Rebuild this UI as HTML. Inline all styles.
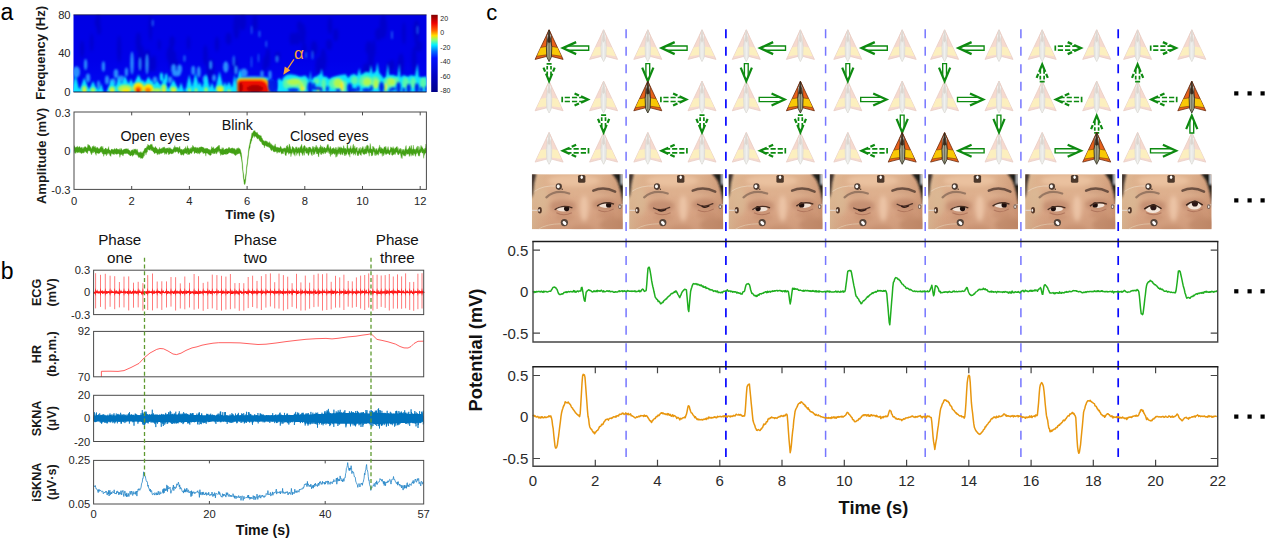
<!DOCTYPE html>
<html><head><meta charset="utf-8"><title>Figure</title>
<style>html,body{margin:0;padding:0;background:#fff;overflow:hidden}svg{display:block;font-family:"Liberation Sans", sans-serif}</style>
</head><body>
<svg width="1269" height="541" viewBox="0 0 1269 541">
<text x="0.6" y="19.6" font-size="23" text-anchor="start" fill="#000">a</text>
<defs>
<clipPath id="spc"><rect x="73.5" y="14.8" width="353.0" height="77.2"/></clipPath>
<filter id="b1" x="-50%" y="-50%" width="200%" height="200%"><feGaussianBlur stdDeviation="0.9"/></filter>
<filter id="b2" x="-50%" y="-50%" width="200%" height="200%"><feGaussianBlur stdDeviation="1.6"/></filter>
<linearGradient id="jet" x1="0" y1="0" x2="0" y2="1"><stop offset="0" stop-color="#800000"/><stop offset="0.11" stop-color="#f00000"/><stop offset="0.2" stop-color="#ff6000"/><stop offset="0.27" stop-color="#ffe000"/><stop offset="0.33" stop-color="#80ff80"/><stop offset="0.39" stop-color="#00f0ff"/><stop offset="0.47" stop-color="#0070ff"/><stop offset="0.56" stop-color="#0010ff"/><stop offset="0.8" stop-color="#0000c0"/><stop offset="1" stop-color="#000088"/></linearGradient>
<linearGradient id="spbg" x1="0" y1="0" x2="0" y2="1"><stop offset="0" stop-color="#0000e4"/><stop offset="0.6" stop-color="#0000ea"/><stop offset="1" stop-color="#0008f4"/></linearGradient>
</defs>
<rect x="73.5" y="14.8" width="353.0" height="77.2" fill="url(#spbg)"/>
<g clip-path="url(#spc)">
<g filter="url(#b2)" opacity="0.55">
<ellipse cx="267.9" cy="57.6" rx="2.2" ry="9.6" fill="#0000b8"/>
<ellipse cx="388.7" cy="68.2" rx="1.8" ry="6.9" fill="#0000b8"/>
<ellipse cx="91.7" cy="42.6" rx="1.6" ry="9.1" fill="#0000b8"/>
<ellipse cx="302.6" cy="33.5" rx="3.2" ry="10.3" fill="#0000b8"/>
<ellipse cx="82.0" cy="49.2" rx="2.1" ry="8.7" fill="#0000b8"/>
<ellipse cx="173.6" cy="56.8" rx="2.6" ry="6.4" fill="#0000b8"/>
<ellipse cx="265.8" cy="61.7" rx="2.3" ry="7.0" fill="#0000b8"/>
<ellipse cx="210.5" cy="70.4" rx="3.9" ry="11.1" fill="#0000b8"/>
<ellipse cx="392.2" cy="65.3" rx="2.4" ry="5.8" fill="#0000b8"/>
<ellipse cx="304.2" cy="49.2" rx="2.4" ry="7.0" fill="#0000b8"/>
<ellipse cx="217.0" cy="44.2" rx="2.2" ry="7.6" fill="#0000b8"/>
<ellipse cx="235.1" cy="66.2" rx="3.0" ry="7.6" fill="#0000b8"/>
<ellipse cx="171.6" cy="43.3" rx="2.0" ry="6.8" fill="#0000b8"/>
<ellipse cx="255.0" cy="22.7" rx="2.7" ry="8.3" fill="#0000b8"/>
<ellipse cx="323.3" cy="59.8" rx="3.2" ry="11.2" fill="#0000b8"/>
<ellipse cx="205.4" cy="55.3" rx="2.3" ry="10.2" fill="#0000b8"/>
<ellipse cx="188.5" cy="42.8" rx="1.7" ry="7.2" fill="#0000b8"/>
<ellipse cx="416.5" cy="30.8" rx="3.2" ry="10.9" fill="#0000b8"/>
<ellipse cx="329.1" cy="44.5" rx="3.0" ry="5.6" fill="#0000b8"/>
<ellipse cx="99.1" cy="29.0" rx="1.9" ry="5.9" fill="#0000b8"/>
<ellipse cx="119.1" cy="48.9" rx="2.0" ry="13.6" fill="#0000b8"/>
<ellipse cx="314.1" cy="48.2" rx="3.3" ry="7.4" fill="#0000b8"/>
<ellipse cx="400.6" cy="65.0" rx="3.3" ry="9.3" fill="#0000b8"/>
<ellipse cx="370.8" cy="59.7" rx="3.2" ry="13.2" fill="#0000b8"/>
<ellipse cx="297.2" cy="38.4" rx="2.9" ry="6.8" fill="#0000b8"/>
<ellipse cx="141.3" cy="58.6" rx="3.5" ry="13.7" fill="#0000b8"/>
<ellipse cx="373.9" cy="48.4" rx="1.7" ry="9.4" fill="#0000b8"/>
<ellipse cx="401.1" cy="62.1" rx="2.7" ry="9.1" fill="#0000b8"/>
<ellipse cx="150.4" cy="27.8" rx="1.7" ry="13.0" fill="#0000b8"/>
<ellipse cx="299.5" cy="25.9" rx="2.5" ry="5.4" fill="#0000b8"/>
<ellipse cx="147.4" cy="58.9" rx="3.1" ry="9.3" fill="#0000b8"/>
<ellipse cx="170.5" cy="54.5" rx="3.9" ry="8.9" fill="#0000b8"/>
<ellipse cx="98.3" cy="21.0" rx="1.7" ry="13.6" fill="#0000b8"/>
<ellipse cx="264.4" cy="64.9" rx="1.9" ry="7.3" fill="#0000b8"/>
<ellipse cx="317.8" cy="68.1" rx="2.4" ry="5.6" fill="#0000b8"/>
<ellipse cx="378.5" cy="34.1" rx="3.4" ry="6.4" fill="#0000b8"/>
<ellipse cx="318.8" cy="65.1" rx="3.3" ry="8.2" fill="#0000b8"/>
<ellipse cx="330.0" cy="25.6" rx="2.3" ry="8.8" fill="#0000b8"/>
<ellipse cx="383.2" cy="26.4" rx="3.7" ry="12.2" fill="#0000b8"/>
<ellipse cx="416.5" cy="38.5" rx="2.0" ry="7.2" fill="#0000b8"/>
<ellipse cx="365.7" cy="72.0" rx="3.2" ry="9.3" fill="#0000b8"/>
<ellipse cx="174.8" cy="64.7" rx="3.7" ry="5.8" fill="#0000b8"/>
<ellipse cx="149.7" cy="64.5" rx="3.6" ry="7.8" fill="#0000b8"/>
<ellipse cx="172.1" cy="42.0" rx="2.8" ry="5.9" fill="#0000b8"/>
<ellipse cx="368.9" cy="47.9" rx="3.4" ry="7.1" fill="#0000b8"/>
<ellipse cx="414.2" cy="60.0" rx="2.4" ry="13.5" fill="#0000b8"/>
<ellipse cx="320.8" cy="65.0" rx="1.6" ry="5.5" fill="#0000b8"/>
<ellipse cx="335.7" cy="34.9" rx="2.8" ry="6.4" fill="#0000b8"/>
<ellipse cx="418.7" cy="46.1" rx="3.6" ry="5.7" fill="#0000b8"/>
<ellipse cx="242.6" cy="21.3" rx="3.7" ry="9.0" fill="#0000b8"/>
<ellipse cx="97.7" cy="22.1" rx="2.8" ry="5.7" fill="#0000b8"/>
<ellipse cx="138.4" cy="42.3" rx="2.7" ry="10.2" fill="#0000b8"/>
<ellipse cx="292.5" cy="38.8" rx="3.0" ry="6.4" fill="#0000b8"/>
<ellipse cx="170.8" cy="62.7" rx="1.9" ry="7.0" fill="#0000b8"/>
<ellipse cx="159.3" cy="44.7" rx="1.5" ry="5.3" fill="#0000b8"/>
<ellipse cx="236.4" cy="26.9" rx="3.2" ry="12.2" fill="#0000b8"/>
<ellipse cx="277.6" cy="56.8" rx="2.5" ry="5.4" fill="#0000b8"/>
<ellipse cx="228.6" cy="38.7" rx="3.0" ry="6.2" fill="#0000b8"/>
<ellipse cx="153.9" cy="63.6" rx="2.2" ry="8.7" fill="#0000b8"/>
<ellipse cx="403.9" cy="33.3" rx="1.9" ry="11.3" fill="#0000b8"/>
</g>
<g filter="url(#b1)">
<ellipse cx="85.6" cy="64.5" rx="1.6500000000000001" ry="5.75" fill="#2a96ff" opacity="0.95"/>
<ellipse cx="132.0" cy="63.0" rx="1.7850000000000004" ry="11.5" fill="#2a96ff" opacity="0.95"/>
<ellipse cx="147.0" cy="64.0" rx="1.6500000000000001" ry="10.35" fill="#2a96ff" opacity="0.95"/>
<ellipse cx="140.0" cy="64.0" rx="1.3800000000000001" ry="6.8999999999999995" fill="#2a96ff" opacity="0.95"/>
<ellipse cx="152.7" cy="23.0" rx="0.8800000000000001" ry="3.4499999999999997" fill="#2a96ff" opacity="0.7"/>
<ellipse cx="184.5" cy="58.5" rx="1.1" ry="3.4499999999999997" fill="#2a96ff" opacity="0.7"/>
<ellipse cx="210.7" cy="65.0" rx="1.5150000000000001" ry="4.6" fill="#2a96ff" opacity="0.95"/>
<ellipse cx="126.4" cy="72.0" rx="1.6500000000000001" ry="4.6" fill="#2a96ff" opacity="0.95"/>
<ellipse cx="193.2" cy="70.4" rx="1.9200000000000002" ry="4.6" fill="#2a96ff" opacity="0.95"/>
<ellipse cx="103.4" cy="66.5" rx="1.6500000000000001" ry="5.175" fill="#2a96ff" opacity="0.95"/>
<ellipse cx="116.0" cy="73.6" rx="2.325" ry="4.6" fill="#2a96ff" opacity="0.95"/>
<ellipse cx="198.8" cy="72.0" rx="1.9200000000000002" ry="5.75" fill="#2a96ff" opacity="0.95"/>
<ellipse cx="225.8" cy="67.0" rx="2.73" ry="5.75" fill="#2a96ff" opacity="0.95"/>
<ellipse cx="233.8" cy="61.0" rx="1.32" ry="5.75" fill="#2a96ff" opacity="0.7"/>
<ellipse cx="244.0" cy="73.0" rx="3.675" ry="4.6" fill="#2a96ff" opacity="0.95"/>
<ellipse cx="76.4" cy="72.0" rx="3.675" ry="5.75" fill="#2a96ff" opacity="0.95"/>
<ellipse cx="98.6" cy="85.0" rx="1.6500000000000001" ry="4.6" fill="#2a96ff" opacity="0.95"/>
<ellipse cx="173.6" cy="68.5" rx="2.46" ry="4.6" fill="#2a96ff" opacity="0.95"/>
<ellipse cx="179.6" cy="69.0" rx="2.46" ry="4.6" fill="#2a96ff" opacity="0.95"/>
<ellipse cx="176.5" cy="73.5" rx="4.3500000000000005" ry="2.9899999999999998" fill="#2a96ff" opacity="0.95"/>
<ellipse cx="121.0" cy="79.0" rx="3.675" ry="3.4499999999999997" fill="#2a96ff" opacity="0.95"/>
<ellipse cx="113.0" cy="82.0" rx="3.0" ry="3.4499999999999997" fill="#2a96ff" opacity="0.95"/>
<ellipse cx="170.0" cy="80.0" rx="2.325" ry="3.4499999999999997" fill="#2a96ff" opacity="0.95"/>
<ellipse cx="214.0" cy="78.0" rx="1.9200000000000002" ry="3.4499999999999997" fill="#2a96ff" opacity="0.95"/>
<ellipse cx="251.6" cy="30.0" rx="0.66" ry="4.6" fill="#2a96ff" opacity="0.7"/>
<ellipse cx="259.5" cy="34.0" rx="0.8800000000000001" ry="3.4499999999999997" fill="#2a96ff" opacity="0.7"/>
<ellipse cx="266.3" cy="44.0" rx="0.77" ry="3.4499999999999997" fill="#2a96ff" opacity="0.7"/>
<ellipse cx="251.5" cy="62.0" rx="0.66" ry="5.75" fill="#2a96ff" opacity="0.7"/>
<ellipse cx="258.5" cy="58.0" rx="0.66" ry="4.6" fill="#2a96ff" opacity="0.7"/>
<ellipse cx="277.0" cy="59.0" rx="1.6500000000000001" ry="3.4499999999999997" fill="#2a96ff" opacity="0.7"/>
<ellipse cx="312.5" cy="55.0" rx="0.8800000000000001" ry="4.6" fill="#2a96ff" opacity="0.7"/>
<ellipse cx="392.0" cy="35.0" rx="0.77" ry="4.6" fill="#2a96ff" opacity="0.7"/>
<ellipse cx="417.5" cy="30.0" rx="0.77" ry="4.6" fill="#2a96ff" opacity="0.7"/>
<ellipse cx="306.0" cy="55.0" rx="0.77" ry="3.4499999999999997" fill="#2a96ff" opacity="0.7"/>
<ellipse cx="270.0" cy="75.0" rx="1.6500000000000001" ry="4.6" fill="#2a96ff" opacity="0.95"/>
<ellipse cx="262.0" cy="74.0" rx="1.6500000000000001" ry="3.4499999999999997" fill="#2a96ff" opacity="0.95"/>
<ellipse cx="88.0" cy="78.0" rx="2.19" ry="4.6" fill="#2a96ff" opacity="0.95"/>
<ellipse cx="236.0" cy="70.0" rx="1.6500000000000001" ry="4.6" fill="#2a96ff" opacity="0.95"/>
<ellipse cx="205.0" cy="79.0" rx="2.325" ry="3.4499999999999997" fill="#2a96ff" opacity="0.95"/>
<ellipse cx="155.0" cy="80.0" rx="2.325" ry="3.4499999999999997" fill="#2a96ff" opacity="0.95"/>
<ellipse cx="107.0" cy="80.0" rx="2.055" ry="4.6" fill="#2a96ff" opacity="0.95"/>
</g>
<g filter="url(#b1)">
<rect x="73" y="88.2" width="26" height="5" fill="#08e4ff" opacity="0.8"/>
<rect x="108" y="88.2" width="70" height="5" fill="#08e4ff" opacity="0.8"/>
<rect x="185" y="88.2" width="14" height="5" fill="#08e4ff" opacity="0.8"/>
<rect x="203" y="88.2" width="7" height="5" fill="#08e4ff" opacity="0.8"/>
<rect x="215" y="88.2" width="22" height="5" fill="#08e4ff" opacity="0.8"/>
<path d="M71.1 93.0 Q73.1 83.8 75.5 74.5 Q77.9 83.8 79.9 93.0 Z" fill="#08e4ff" opacity="1.0"/>
<path d="M78.7 93.0 Q81.2 85.2 84.3 77.5 Q87.4 85.2 89.9 93.0 Z" fill="#08e4ff" opacity="1.0"/>
<path d="M87.7 93.0 Q90.1 87.0 93.0 81.0 Q95.9 87.0 98.3 93.0 Z" fill="#08e4ff" opacity="1.0"/>
<path d="M105.8 93.0 Q108.6 86.2 112.0 79.5 Q115.4 86.2 118.2 93.0 Z" fill="#08e4ff" opacity="1.0"/>
<path d="M113.1 93.0 Q115.8 85.2 119.0 77.5 Q122.2 85.2 124.9 93.0 Z" fill="#08e4ff" opacity="1.0"/>
<path d="M117.5 93.0 Q120.8 84.5 125.0 76.0 Q129.2 84.5 132.6 93.0 Z" fill="#08e4ff" opacity="1.0"/>
<path d="M125.0 93.0 Q127.7 85.8 131.0 78.5 Q134.3 85.8 137.1 93.0 Z" fill="#08e4ff" opacity="1.0"/>
<path d="M147.9 93.0 Q152.0 86.8 157.0 80.5 Q162.0 86.8 166.1 93.0 Z" fill="#08e4ff" opacity="1.0"/>
<path d="M158.7 93.0 Q161.1 85.2 164.0 77.5 Q166.9 85.2 169.3 93.0 Z" fill="#08e4ff" opacity="1.0"/>
<path d="M166.6 93.0 Q169.7 86.2 173.4 79.5 Q177.1 86.2 180.2 93.0 Z" fill="#08e4ff" opacity="1.0"/>
<path d="M185.1 93.0 Q186.9 83.8 189.2 74.5 Q191.5 83.8 193.3 93.0 Z" fill="#08e4ff" opacity="1.0"/>
<path d="M190.9 93.0 Q193.0 82.8 195.6 72.5 Q198.2 82.8 200.3 93.0 Z" fill="#08e4ff" opacity="1.0"/>
<path d="M201.0 93.0 Q203.2 83.2 206.0 73.5 Q208.8 83.2 211.0 93.0 Z" fill="#08e4ff" opacity="1.0"/>
<path d="M214.5 93.0 Q216.8 82.2 219.5 71.5 Q222.2 82.2 224.5 93.0 Z" fill="#08e4ff" opacity="1.0"/>
<path d="M223.7 93.0 Q226.1 87.2 229.0 81.5 Q231.9 87.2 234.3 93.0 Z" fill="#08e4ff" opacity="1.0"/>
<path d="M231.1 93.0 Q232.7 83.8 234.6 74.5 Q236.5 83.8 238.1 93.0 Z" fill="#08e4ff" opacity="1.0"/>
<path d="M129.4 93.0 Q133.5 83.8 138.5 74.5 Q143.5 83.8 147.6 93.0 Z" fill="#08e4ff" opacity="1.0"/>
<path d="M139.4 93.0 Q143.5 84.8 148.5 76.5 Q153.5 84.8 157.6 93.0 Z" fill="#08e4ff" opacity="1.0"/>
<path d="M136.2 93.0 Q139.3 86.2 143.0 79.5 Q146.7 86.2 149.8 93.0 Z" fill="#08e4ff" opacity="1.0"/>
<path d="M146.7 93.0 Q149.1 86.2 152.0 79.5 Q154.9 86.2 157.3 93.0 Z" fill="#08e4ff" opacity="1.0"/>
<path d="M234.4 93.0 Q236.9 80.8 240.0 68.5 Q243.1 80.8 245.6 93.0 Z" fill="#08e4ff" opacity="1.0"/>
<path d="M269.1 93.0 Q270.4 85.8 272.0 78.5 Q273.6 85.8 274.9 93.0 Z" fill="#08e4ff" opacity="1.0"/>
<path d="M98.0 93.0 Q99.3 88.2 101.0 83.5 Q102.7 88.2 104.0 93.0 Z" fill="#08e4ff" opacity="1.0"/>
<path d="M177.2 93.0 Q178.9 87.8 181.0 82.5 Q183.1 87.8 184.8 93.0 Z" fill="#08e4ff" opacity="1.0"/>
<path d="M196.2 93.0 Q197.9 87.2 200.0 81.5 Q202.1 87.2 203.8 93.0 Z" fill="#08e4ff" opacity="1.0"/>
<path d="M208.2 93.0 Q209.9 87.8 212.0 82.5 Q214.1 87.8 215.8 93.0 Z" fill="#08e4ff" opacity="1.0"/>
<path d="M221.2 93.0 Q222.9 87.2 225.0 81.5 Q227.1 87.2 228.8 93.0 Z" fill="#08e4ff" opacity="1.0"/>
<ellipse cx="161.4" cy="77.0" rx="1.7" ry="4.5" fill="#08e4ff" opacity="1.0"/>
<ellipse cx="166.2" cy="78.5" rx="1.5" ry="5" fill="#08e4ff" opacity="1.0"/>
<ellipse cx="253.0" cy="79.2" rx="17" ry="2.8" fill="#08e4ff" opacity="0.9"/>
<ellipse cx="253.0" cy="77.6" rx="15" ry="1.6" fill="#2a96ff" opacity="0.8"/>
</g>
<g filter="url(#b1)">
<path d="M276.9 91.7 L277.6 80.0 L279.5 78.1 L282.0 81.2 L283.2 77.4 L286.4 74.9 L290.2 74.3 L295.2 74.9 L300.3 76.8 L305.3 75.5 L307.8 78.1 L309.1 81.2 L310.4 70.5 L311.6 81.2 L313.5 77.4 L316.7 76.2 L320.4 73.7 L321.7 68.6 L323.0 76.2 L326.7 76.8 L329.3 79.3 L331.8 77.4 L335.6 76.2 L340.6 74.9 L345.7 74.3 L348.2 78.1 L350.7 74.9 L354.5 73.7 L357.0 76.2 L359.5 68.0 L360.8 74.9 L365.8 71.8 L369.6 72.4 L370.9 64.8 L372.8 73.7 L375.9 71.1 L377.4 62.3 L379.1 72.4 L382.2 76.2 L384.1 78.7 L386.0 76.2 L387.9 63.6 L389.2 74.9 L393.6 74.9 L397.4 76.8 L399.3 63.6 L400.5 77.4 L403.7 74.9 L407.5 76.8 L411.2 74.9 L415.0 76.2 L417.5 63.6 L418.8 76.8 L422.6 77.4 L427.0 76.2 L427.0 92.6 L276.9 92.6 Z" fill="#08e4ff"/>
</g>
<g filter="url(#b1)">
<ellipse cx="295.2" cy="83.1" rx="11" ry="5.2" fill="#5cf7a8" opacity="0.95"/>
<ellipse cx="286.4" cy="83.7" rx="3.5" ry="5" fill="#5cf7a8" opacity="0.95"/>
<ellipse cx="304.0" cy="85.0" rx="3.5" ry="6" fill="#5cf7a8" opacity="0.95"/>
<ellipse cx="323.6" cy="84.4" rx="2.6" ry="6" fill="#5cf7a8" opacity="0.95"/>
<ellipse cx="316.7" cy="81.2" rx="3" ry="3" fill="#5cf7a8" opacity="0.95"/>
<ellipse cx="336.8" cy="83.7" rx="8" ry="6" fill="#5cf7a8" opacity="0.95"/>
<ellipse cx="344.4" cy="86.3" rx="3" ry="6" fill="#5cf7a8" opacity="0.95"/>
<ellipse cx="354.5" cy="80.6" rx="3.5" ry="4" fill="#5cf7a8" opacity="0.95"/>
<ellipse cx="365.8" cy="81.2" rx="7" ry="6" fill="#5cf7a8" opacity="0.95"/>
<ellipse cx="375.3" cy="82.5" rx="5" ry="6.5" fill="#5cf7a8" opacity="0.95"/>
<ellipse cx="389.8" cy="83.1" rx="6.5" ry="6" fill="#5cf7a8" opacity="0.95"/>
<ellipse cx="396.1" cy="81.2" rx="3" ry="4" fill="#5cf7a8" opacity="0.95"/>
<ellipse cx="405.6" cy="83.1" rx="3.5" ry="5.5" fill="#5cf7a8" opacity="0.95"/>
<ellipse cx="413.1" cy="83.1" rx="3" ry="5.5" fill="#5cf7a8" opacity="0.95"/>
<ellipse cx="423.2" cy="83.1" rx="3.2" ry="5.5" fill="#5cf7a8" opacity="0.95"/>
<ellipse cx="294.0" cy="81.9" rx="7" ry="3.2" fill="#b4f84c" opacity="0.95"/>
<ellipse cx="301.5" cy="86.9" rx="2.2" ry="4.5" fill="#b4f84c" opacity="0.95"/>
<ellipse cx="338.1" cy="83.1" rx="4.5" ry="4.5" fill="#b4f84c" opacity="0.95"/>
<ellipse cx="367.1" cy="81.9" rx="4" ry="3.6" fill="#b4f84c" opacity="0.95"/>
<ellipse cx="375.9" cy="83.7" rx="2.5" ry="4.5" fill="#b4f84c" opacity="0.95"/>
<ellipse cx="391.1" cy="81.9" rx="4" ry="3.6" fill="#b4f84c" opacity="0.95"/>
<ellipse cx="318.5" cy="89.4" rx="2" ry="2.5" fill="#b4f84c" opacity="0.95"/>
<ellipse cx="341.9" cy="86.9" rx="1.5" ry="4.8" fill="#ffe800" opacity="0.95"/>
<ellipse cx="385.6" cy="87.5" rx="1.3" ry="4.2" fill="#ffe800" opacity="0.95"/>
<ellipse cx="303.0" cy="89.0" rx="1.3" ry="2.6" fill="#ffe800" opacity="0.95"/>
<ellipse cx="84.3" cy="89.4" rx="2.4" ry="3.6" fill="#b4f84c" opacity="0.95"/>
<ellipse cx="93.0" cy="90.2" rx="2.4" ry="2.6" fill="#b4f84c" opacity="0.95"/>
<ellipse cx="112.0" cy="89.6" rx="3.0" ry="3.2" fill="#b4f84c" opacity="0.95"/>
<ellipse cx="125.0" cy="88.8" rx="7.5" ry="4" fill="#b4f84c" opacity="0.95"/>
<ellipse cx="163.8" cy="88.8" rx="2.5" ry="4.2" fill="#b4f84c" opacity="0.95"/>
<ellipse cx="173.4" cy="89.6" rx="3.2" ry="3.2" fill="#b4f84c" opacity="0.95"/>
<ellipse cx="220.0" cy="89.0" rx="4" ry="3.6" fill="#b4f84c" opacity="0.95"/>
<ellipse cx="157.0" cy="90.4" rx="4" ry="2.4" fill="#b4f84c" opacity="0.95"/>
<ellipse cx="189.5" cy="90.5" rx="1.4" ry="2.4" fill="#b4f84c" opacity="0.95"/>
<ellipse cx="196.0" cy="90.5" rx="1.4" ry="2.4" fill="#b4f84c" opacity="0.95"/>
<ellipse cx="206.0" cy="90.0" rx="1.8" ry="2.8" fill="#b4f84c" opacity="0.95"/>
<ellipse cx="229.0" cy="91.0" rx="2" ry="1.6" fill="#b4f84c" opacity="0.95"/>
<ellipse cx="138.5" cy="88.0" rx="5.4" ry="5.6" fill="#ffe800" opacity="1.0"/>
<ellipse cx="148.5" cy="88.8" rx="5.0" ry="4.8" fill="#ffe800" opacity="1.0"/>
<ellipse cx="126.0" cy="90.6" rx="4" ry="2.2" fill="#ffe800" opacity="1.0"/>
<ellipse cx="220.4" cy="90.6" rx="2.6" ry="2.2" fill="#ffe800" opacity="1.0"/>
<ellipse cx="84.5" cy="91.0" rx="1.6" ry="1.8" fill="#ffe800" opacity="1.0"/>
<ellipse cx="112.5" cy="91.0" rx="2" ry="1.6" fill="#ffe800" opacity="1.0"/>
<ellipse cx="164.0" cy="91.0" rx="1.6" ry="2" fill="#ffe800" opacity="1.0"/>
<ellipse cx="174.0" cy="91.0" rx="2" ry="1.6" fill="#ffe800" opacity="1.0"/>
<ellipse cx="138.4" cy="89.8" rx="3.4" ry="3.6" fill="#ff7800" opacity="1.0"/>
<ellipse cx="138.0" cy="90.8" rx="2.0" ry="2.2" fill="#f01000" opacity="1.0"/>
<ellipse cx="148.0" cy="90.2" rx="3.0" ry="2.8" fill="#ff7800" opacity="1.0"/>
<path d="M237.2 93 V81 Q237.4 78.2 241 78.2 H263 Q270.2 79 270.6 93 Z" fill="#ffe800"/>
<path d="M237.4 93 V82 Q237.6 79.2 241.5 79.2 H262 Q269.4 80 269.9 93 Z" fill="#ff7800"/>
<path d="M237.6 93 V83 Q237.8 80.2 242 80.2 H261 Q268.6 81.2 269.2 93 Z" fill="#f01000"/>
<ellipse cx="240.6" cy="87.5" rx="2.2" ry="5" fill="#9a0000" opacity="0.9"/>
<ellipse cx="255.0" cy="88.6" rx="8.5" ry="3.8" fill="#9a0000" opacity="0.8"/>
</g>
<g filter="url(#b1)">
<ellipse cx="272.5" cy="86.3" rx="4.5" ry="7" fill="#0418e6" opacity="0.95"/>
<ellipse cx="293.3" cy="90.0" rx="5.5" ry="1.8" fill="#0418e6" opacity="0.95"/>
<ellipse cx="310.1" cy="87.5" rx="2.8" ry="6" fill="#0418e6" opacity="0.95"/>
<ellipse cx="317.3" cy="88.2" rx="4.5" ry="1.5" fill="#0418e6" opacity="0.95"/>
<ellipse cx="314.1" cy="86.3" rx="1.2" ry="3.5" fill="#0418e6" opacity="0.95"/>
<ellipse cx="321.1" cy="89.8" rx="1.2" ry="2.2" fill="#0418e6" opacity="0.95"/>
<ellipse cx="327.4" cy="89.0" rx="1.4" ry="3" fill="#0418e6" opacity="0.95"/>
<ellipse cx="349.7" cy="88.2" rx="2.6" ry="5" fill="#0418e6" opacity="0.95"/>
<ellipse cx="353.9" cy="90.0" rx="3" ry="2" fill="#0418e6" opacity="0.95"/>
<ellipse cx="366.5" cy="90.0" rx="4.5" ry="1.8" fill="#0418e6" opacity="0.95"/>
<ellipse cx="371.5" cy="88.2" rx="1.2" ry="3" fill="#0418e6" opacity="0.95"/>
<ellipse cx="381.5" cy="87.3" rx="2.4" ry="5.5" fill="#0418e6" opacity="0.95"/>
<ellipse cx="393.0" cy="89.0" rx="3" ry="1.4" fill="#0418e6" opacity="0.95"/>
<ellipse cx="390.4" cy="90.3" rx="1.2" ry="1.6" fill="#0418e6" opacity="0.95"/>
<ellipse cx="398.6" cy="87.5" rx="2.2" ry="5.5" fill="#0418e6" opacity="0.95"/>
<ellipse cx="408.7" cy="88.5" rx="2" ry="4.5" fill="#0418e6" opacity="0.95"/>
<ellipse cx="416.9" cy="88.2" rx="2" ry="5" fill="#0418e6" opacity="0.95"/>
<ellipse cx="426.4" cy="89.0" rx="1.2" ry="3" fill="#0418e6" opacity="0.95"/>
<ellipse cx="358.3" cy="89.0" rx="1.6" ry="3" fill="#0418e6" opacity="0.95"/>
<ellipse cx="338.1" cy="90.3" rx="2.5" ry="1.4" fill="#0418e6" opacity="0.95"/>
<ellipse cx="403.7" cy="90.0" rx="1.4" ry="2.2" fill="#0418e6" opacity="0.95"/>
<ellipse cx="421.3" cy="89.5" rx="1.4" ry="2.8" fill="#0418e6" opacity="0.95"/>
</g>
</g>
<path d="M73.5 14.8 H426.5" stroke="#202040" stroke-width="0.8"/>
<path d="M73.5 92.0 H426.5" stroke="#101030" stroke-width="0.9"/>
<text x="70.6" y="18.8" font-size="11.2" text-anchor="end" fill="#262626">80</text>
<text x="70.6" y="57.4" font-size="11.2" text-anchor="end" fill="#262626">40</text>
<text x="70.6" y="96.0" font-size="11.2" text-anchor="end" fill="#262626">0</text>
<text x="45.5" y="52.9" font-size="13" text-anchor="middle" font-weight="bold" fill="#1a1a1a" transform="rotate(-90 45.5 52.9)">Frequency (Hz)</text>
<rect x="431.2" y="14.8" width="6.5" height="77.2" fill="url(#jet)"/>
<text x="440.3" y="20.8" font-size="7" text-anchor="start" fill="#262626">20</text>
<text x="440.3" y="35.1" font-size="7" text-anchor="start" fill="#262626">0</text>
<text x="440.3" y="49.7" font-size="7" text-anchor="start" fill="#262626">-20</text>
<text x="440.3" y="64.1" font-size="7" text-anchor="start" fill="#262626">-40</text>
<text x="440.3" y="78.7" font-size="7" text-anchor="start" fill="#262626">-60</text>
<text x="440.3" y="92.7" font-size="7" text-anchor="start" fill="#262626">-80</text>
<text x="294.0" y="59.2" font-size="17" text-anchor="start" fill="#f5a43a">α</text>
<path d="M294 59.4 L287 69.6" stroke="#f5a43a" stroke-width="1.2"/><path d="M283.3 74.8 L284.8 66.4 L290.4 70.3 Z" fill="#f5a43a"/>
<path d="M74.0 145.7 L74.5 145.8 L74.9 147.1 L75.4 147.6 L75.8 147.5 L76.3 147.3 L76.7 146.7 L77.2 147.5 L77.6 145.9 L78.1 147.8 L78.5 147.2 L79.0 146.7 L79.4 146.8 L79.9 146.6 L80.3 147.8 L80.8 147.9 L81.2 147.7 L81.7 146.9 L82.1 148.2 L82.6 148.7 L83.0 147.0 L83.5 148.5 L83.9 148.2 L84.4 147.1 L84.8 146.6 L85.3 146.9 L85.7 146.6 L86.2 147.6 L86.6 147.9 L87.1 148.1 L87.5 146.4 L88.0 144.0 L88.4 145.5 L88.9 145.0 L89.3 145.1 L89.8 146.1 L90.2 146.6 L90.7 147.3 L91.1 148.1 L91.6 148.9 L92.0 147.2 L92.5 146.0 L92.9 147.5 L93.4 146.4 L93.8 145.5 L94.3 147.4 L94.7 146.4 L95.2 148.2 L95.6 146.2 L96.1 148.7 L96.5 147.6 L97.0 148.1 L97.4 147.2 L97.9 147.5 L98.3 149.0 L98.8 148.4 L99.2 148.5 L99.7 148.9 L100.1 147.2 L100.6 147.5 L101.0 146.2 L101.5 146.3 L101.9 147.5 L102.4 148.3 L102.8 146.2 L103.3 148.6 L103.7 149.8 L104.2 149.1 L104.6 149.5 L105.1 148.5 L105.5 148.1 L106.0 148.1 L106.4 148.8 L106.9 149.5 L107.3 149.2 L107.8 149.0 L108.2 148.3 L108.7 146.5 L109.1 149.4 L109.6 149.9 L110.0 149.9 L110.5 151.0 L110.9 150.3 L111.4 149.0 L111.8 149.1 L112.3 149.6 L112.7 149.2 L113.2 149.6 L113.6 149.7 L114.1 149.3 L114.5 148.4 L115.0 148.8 L115.4 149.0 L115.9 149.7 L116.3 148.1 L116.8 148.8 L117.2 149.4 L117.7 149.0 L118.1 149.0 L118.6 149.5 L119.0 149.7 L119.5 148.6 L119.9 150.3 L120.4 150.1 L120.8 148.3 L121.3 148.4 L121.7 149.1 L122.2 150.2 L122.6 150.2 L123.1 150.1 L123.5 149.6 L124.0 149.0 L124.4 149.1 L124.9 149.2 L125.3 148.9 L125.8 148.7 L126.2 148.6 L126.7 149.0 L127.1 148.8 L127.6 149.5 L128.0 148.4 L128.5 149.8 L128.9 149.9 L129.4 150.3 L129.8 150.6 L130.3 151.7 L130.7 151.4 L131.2 149.8 L131.6 150.9 L132.1 150.1 L132.5 149.6 L133.0 150.5 L133.4 150.6 L133.9 148.8 L134.3 149.5 L134.8 149.2 L135.2 148.9 L135.7 149.2 L136.1 150.5 L136.6 149.8 L137.0 148.8 L137.5 150.0 L137.9 151.5 L138.4 152.1 L138.8 153.0 L139.3 152.4 L139.7 152.5 L140.2 151.6 L140.6 152.7 L141.1 151.7 L141.5 152.8 L142.0 153.0 L142.4 153.0 L142.9 151.6 L143.3 151.4 L143.8 150.8 L144.2 149.6 L144.7 148.6 L145.1 148.1 L145.6 148.0 L146.0 148.5 L146.5 147.3 L146.9 146.3 L147.4 146.7 L147.8 144.2 L148.3 145.2 L148.7 144.9 L149.2 145.5 L149.6 145.7 L150.1 145.3 L150.5 144.4 L151.0 144.2 L151.4 145.3 L151.9 143.8 L152.3 145.3 L152.8 147.1 L153.2 146.8 L153.7 147.7 L154.1 147.9 L154.6 147.9 L155.0 146.8 L155.5 146.6 L155.9 147.6 L156.4 148.0 L156.8 147.9 L157.3 149.2 L157.7 149.3 L158.2 149.5 L158.6 149.2 L159.1 149.3 L159.5 147.3 L160.0 148.8 L160.4 149.0 L160.9 148.9 L161.3 147.9 L161.8 149.0 L162.2 148.6 L162.7 147.4 L163.1 148.1 L163.6 146.9 L164.0 147.8 L164.5 146.8 L164.9 148.6 L165.4 148.2 L165.8 148.7 L166.3 148.1 L166.7 148.4 L167.2 148.4 L167.6 147.8 L168.1 148.3 L168.5 149.1 L169.0 147.2 L169.4 148.4 L169.9 148.0 L170.3 147.8 L170.8 148.9 L171.2 148.7 L171.7 149.3 L172.1 149.4 L172.6 149.4 L173.0 149.2 L173.5 148.2 L173.9 147.2 L174.4 147.7 L174.8 145.5 L175.3 147.5 L175.7 147.3 L176.2 147.5 L176.6 147.2 L177.1 147.8 L177.5 147.3 L178.0 147.3 L178.4 147.7 L178.9 148.5 L179.3 147.0 L179.8 146.2 L180.2 148.5 L180.7 149.7 L181.1 148.9 L181.6 149.6 L182.0 149.6 L182.5 150.5 L182.9 149.1 L183.4 149.1 L183.8 150.0 L184.3 149.3 L184.7 148.0 L185.2 148.7 L185.6 146.6 L186.1 148.4 L186.5 148.4 L187.0 148.7 L187.4 145.6 L187.9 147.5 L188.3 148.5 L188.8 148.3 L189.2 148.2 L189.7 149.7 L190.1 148.9 L190.6 147.7 L191.0 148.8 L191.5 147.2 L191.9 148.7 L192.4 146.5 L192.8 145.2 L193.3 146.6 L193.7 146.4 L194.2 148.2 L194.6 147.1 L195.1 147.9 L195.5 146.9 L196.0 147.3 L196.4 147.5 L196.9 148.6 L197.3 147.7 L197.8 147.4 L198.2 147.9 L198.7 148.6 L199.1 146.9 L199.6 147.8 L200.0 147.3 L200.5 147.2 L200.9 146.7 L201.4 146.9 L201.8 146.8 L202.3 147.1 L202.7 147.0 L203.2 148.0 L203.6 147.5 L204.1 147.7 L204.5 149.0 L205.0 148.5 L205.4 148.4 L205.9 148.6 L206.3 148.3 L206.8 148.6 L207.2 148.0 L207.7 148.7 L208.1 148.9 L208.6 149.1 L209.0 150.0 L209.5 149.2 L209.9 150.3 L210.4 150.2 L210.8 149.6 L211.3 148.7 L211.7 146.4 L212.2 148.1 L212.6 147.7 L213.1 148.5 L213.5 146.8 L214.0 148.9 L214.4 149.0 L214.9 148.6 L215.3 148.6 L215.8 148.1 L216.2 147.5 L216.7 147.4 L217.1 146.8 L217.6 146.6 L218.0 146.4 L218.5 145.3 L218.9 146.5 L219.4 145.1 L219.8 148.6 L220.3 149.4 L220.7 149.0 L221.2 148.9 L221.6 149.7 L222.1 147.4 L222.5 148.9 L223.0 148.2 L223.4 147.7 L223.9 149.9 L224.3 149.7 L224.8 149.5 L225.2 148.9 L225.7 148.9 L226.1 149.0 L226.6 148.3 L227.0 148.9 L227.5 148.8 L227.9 149.0 L228.4 148.1 L228.8 147.2 L229.3 147.3 L229.7 148.2 L230.2 148.7 L230.6 148.7 L231.1 147.9 L231.5 148.1 L232.0 148.8 L232.4 147.9 L232.9 147.8 L233.3 148.8 L233.8 148.4 L234.2 148.2 L234.7 148.9 L235.1 148.8 L235.6 150.3 L236.0 150.0 L236.5 148.4 L236.9 149.7 L237.4 147.9 L237.8 148.6 L238.3 147.6 L238.7 148.7 L239.2 148.4 L239.6 148.5 L240.1 149.6 L240.5 149.7 L241.0 152.1 L241.4 153.2 L241.9 157.5 L242.3 161.7 L242.8 166.5 L243.2 171.9 L243.7 174.7 L244.1 179.0 L244.6 179.8 L245.0 179.5 L245.5 176.0 L245.9 173.4 L246.4 168.5 L246.8 164.8 L247.3 161.4 L247.7 157.0 L248.2 153.5 L248.6 149.1 L249.1 146.2 L249.5 144.4 L250.0 141.9 L250.4 139.5 L250.9 138.7 L251.3 136.5 L251.8 133.2 L252.2 132.6 L252.7 133.5 L253.1 132.1 L253.6 130.9 L254.0 130.5 L254.5 131.1 L254.9 130.4 L255.4 132.3 L255.8 132.0 L256.3 132.9 L256.7 132.4 L257.2 132.2 L257.6 133.3 L258.1 134.3 L258.5 134.6 L259.0 135.1 L259.4 135.8 L259.9 134.8 L260.3 136.1 L260.8 135.7 L261.2 135.7 L261.7 138.1 L262.1 138.0 L262.6 139.3 L263.0 140.1 L263.5 140.8 L263.9 140.7 L264.4 141.7 L264.8 140.8 L265.3 140.7 L265.7 141.2 L266.2 141.2 L266.6 141.2 L267.1 141.6 L267.5 141.7 L268.0 142.9 L268.4 142.7 L268.9 142.7 L269.3 141.5 L269.8 143.3 L270.2 142.8 L270.7 144.3 L271.1 144.8 L271.6 143.7 L272.0 145.5 L272.5 145.1 L272.9 145.7 L273.4 146.7 L273.8 145.5 L274.3 146.5 L274.7 145.3 L275.2 143.8 L275.6 146.1 L276.1 147.0 L276.5 147.3 L277.0 147.7 L277.4 147.1 L277.9 147.5 L278.3 147.5 L278.8 147.8 L279.2 148.0 L279.7 147.7 L280.1 147.3 L280.6 145.9 L281.0 147.2 L281.5 147.7 L281.9 148.9 L282.4 148.5 L282.8 148.9 L283.3 149.0 L283.7 147.9 L284.2 147.8 L284.6 148.2 L285.1 148.2 L285.5 147.9 L286.0 149.1 L286.4 146.1 L286.9 146.3 L287.3 144.9 L287.8 146.9 L288.2 146.9 L288.7 149.0 L289.1 143.8 L289.6 144.6 L290.0 146.1 L290.5 147.0 L290.9 148.9 L291.4 149.8 L291.8 149.0 L292.3 146.6 L292.7 146.4 L293.2 147.0 L293.6 147.7 L294.1 148.3 L294.5 148.6 L295.0 149.8 L295.4 148.3 L295.9 146.7 L296.3 148.1 L296.8 146.7 L297.2 148.5 L297.7 149.1 L298.1 147.2 L298.6 148.2 L299.0 147.9 L299.5 149.0 L299.9 147.1 L300.4 147.5 L300.8 146.1 L301.3 145.2 L301.7 144.2 L302.2 146.9 L302.6 149.1 L303.1 148.1 L303.5 146.7 L304.0 145.8 L304.4 145.3 L304.9 145.9 L305.3 146.6 L305.8 148.9 L306.2 147.9 L306.7 147.5 L307.1 147.4 L307.6 148.5 L308.0 149.6 L308.5 147.5 L308.9 147.1 L309.4 147.1 L309.8 147.2 L310.3 147.2 L310.7 148.1 L311.2 148.8 L311.6 149.2 L312.1 149.6 L312.5 146.3 L313.0 148.5 L313.4 146.4 L313.9 147.9 L314.3 149.7 L314.8 146.9 L315.2 148.1 L315.7 146.7 L316.1 145.1 L316.6 146.4 L317.0 147.9 L317.5 146.7 L317.9 148.4 L318.4 148.8 L318.8 148.4 L319.3 147.1 L319.7 149.1 L320.2 146.6 L320.6 144.8 L321.1 148.4 L321.5 146.2 L322.0 147.4 L322.4 147.6 L322.9 146.5 L323.3 148.8 L323.8 147.7 L324.2 147.3 L324.7 147.0 L325.1 148.5 L325.6 148.0 L326.0 148.6 L326.5 147.7 L326.9 146.3 L327.4 144.7 L327.8 144.4 L328.3 144.4 L328.7 147.2 L329.2 148.8 L329.6 148.2 L330.1 146.4 L330.5 146.5 L331.0 148.6 L331.4 149.8 L331.9 148.5 L332.3 148.7 L332.8 148.1 L333.2 148.2 L333.7 147.4 L334.1 149.2 L334.6 148.5 L335.0 149.4 L335.5 148.2 L335.9 147.1 L336.4 148.1 L336.8 150.1 L337.3 150.0 L337.7 148.3 L338.2 146.6 L338.6 149.0 L339.1 148.1 L339.5 146.8 L340.0 148.2 L340.4 148.3 L340.9 146.7 L341.3 147.4 L341.8 148.0 L342.2 148.8 L342.7 148.1 L343.1 148.8 L343.6 145.5 L344.0 146.6 L344.5 149.1 L344.9 148.2 L345.4 149.1 L345.8 148.1 L346.3 149.7 L346.7 149.0 L347.2 143.8 L347.6 144.6 L348.1 148.8 L348.5 148.4 L349.0 148.6 L349.4 149.1 L349.9 147.7 L350.3 148.1 L350.8 145.6 L351.2 148.1 L351.7 149.6 L352.1 148.5 L352.6 147.7 L353.0 144.6 L353.5 144.3 L353.9 147.8 L354.4 148.5 L354.8 145.8 L355.3 149.0 L355.7 148.5 L356.2 147.5 L356.6 148.3 L357.1 147.1 L357.5 151.0 L358.0 151.3 L358.4 150.5 L358.9 148.2 L359.3 149.5 L359.8 148.1 L360.2 147.2 L360.7 150.7 L361.1 149.7 L361.6 148.6 L362.0 147.6 L362.5 148.0 L362.9 146.2 L363.4 148.0 L363.8 150.1 L364.3 148.9 L364.7 149.2 L365.2 146.5 L365.6 149.1 L366.1 148.8 L366.5 145.7 L367.0 145.4 L367.4 144.8 L367.9 146.2 L368.3 145.7 L368.8 149.8 L369.2 149.0 L369.7 147.9 L370.1 143.4 L370.6 145.6 L371.0 148.7 L371.5 149.0 L371.9 149.2 L372.4 149.4 L372.8 146.0 L373.3 148.0 L373.7 146.6 L374.2 148.1 L374.6 148.2 L375.1 150.8 L375.5 149.4 L376.0 148.5 L376.4 149.5 L376.9 148.3 L377.3 150.4 L377.8 150.6 L378.2 148.9 L378.7 147.9 L379.1 147.2 L379.6 144.9 L380.0 148.5 L380.5 146.8 L380.9 149.5 L381.4 147.9 L381.8 147.5 L382.3 148.7 L382.7 149.0 L383.2 148.5 L383.6 150.0 L384.1 146.7 L384.5 147.0 L385.0 147.4 L385.4 147.5 L385.9 146.1 L386.3 148.3 L386.8 150.3 L387.2 149.5 L387.7 147.7 L388.1 146.5 L388.6 149.0 L389.0 150.0 L389.5 150.7 L389.9 149.9 L390.4 148.5 L390.8 146.7 L391.3 147.8 L391.7 147.7 L392.2 147.7 L392.6 149.0 L393.1 146.5 L393.5 149.1 L394.0 147.7 L394.4 149.6 L394.9 148.8 L395.3 147.8 L395.8 148.2 L396.2 147.1 L396.7 147.0 L397.1 146.2 L397.6 149.5 L398.0 147.4 L398.5 149.9 L398.9 150.9 L399.4 148.6 L399.8 149.2 L400.3 148.7 L400.7 148.1 L401.2 152.4 L401.6 148.9 L402.1 150.9 L402.5 149.3 L403.0 151.0 L403.4 149.5 L403.9 149.3 L404.3 151.5 L404.8 149.5 L405.2 149.0 L405.7 146.5 L406.1 145.4 L406.6 149.6 L407.0 149.4 L407.5 149.5 L407.9 150.1 L408.4 148.3 L408.8 148.9 L409.3 146.6 L409.7 145.9 L410.2 148.5 L410.6 148.6 L411.1 145.3 L411.5 146.1 L412.0 149.9 L412.4 148.8 L412.9 149.7 L413.3 145.0 L413.8 148.7 L414.2 149.5 L414.7 148.8 L415.1 150.4 L415.6 149.0 L416.0 149.3 L416.5 147.7 L416.9 146.9 L417.4 145.9 L417.8 148.2 L418.3 151.1 L418.7 146.2 L419.2 146.9 L419.6 150.1 L420.1 149.2 L420.5 148.3 L421.0 145.2 L421.4 147.5 L421.9 146.2 L422.3 147.7 L422.8 147.7 L423.2 148.9 L423.7 149.2 L424.1 150.0 L424.6 148.4 L425.0 148.4 L425.5 147.7 L425.9 144.0 L426.4 145.0 L426.4 151.2 L425.9 152.7 L425.5 153.2 L425.0 153.2 L424.6 154.5 L424.1 155.7 L423.7 158.4 L423.2 152.6 L422.8 153.2 L422.3 153.0 L421.9 152.8 L421.4 151.0 L421.0 152.3 L420.5 153.0 L420.1 152.5 L419.6 156.3 L419.2 155.0 L418.7 156.2 L418.3 155.2 L417.8 153.2 L417.4 153.1 L416.9 152.2 L416.5 154.1 L416.0 154.0 L415.6 156.5 L415.1 155.7 L414.7 153.8 L414.2 153.8 L413.8 153.3 L413.3 155.5 L412.9 155.7 L412.4 154.8 L412.0 154.8 L411.5 153.5 L411.1 156.3 L410.6 153.4 L410.2 153.6 L409.7 155.7 L409.3 156.6 L408.8 154.3 L408.4 153.7 L407.9 153.8 L407.5 154.3 L407.0 154.3 L406.6 154.5 L406.1 152.8 L405.7 155.6 L405.2 156.3 L404.8 154.9 L404.3 156.2 L403.9 154.9 L403.4 155.6 L403.0 154.2 L402.5 153.9 L402.1 158.7 L401.6 155.9 L401.2 158.3 L400.7 155.0 L400.3 153.3 L399.8 153.6 L399.4 153.1 L398.9 154.3 L398.5 154.9 L398.0 154.8 L397.6 154.2 L397.1 152.5 L396.7 152.2 L396.2 152.3 L395.8 152.5 L395.3 154.6 L394.9 154.4 L394.4 153.0 L394.0 154.8 L393.5 154.2 L393.1 154.5 L392.6 155.3 L392.2 155.4 L391.7 155.0 L391.3 151.8 L390.8 152.1 L390.4 152.9 L389.9 154.9 L389.5 154.7 L389.0 154.4 L388.6 153.6 L388.1 153.6 L387.7 153.4 L387.2 153.5 L386.8 153.8 L386.3 154.5 L385.9 154.4 L385.4 152.7 L385.0 154.7 L384.5 152.6 L384.1 153.1 L383.6 155.9 L383.2 154.6 L382.7 153.1 L382.3 156.4 L381.8 153.9 L381.4 152.9 L380.9 152.9 L380.5 153.0 L380.0 153.8 L379.6 152.0 L379.1 151.4 L378.7 154.1 L378.2 155.4 L377.8 153.7 L377.3 154.4 L376.9 153.7 L376.4 155.4 L376.0 153.2 L375.5 154.7 L375.1 155.9 L374.6 154.4 L374.2 151.9 L373.7 151.5 L373.3 152.2 L372.8 155.0 L372.4 155.6 L371.9 156.0 L371.5 155.9 L371.0 153.3 L370.6 152.4 L370.1 152.9 L369.7 152.2 L369.2 156.3 L368.8 153.8 L368.3 152.5 L367.9 152.9 L367.4 150.7 L367.0 152.1 L366.5 154.2 L366.1 153.6 L365.6 154.0 L365.2 153.3 L364.7 154.1 L364.3 154.8 L363.8 154.4 L363.4 154.0 L362.9 153.8 L362.5 152.7 L362.0 152.1 L361.6 153.1 L361.1 155.7 L360.7 154.4 L360.2 155.0 L359.8 153.0 L359.3 153.5 L358.9 153.7 L358.4 155.9 L358.0 154.3 L357.5 155.9 L357.1 154.4 L356.6 152.2 L356.2 151.6 L355.7 153.4 L355.3 155.4 L354.8 152.9 L354.4 153.9 L353.9 153.4 L353.5 155.3 L353.0 152.0 L352.6 152.9 L352.1 153.2 L351.7 154.2 L351.2 153.6 L350.8 152.2 L350.3 152.1 L349.9 157.2 L349.4 153.4 L349.0 155.4 L348.5 153.9 L348.1 154.2 L347.6 151.6 L347.2 152.4 L346.7 154.6 L346.3 154.1 L345.8 155.8 L345.4 154.0 L344.9 153.9 L344.5 156.0 L344.0 153.6 L343.6 152.6 L343.1 153.1 L342.7 155.2 L342.2 153.9 L341.8 154.3 L341.3 152.0 L340.9 154.1 L340.4 155.2 L340.0 153.3 L339.5 154.1 L339.1 152.0 L338.6 153.6 L338.2 154.4 L337.7 153.5 L337.3 155.8 L336.8 156.9 L336.4 154.6 L335.9 157.4 L335.5 154.0 L335.0 153.3 L334.6 154.6 L334.1 153.9 L333.7 152.9 L333.2 153.5 L332.8 154.0 L332.3 153.8 L331.9 155.1 L331.4 154.1 L331.0 152.6 L330.5 156.6 L330.1 155.5 L329.6 151.8 L329.2 153.9 L328.7 152.6 L328.3 150.6 L327.8 152.6 L327.4 150.0 L326.9 152.5 L326.5 151.4 L326.0 152.6 L325.6 152.7 L325.1 154.0 L324.7 152.7 L324.2 152.1 L323.8 152.4 L323.3 154.2 L322.9 153.3 L322.4 152.9 L322.0 153.6 L321.5 154.9 L321.1 153.1 L320.6 154.4 L320.2 151.9 L319.7 152.7 L319.3 152.6 L318.8 157.1 L318.4 156.4 L317.9 153.9 L317.5 153.5 L317.0 154.0 L316.6 153.9 L316.1 151.8 L315.7 151.2 L315.2 152.3 L314.8 154.6 L314.3 153.3 L313.9 153.4 L313.4 154.9 L313.0 151.6 L312.5 152.3 L312.1 155.9 L311.6 154.5 L311.2 154.6 L310.7 152.8 L310.3 151.4 L309.8 152.0 L309.4 153.0 L308.9 154.8 L308.5 155.7 L308.0 154.8 L307.6 152.6 L307.1 153.5 L306.7 152.9 L306.2 153.4 L305.8 152.7 L305.3 151.1 L304.9 150.8 L304.4 155.0 L304.0 155.5 L303.5 152.4 L303.1 152.9 L302.6 155.7 L302.2 154.5 L301.7 153.0 L301.3 152.8 L300.8 152.3 L300.4 152.6 L299.9 153.3 L299.5 156.3 L299.0 154.8 L298.6 152.2 L298.1 152.7 L297.7 153.5 L297.2 153.0 L296.8 155.5 L296.3 152.4 L295.9 152.0 L295.4 152.8 L295.0 156.3 L294.5 153.6 L294.1 155.1 L293.6 151.7 L293.2 154.3 L292.7 151.3 L292.3 153.1 L291.8 153.2 L291.4 154.4 L290.9 156.8 L290.5 153.2 L290.0 153.3 L289.6 153.2 L289.1 153.3 L288.7 154.4 L288.2 152.4 L287.8 152.3 L287.3 152.5 L286.9 152.6 L286.4 154.2 L286.0 156.0 L285.5 155.0 L285.1 155.0 L284.6 152.1 L284.2 151.5 L283.7 151.6 L283.3 153.9 L282.8 153.3 L282.4 153.6 L281.9 153.5 L281.5 154.3 L281.0 152.7 L280.6 151.0 L280.1 152.2 L279.7 152.5 L279.2 152.3 L278.8 152.6 L278.3 152.0 L277.9 151.5 L277.4 152.8 L277.0 153.4 L276.5 151.5 L276.1 151.5 L275.6 152.0 L275.2 150.8 L274.7 151.7 L274.3 152.2 L273.8 151.7 L273.4 151.5 L272.9 150.6 L272.5 149.6 L272.0 149.9 L271.6 151.1 L271.1 149.7 L270.7 149.7 L270.2 148.4 L269.8 148.0 L269.3 147.2 L268.9 147.6 L268.4 146.6 L268.0 147.0 L267.5 146.8 L267.1 146.3 L266.6 146.1 L266.2 146.4 L265.7 145.5 L265.3 145.2 L264.8 146.1 L264.4 148.0 L263.9 145.0 L263.5 145.3 L263.0 144.9 L262.6 144.6 L262.1 144.4 L261.7 142.9 L261.2 141.8 L260.8 141.5 L260.3 141.9 L259.9 140.2 L259.4 140.8 L259.0 139.2 L258.5 138.8 L258.1 138.1 L257.6 139.2 L257.2 138.5 L256.7 137.9 L256.3 137.1 L255.8 136.7 L255.4 136.2 L254.9 135.7 L254.5 137.5 L254.0 136.1 L253.6 135.5 L253.1 136.9 L252.7 137.8 L252.2 138.3 L251.8 140.8 L251.3 141.4 L250.9 143.4 L250.4 144.2 L250.0 147.9 L249.5 148.7 L249.1 151.1 L248.6 154.3 L248.2 158.4 L247.7 162.2 L247.3 165.2 L246.8 169.2 L246.4 173.8 L245.9 178.5 L245.5 182.0 L245.0 184.6 L244.6 184.6 L244.1 183.8 L243.7 180.1 L243.2 176.7 L242.8 171.4 L242.3 168.0 L241.9 162.4 L241.4 159.2 L241.0 157.2 L240.5 155.7 L240.1 153.8 L239.6 153.5 L239.2 153.3 L238.7 153.9 L238.3 153.3 L237.8 154.3 L237.4 154.0 L236.9 153.6 L236.5 155.2 L236.0 154.4 L235.6 155.4 L235.1 155.6 L234.7 154.7 L234.2 154.5 L233.8 153.1 L233.3 154.2 L232.9 153.0 L232.4 153.6 L232.0 153.7 L231.5 153.3 L231.1 152.8 L230.6 152.9 L230.2 152.7 L229.7 152.9 L229.3 152.0 L228.8 153.0 L228.4 153.3 L227.9 153.9 L227.5 154.0 L227.0 153.9 L226.6 154.6 L226.1 153.6 L225.7 154.6 L225.2 154.1 L224.8 154.1 L224.3 154.1 L223.9 154.7 L223.4 154.4 L223.0 154.8 L222.5 154.8 L222.1 154.7 L221.6 154.1 L221.2 154.8 L220.7 155.6 L220.3 153.6 L219.8 153.3 L219.4 151.4 L218.9 150.6 L218.5 151.5 L218.0 152.4 L217.6 151.2 L217.1 152.7 L216.7 154.2 L216.2 153.0 L215.8 151.8 L215.3 153.6 L214.9 153.3 L214.4 153.9 L214.0 153.1 L213.5 154.1 L213.1 152.3 L212.6 153.5 L212.2 153.2 L211.7 152.7 L211.3 154.7 L210.8 155.3 L210.4 155.3 L209.9 155.6 L209.5 154.6 L209.0 155.0 L208.6 153.8 L208.1 154.2 L207.7 152.9 L207.2 153.4 L206.8 153.1 L206.3 152.9 L205.9 156.2 L205.4 153.7 L205.0 153.3 L204.5 153.0 L204.1 153.0 L203.6 152.7 L203.2 153.9 L202.7 152.5 L202.3 152.0 L201.8 151.9 L201.4 151.0 L200.9 153.0 L200.5 152.1 L200.0 152.9 L199.6 154.3 L199.1 152.5 L198.7 153.5 L198.2 152.8 L197.8 154.1 L197.3 152.2 L196.9 153.1 L196.4 153.1 L196.0 153.2 L195.5 152.5 L195.1 152.6 L194.6 153.7 L194.2 153.5 L193.7 150.9 L193.3 151.2 L192.8 151.5 L192.4 152.1 L191.9 153.0 L191.5 153.7 L191.0 153.2 L190.6 152.9 L190.1 153.0 L189.7 154.5 L189.2 154.2 L188.8 154.4 L188.3 154.0 L187.9 155.0 L187.4 151.9 L187.0 154.3 L186.5 153.6 L186.1 153.6 L185.6 153.0 L185.2 153.4 L184.7 153.2 L184.3 153.6 L183.8 155.1 L183.4 155.4 L182.9 153.7 L182.5 154.6 L182.0 154.9 L181.6 155.3 L181.1 154.5 L180.7 154.7 L180.2 153.2 L179.8 152.2 L179.3 151.9 L178.9 152.7 L178.4 153.8 L178.0 152.6 L177.5 151.8 L177.1 151.6 L176.6 151.4 L176.2 151.7 L175.7 152.4 L175.3 152.1 L174.8 151.3 L174.4 152.2 L173.9 152.3 L173.5 152.7 L173.0 153.7 L172.6 153.6 L172.1 153.5 L171.7 153.8 L171.2 153.9 L170.8 153.5 L170.3 153.3 L169.9 153.7 L169.4 154.1 L169.0 154.7 L168.5 154.4 L168.1 152.8 L167.6 152.2 L167.2 152.2 L166.7 154.4 L166.3 153.6 L165.8 153.6 L165.4 153.0 L164.9 154.7 L164.5 153.3 L164.0 152.6 L163.6 152.5 L163.1 152.6 L162.7 153.3 L162.2 152.8 L161.8 153.0 L161.3 153.8 L160.9 152.8 L160.4 153.5 L160.0 153.9 L159.5 154.4 L159.1 153.3 L158.6 153.4 L158.2 154.5 L157.7 153.4 L157.3 155.1 L156.8 153.1 L156.4 153.2 L155.9 152.5 L155.5 153.1 L155.0 153.2 L154.6 153.8 L154.1 153.2 L153.7 151.9 L153.2 151.9 L152.8 151.3 L152.3 150.8 L151.9 150.3 L151.4 150.8 L151.0 149.2 L150.5 149.2 L150.1 150.6 L149.6 149.9 L149.2 150.0 L148.7 150.0 L148.3 149.5 L147.8 149.2 L147.4 152.1 L146.9 152.5 L146.5 152.6 L146.0 155.1 L145.6 153.2 L145.1 152.6 L144.7 152.9 L144.2 156.3 L143.8 155.4 L143.3 157.5 L142.9 157.7 L142.4 158.7 L142.0 157.7 L141.5 158.3 L141.1 158.3 L140.6 158.4 L140.2 157.3 L139.7 157.2 L139.3 157.3 L138.8 157.8 L138.4 156.7 L137.9 156.2 L137.5 155.1 L137.0 154.7 L136.6 154.3 L136.1 155.3 L135.7 154.9 L135.2 153.6 L134.8 152.9 L134.3 154.4 L133.9 155.2 L133.4 154.8 L133.0 155.7 L132.5 156.4 L132.1 155.0 L131.6 154.9 L131.2 155.3 L130.7 155.9 L130.3 156.0 L129.8 155.5 L129.4 154.9 L128.9 154.2 L128.5 154.5 L128.0 154.0 L127.6 153.5 L127.1 153.6 L126.7 153.8 L126.2 153.2 L125.8 153.0 L125.3 153.9 L124.9 154.0 L124.4 153.1 L124.0 154.0 L123.5 154.3 L123.1 156.1 L122.6 155.4 L122.2 154.2 L121.7 154.9 L121.3 153.8 L120.8 154.7 L120.4 154.8 L119.9 157.4 L119.5 154.8 L119.0 154.0 L118.6 153.4 L118.1 153.7 L117.7 153.7 L117.2 154.3 L116.8 154.5 L116.3 154.0 L115.9 153.9 L115.4 154.1 L115.0 152.7 L114.5 154.3 L114.1 154.8 L113.6 154.3 L113.2 154.1 L112.7 154.3 L112.3 153.6 L111.8 153.8 L111.4 153.1 L110.9 156.5 L110.5 155.4 L110.0 155.8 L109.6 154.4 L109.1 153.3 L108.7 152.7 L108.2 154.0 L107.8 154.6 L107.3 152.9 L106.9 153.8 L106.4 155.9 L106.0 154.5 L105.5 153.9 L105.1 154.2 L104.6 153.7 L104.2 154.8 L103.7 156.4 L103.3 154.1 L102.8 153.7 L102.4 154.0 L101.9 151.5 L101.5 152.2 L101.0 152.5 L100.6 151.7 L100.1 152.5 L99.7 153.4 L99.2 153.1 L98.8 153.2 L98.3 153.8 L97.9 153.6 L97.4 153.0 L97.0 153.1 L96.5 152.8 L96.1 155.4 L95.6 153.6 L95.2 153.8 L94.7 151.7 L94.3 151.9 L93.8 151.2 L93.4 153.0 L92.9 151.6 L92.5 153.3 L92.0 152.5 L91.6 154.9 L91.1 153.8 L90.7 153.0 L90.2 151.5 L89.8 150.7 L89.3 150.9 L88.9 150.6 L88.4 150.9 L88.0 150.9 L87.5 153.8 L87.1 153.0 L86.6 152.8 L86.2 152.4 L85.7 152.1 L85.3 151.2 L84.8 151.2 L84.4 152.5 L83.9 152.7 L83.5 153.0 L83.0 152.7 L82.6 153.2 L82.1 152.5 L81.7 153.7 L81.2 153.2 L80.8 152.2 L80.3 153.3 L79.9 151.5 L79.4 152.8 L79.0 151.8 L78.5 152.5 L78.1 152.2 L77.6 153.1 L77.2 152.3 L76.7 151.7 L76.3 152.6 L75.8 153.6 L75.4 152.4 L74.9 153.3 L74.5 152.7 L74.0 150.6" fill="#42a014" stroke="#4aa51c" stroke-width="0.3" stroke-linejoin="round"/>
<rect x="74.0" y="112.0" width="352.4" height="77.4" fill="none" stroke="#4a4a4a" stroke-width="1"/>
<text x="74.0" y="205.3" font-size="11.2" text-anchor="middle" fill="#262626">0</text>
<path d="M131.7 112.0 v3.4 M131.7 189.4 v-3.4" stroke="#4a4a4a" stroke-width="1"/>
<text x="131.7" y="205.3" font-size="11.2" text-anchor="middle" fill="#262626">2</text>
<path d="M189.4 112.0 v3.4 M189.4 189.4 v-3.4" stroke="#4a4a4a" stroke-width="1"/>
<text x="189.4" y="205.3" font-size="11.2" text-anchor="middle" fill="#262626">4</text>
<path d="M247.1 112.0 v3.4 M247.1 189.4 v-3.4" stroke="#4a4a4a" stroke-width="1"/>
<text x="247.10000000000002" y="205.3" font-size="11.2" text-anchor="middle" fill="#262626">6</text>
<path d="M304.8 112.0 v3.4 M304.8 189.4 v-3.4" stroke="#4a4a4a" stroke-width="1"/>
<text x="304.8" y="205.3" font-size="11.2" text-anchor="middle" fill="#262626">8</text>
<path d="M362.5 112.0 v3.4 M362.5 189.4 v-3.4" stroke="#4a4a4a" stroke-width="1"/>
<text x="362.5" y="205.3" font-size="11.2" text-anchor="middle" fill="#262626">10</text>
<path d="M420.2 112.0 v3.4 M420.2 189.4 v-3.4" stroke="#4a4a4a" stroke-width="1"/>
<text x="420.20000000000005" y="205.3" font-size="11.2" text-anchor="middle" fill="#262626">12</text>
<text x="70.6" y="116.6" font-size="11.2" text-anchor="end" fill="#262626">0.3</text>
<text x="70.6" y="155.29999999999998" font-size="11.2" text-anchor="end" fill="#262626">0</text>
<text x="70.6" y="194.0" font-size="11.2" text-anchor="end" fill="#262626">-0.3</text>
<text x="45.6" y="156" font-size="13" text-anchor="middle" font-weight="bold" fill="#1a1a1a" transform="rotate(-90 45.6 156)">Amplitude (mV)</text>
<text x="250" y="218.6" font-size="13" text-anchor="middle" font-weight="bold" fill="#1a1a1a">Time (s)</text>
<text x="120.5" y="140.6" font-size="14.3" text-anchor="start" fill="#111">Open eyes</text>
<text x="252.8" y="130.4" font-size="14.3" text-anchor="end" fill="#111">Blink</text>
<text x="289.9" y="140.6" font-size="14.3" text-anchor="start" fill="#111">Closed eyes</text>
<text x="0.8" y="278.6" font-size="23" text-anchor="start" fill="#000">b</text>
<text x="119.7" y="244.6" font-size="15.2" text-anchor="middle" fill="#111">Phase</text>
<text x="119.7" y="263.0" font-size="15.2" text-anchor="middle" fill="#111">one</text>
<text x="255.4" y="244.6" font-size="15.2" text-anchor="middle" fill="#111">Phase</text>
<text x="255.4" y="263.0" font-size="15.2" text-anchor="middle" fill="#111">two</text>
<text x="397.3" y="244.6" font-size="15.2" text-anchor="middle" fill="#111">Phase</text>
<text x="397.3" y="263.0" font-size="15.2" text-anchor="middle" fill="#111">three</text>
<path d="M93.6 291.4 L93.7 292.6 L93.8 292.7 L93.9 293.9 L94.1 292.4 L94.2 292.6 L94.3 292.7 L94.4 292.2 L94.5 292.2 L94.6 293.0 L94.8 292.9 L94.9 292.7 L95.0 292.0 L95.1 292.1 L95.2 293.1 L95.3 293.0 L95.5 292.0 L95.6 291.5 L95.7 292.4 L95.8 292.8 L95.9 291.8 L96.0 292.6 L96.1 292.0 L96.3 291.5 L96.4 292.1 L96.5 292.4 L96.6 292.0 L96.7 292.8 L96.8 292.5 L97.0 292.7 L97.1 292.5 L97.2 292.7 L97.3 292.5 L97.4 292.6 L97.5 292.4 L97.7 292.4 L97.8 292.2 L97.9 291.6 L98.0 293.3 L98.1 291.7 L98.2 292.5 L98.3 293.1 L98.5 292.5 L98.6 292.3 L98.7 291.8 L98.8 293.0 L98.9 292.3 L99.0 292.3 L99.2 293.3 L99.3 293.1 L99.4 292.1 L99.5 292.0 L99.6 291.8 L99.7 292.1 L99.9 292.2 L100.0 292.3 L100.1 291.7 L100.2 292.9 L100.3 292.5 L100.4 292.2 L100.5 293.3 L100.7 291.7 L100.8 292.8 L100.9 292.4 L101.0 291.2 L101.1 292.9 L101.2 292.7 L101.4 291.5 L101.5 293.0 L101.6 292.6 L101.7 292.1 L101.8 292.1 L101.9 292.1 L102.1 292.2 L102.2 291.7 L102.3 291.8 L102.4 292.1 L102.5 292.8 L102.6 292.8 L102.7 293.5 L102.9 292.0 L103.0 293.4 L103.1 291.9 L103.2 291.4 L103.3 293.0 L103.4 292.8 L103.6 292.7 L103.7 291.9 L103.8 292.9 L103.9 292.5 L104.0 292.7 L104.1 292.5 L104.3 291.7 L104.4 292.9 L104.5 292.4 L104.6 292.2 L104.7 291.9 L104.8 293.1 L104.9 291.8 L105.1 292.2 L105.2 291.9 L105.3 292.4 L105.4 293.3 L105.5 292.8 L105.6 291.9 L105.8 292.4 L105.9 292.4 L106.0 291.4 L106.1 291.2 L106.2 292.4 L106.3 291.3 L106.5 293.5 L106.6 293.5 L106.7 291.9 L106.8 292.5 L106.9 292.1 L107.0 292.1 L107.1 292.4 L107.3 292.0 L107.4 292.3 L107.5 293.3 L107.6 292.3 L107.7 292.3 L107.8 291.4 L108.0 293.0 L108.1 292.4 L108.2 292.6 L108.3 292.5 L108.4 291.5 L108.5 292.2 L108.7 292.7 L108.8 292.3 L108.9 292.0 L109.0 293.0 L109.1 292.5 L109.2 291.5 L109.3 291.9 L109.5 292.4 L109.6 292.7 L109.7 292.5 L109.8 293.3 L109.9 291.9 L110.0 292.2 L110.2 292.3 L110.3 293.1 L110.4 292.8 L110.5 292.1 L110.6 292.3 L110.7 292.7 L110.9 292.1 L111.0 291.9 L111.1 292.8 L111.2 292.7 L111.3 292.9 L111.4 293.0 L111.5 292.0 L111.7 292.1 L111.8 292.2 L111.9 293.1 L112.0 293.0 L112.1 292.4 L112.2 292.6 L112.4 292.3 L112.5 292.8 L112.6 292.0 L112.7 291.4 L112.8 291.5 L112.9 291.5 L113.1 292.4 L113.2 291.9 L113.3 292.6 L113.4 291.9 L113.5 292.6 L113.6 292.7 L113.7 292.8 L113.9 292.0 L114.0 292.2 L114.1 292.3 L114.2 293.0 L114.3 292.3 L114.4 293.2 L114.6 291.6 L114.7 292.5 L114.8 292.3 L114.9 292.5 L115.0 293.3 L115.1 293.2 L115.3 292.4 L115.4 291.6 L115.5 293.0 L115.6 292.8 L115.7 292.4 L115.8 293.3 L115.9 293.3 L116.1 292.6 L116.2 292.4 L116.3 292.6 L116.4 291.5 L116.5 292.5 L116.6 292.2 L116.8 291.5 L116.9 291.5 L117.0 293.3 L117.1 292.6 L117.2 291.8 L117.3 293.2 L117.5 292.9 L117.6 293.1 L117.7 293.2 L117.8 293.0 L117.9 292.3 L118.0 291.7 L118.1 291.6 L118.3 292.4 L118.4 293.5 L118.5 292.4 L118.6 292.6 L118.7 292.2 L118.8 292.5 L119.0 293.4 L119.1 292.2 L119.2 293.5 L119.3 292.8 L119.4 292.2 L119.5 292.2 L119.7 291.5 L119.8 293.7 L119.9 292.2 L120.0 292.0 L120.1 292.6 L120.2 292.0 L120.3 293.0 L120.5 292.0 L120.6 292.1 L120.7 292.9 L120.8 292.8 L120.9 292.5 L121.0 292.8 L121.2 291.8 L121.3 292.3 L121.4 291.7 L121.5 291.7 L121.6 292.4 L121.7 292.5 L121.9 292.9 L122.0 292.8 L122.1 292.8 L122.2 292.2 L122.3 292.9 L122.4 292.4 L122.5 292.3 L122.7 292.7 L122.8 292.5 L122.9 291.6 L123.0 291.5 L123.1 292.8 L123.2 292.5 L123.4 292.6 L123.5 292.6 L123.6 291.5 L123.7 292.0 L123.8 291.7 L123.9 291.4 L124.1 292.6 L124.2 292.5 L124.3 292.4 L124.4 291.8 L124.5 292.5 L124.6 292.0 L124.8 291.8 L124.9 291.8 L125.0 292.2 L125.1 292.8 L125.2 293.3 L125.3 291.8 L125.4 292.1 L125.6 292.9 L125.7 292.7 L125.8 292.6 L125.9 293.3 L126.0 292.3 L126.1 292.8 L126.3 292.6 L126.4 292.0 L126.5 292.5 L126.6 292.1 L126.7 292.2 L126.8 292.4 L127.0 292.4 L127.1 291.4 L127.2 292.5 L127.3 291.5 L127.4 292.9 L127.5 292.0 L127.6 292.3 L127.8 292.8 L127.9 293.9 L128.0 291.5 L128.1 293.0 L128.2 292.9 L128.3 292.3 L128.5 292.4 L128.6 292.2 L128.7 292.5 L128.8 293.2 L128.9 291.9 L129.0 292.9 L129.2 292.3 L129.3 292.1 L129.4 291.7 L129.5 292.5 L129.6 292.6 L129.7 292.5 L129.8 293.4 L130.0 292.8 L130.1 293.0 L130.2 293.0 L130.3 292.3 L130.4 292.6 L130.5 291.5 L130.7 291.6 L130.8 293.4 L130.9 292.3 L131.0 293.0 L131.1 292.1 L131.2 292.3 L131.4 291.9 L131.5 292.2 L131.6 292.0 L131.7 292.6 L131.8 293.8 L131.9 293.1 L132.0 292.9 L132.2 292.7 L132.3 293.0 L132.4 291.5 L132.5 292.5 L132.6 291.7 L132.7 292.6 L132.9 291.5 L133.0 293.1 L133.1 292.1 L133.2 293.1 L133.3 292.2 L133.4 291.5 L133.6 293.3 L133.7 292.9 L133.8 292.3 L133.9 292.5 L134.0 293.2 L134.1 291.8 L134.2 292.4 L134.4 291.7 L134.5 292.2 L134.6 293.0 L134.7 292.7 L134.8 291.6 L134.9 293.2 L135.1 292.7 L135.2 292.1 L135.3 291.8 L135.4 291.9 L135.5 293.2 L135.6 291.2 L135.8 292.5 L135.9 292.4 L136.0 292.4 L136.1 292.5 L136.2 292.9 L136.3 292.6 L136.4 291.7 L136.6 293.2 L136.7 293.7 L136.8 292.1 L136.9 292.2 L137.0 292.0 L137.1 291.4 L137.3 292.8 L137.4 292.3 L137.5 292.1 L137.6 291.7 L137.7 291.8 L137.8 292.9 L138.0 293.2 L138.1 292.6 L138.2 293.3 L138.3 291.8 L138.4 292.6 L138.5 292.6 L138.6 292.9 L138.8 291.6 L138.9 292.2 L139.0 292.6 L139.1 292.1 L139.2 292.4 L139.3 292.1 L139.5 291.7 L139.6 292.5 L139.7 292.1 L139.8 292.1 L139.9 291.8 L140.0 292.1 L140.2 292.4 L140.3 292.8 L140.4 292.2 L140.5 293.0 L140.6 292.0 L140.7 292.4 L140.8 292.1 L141.0 292.7 L141.1 292.8 L141.2 292.9 L141.3 291.8 L141.4 292.5 L141.5 292.5 L141.7 293.4 L141.8 292.4 L141.9 294.3 L142.0 291.6 L142.1 292.5 L142.2 292.4 L142.4 293.2 L142.5 293.0 L142.6 292.1 L142.7 292.5 L142.8 292.2 L142.9 291.7 L143.0 292.0 L143.2 293.5 L143.3 292.9 L143.4 293.0 L143.5 292.9 L143.6 293.6 L143.7 293.5 L143.9 292.8 L144.0 292.7 L144.1 292.1 L144.2 292.6 L144.3 291.6 L144.4 293.4 L144.6 293.2 L144.7 292.3 L144.8 292.6 L144.9 292.9 L145.0 292.0 L145.1 291.8 L145.2 291.7 L145.4 292.6 L145.5 292.4 L145.6 292.3 L145.7 292.4 L145.8 291.8 L145.9 292.7 L146.1 292.2 L146.2 293.6 L146.3 292.0 L146.4 291.5 L146.5 292.4 L146.6 291.8 L146.8 293.3 L146.9 292.6 L147.0 293.3 L147.1 292.2 L147.2 292.1 L147.3 293.2 L147.4 292.9 L147.6 292.7 L147.7 291.1 L147.8 292.4 L147.9 292.3 L148.0 292.2 L148.1 292.2 L148.3 292.5 L148.4 293.1 L148.5 292.8 L148.6 291.5 L148.7 292.3 L148.8 292.6 L149.0 293.2 L149.1 292.4 L149.2 292.4 L149.3 292.8 L149.4 291.9 L149.5 292.7 L149.6 292.5 L149.8 291.9 L149.9 292.3 L150.0 291.8 L150.1 292.5 L150.2 292.6 L150.3 292.1 L150.5 292.3 L150.6 291.7 L150.7 292.2 L150.8 292.4 L150.9 292.2 L151.0 292.0 L151.2 293.0 L151.3 292.5 L151.4 292.6 L151.5 291.7 L151.6 292.7 L151.7 291.8 L151.8 293.1 L152.0 292.4 L152.1 291.8 L152.2 292.5 L152.3 291.8 L152.4 293.5 L152.5 292.4 L152.7 292.3 L152.8 292.5 L152.9 293.2 L153.0 292.0 L153.1 293.7 L153.2 291.9 L153.4 292.2 L153.5 291.9 L153.6 292.5 L153.7 293.0 L153.8 292.7 L153.9 292.7 L154.0 292.1 L154.2 292.6 L154.3 292.2 L154.4 292.1 L154.5 291.6 L154.6 293.5 L154.7 292.6 L154.9 292.0 L155.0 292.0 L155.1 292.7 L155.2 292.5 L155.3 292.4 L155.4 292.3 L155.6 292.7 L155.7 292.7 L155.8 293.0 L155.9 292.6 L156.0 291.6 L156.1 292.9 L156.2 291.9 L156.4 291.3 L156.5 292.3 L156.6 291.1 L156.7 292.5 L156.8 291.5 L156.9 292.4 L157.1 293.1 L157.2 292.2 L157.3 291.3 L157.4 292.7 L157.5 292.1 L157.6 292.9 L157.8 292.9 L157.9 292.1 L158.0 292.5 L158.1 292.1 L158.2 291.7 L158.3 293.0 L158.4 292.8 L158.6 292.4 L158.7 291.1 L158.8 292.6 L158.9 292.6 L159.0 292.1 L159.1 291.2 L159.3 292.7 L159.4 292.5 L159.5 292.3 L159.6 291.9 L159.7 291.2 L159.8 293.1 L160.0 293.3 L160.1 292.3 L160.2 292.1 L160.3 293.6 L160.4 292.7 L160.5 291.8 L160.6 292.6 L160.8 292.1 L160.9 292.3 L161.0 292.0 L161.1 292.1 L161.2 292.2 L161.3 291.7 L161.5 292.7 L161.6 292.3 L161.7 291.7 L161.8 292.7 L161.9 292.6 L162.0 292.8 L162.2 292.9 L162.3 291.2 L162.4 292.1 L162.5 291.3 L162.6 291.9 L162.7 292.3 L162.8 292.5 L163.0 292.2 L163.1 292.4 L163.2 291.8 L163.3 292.8 L163.4 292.2 L163.5 292.1 L163.7 292.5 L163.8 292.5 L163.9 292.0 L164.0 292.0 L164.1 292.4 L164.2 292.3 L164.4 292.7 L164.5 292.0 L164.6 292.4 L164.7 293.2 L164.8 292.5 L164.9 292.0 L165.0 292.2 L165.2 292.8 L165.3 291.9 L165.4 292.0 L165.5 292.0 L165.6 291.5 L165.7 292.5 L165.9 292.0 L166.0 292.5 L166.1 291.8 L166.2 291.7 L166.3 292.1 L166.4 291.9 L166.6 292.8 L166.7 292.0 L166.8 293.0 L166.9 291.2 L167.0 291.7 L167.1 293.2 L167.2 293.8 L167.4 291.7 L167.5 292.9 L167.6 292.1 L167.7 293.1 L167.8 292.3 L167.9 292.7 L168.1 292.1 L168.2 292.6 L168.3 291.6 L168.4 292.8 L168.5 291.7 L168.6 292.4 L168.8 292.1 L168.9 293.3 L169.0 293.4 L169.1 291.8 L169.2 293.1 L169.3 292.6 L169.4 292.6 L169.6 292.9 L169.7 292.3 L169.8 293.2 L169.9 293.1 L170.0 291.9 L170.1 292.8 L170.3 292.0 L170.4 292.0 L170.5 291.6 L170.6 292.1 L170.7 293.4 L170.8 292.8 L171.0 292.6 L171.1 291.7 L171.2 292.2 L171.3 292.7 L171.4 292.2 L171.5 292.6 L171.6 292.1 L171.8 292.3 L171.9 291.8 L172.0 292.2 L172.1 291.8 L172.2 292.4 L172.3 292.0 L172.5 292.5 L172.6 292.0 L172.7 292.3 L172.8 292.5 L172.9 292.6 L173.0 292.6 L173.2 292.1 L173.3 293.7 L173.4 291.7 L173.5 293.7 L173.6 292.5 L173.7 292.6 L173.8 292.0 L174.0 292.3 L174.1 292.4 L174.2 292.4 L174.3 291.9 L174.4 291.1 L174.5 292.2 L174.7 293.5 L174.8 292.6 L174.9 292.2 L175.0 290.6 L175.1 292.8 L175.2 292.6 L175.4 292.1 L175.5 292.2 L175.6 293.1 L175.7 291.9 L175.8 293.1 L175.9 292.5 L176.0 291.7 L176.2 293.1 L176.3 292.6 L176.4 291.5 L176.5 292.5 L176.6 293.0 L176.7 292.7 L176.9 291.9 L177.0 293.3 L177.1 292.8 L177.2 293.2 L177.3 293.0 L177.4 291.7 L177.6 292.4 L177.7 292.6 L177.8 292.2 L177.9 292.8 L178.0 293.1 L178.1 291.8 L178.2 291.9 L178.4 292.9 L178.5 292.0 L178.6 291.6 L178.7 292.1 L178.8 292.1 L178.9 293.1 L179.1 292.5 L179.2 293.4 L179.3 291.8 L179.4 292.5 L179.5 291.7 L179.6 292.8 L179.8 291.9 L179.9 293.3 L180.0 292.6 L180.1 292.1 L180.2 292.2 L180.3 292.4 L180.4 293.3 L180.6 291.7 L180.7 292.0 L180.8 291.8 L180.9 291.8 L181.0 292.6 L181.1 292.2 L181.3 290.9 L181.4 292.9 L181.5 292.2 L181.6 292.7 L181.7 291.4 L181.8 292.3 L182.0 293.0 L182.1 292.7 L182.2 293.2 L182.3 293.7 L182.4 293.9 L182.5 292.8 L182.7 293.0 L182.8 292.3 L182.9 292.9 L183.0 292.3 L183.1 291.4 L183.2 293.1 L183.3 293.1 L183.5 291.8 L183.6 291.1 L183.7 292.9 L183.8 293.4 L183.9 292.6 L184.0 292.6 L184.2 292.0 L184.3 293.0 L184.4 292.6 L184.5 292.6 L184.6 293.3 L184.7 293.3 L184.9 292.2 L185.0 292.1 L185.1 292.9 L185.2 291.5 L185.3 291.9 L185.4 292.1 L185.5 292.1 L185.7 292.2 L185.8 292.0 L185.9 291.9 L186.0 292.4 L186.1 293.6 L186.2 292.5 L186.4 292.9 L186.5 293.1 L186.6 292.1 L186.7 293.4 L186.8 291.9 L186.9 292.8 L187.1 293.1 L187.2 292.9 L187.3 291.1 L187.4 291.6 L187.5 292.6 L187.6 291.8 L187.7 291.4 L187.9 292.9 L188.0 292.6 L188.1 291.9 L188.2 292.2 L188.3 292.6 L188.4 291.5 L188.6 292.1 L188.7 292.0 L188.8 291.1 L188.9 292.1 L189.0 290.9 L189.1 292.2 L189.3 292.5 L189.4 292.3 L189.5 291.9 L189.6 292.0 L189.7 292.2 L189.8 293.2 L189.9 293.0 L190.1 292.6 L190.2 292.0 L190.3 291.6 L190.4 293.8 L190.5 292.5 L190.6 292.7 L190.8 292.5 L190.9 292.3 L191.0 292.9 L191.1 293.2 L191.2 291.8 L191.3 292.0 L191.5 292.6 L191.6 292.5 L191.7 292.8 L191.8 293.2 L191.9 292.0 L192.0 292.8 L192.1 293.0 L192.3 292.8 L192.4 291.5 L192.5 292.2 L192.6 292.3 L192.7 292.4 L192.8 291.9 L193.0 292.0 L193.1 293.2 L193.2 292.5 L193.3 292.8 L193.4 292.3 L193.5 292.4 L193.7 293.5 L193.8 291.8 L193.9 292.3 L194.0 293.4 L194.1 291.8 L194.2 292.3 L194.3 292.1 L194.5 292.4 L194.6 292.3 L194.7 292.7 L194.8 293.4 L194.9 292.8 L195.0 292.3 L195.2 292.4 L195.3 292.1 L195.4 292.5 L195.5 293.7 L195.6 292.0 L195.7 292.9 L195.9 293.2 L196.0 292.6 L196.1 293.2 L196.2 292.2 L196.3 293.0 L196.4 291.3 L196.5 292.6 L196.7 292.8 L196.8 292.8 L196.9 293.7 L197.0 292.9 L197.1 292.9 L197.2 292.6 L197.4 293.7 L197.5 292.4 L197.6 291.7 L197.7 292.7 L197.8 292.5 L197.9 292.2 L198.1 292.9 L198.2 292.7 L198.3 291.9 L198.4 292.3 L198.5 293.1 L198.6 293.4 L198.7 291.1 L198.9 292.2 L199.0 293.3 L199.1 292.3 L199.2 292.0 L199.3 292.4 L199.4 293.5 L199.6 291.4 L199.7 292.1 L199.8 292.5 L199.9 292.0 L200.0 292.5 L200.1 292.6 L200.3 291.9 L200.4 293.5 L200.5 291.8 L200.6 292.2 L200.7 292.0 L200.8 291.9 L200.9 291.5 L201.1 291.6 L201.2 291.9 L201.3 292.6 L201.4 292.0 L201.5 292.7 L201.6 292.9 L201.8 292.1 L201.9 292.2 L202.0 291.7 L202.1 293.6 L202.2 292.1 L202.3 292.0 L202.5 292.3 L202.6 291.5 L202.7 292.9 L202.8 292.2 L202.9 292.6 L203.0 292.4 L203.1 292.9 L203.3 292.5 L203.4 292.0 L203.5 292.3 L203.6 292.2 L203.7 292.8 L203.8 291.5 L204.0 292.8 L204.1 292.4 L204.2 292.0 L204.3 292.5 L204.4 292.0 L204.5 292.3 L204.7 291.4 L204.8 292.1 L204.9 292.2 L205.0 292.8 L205.1 292.1 L205.2 291.8 L205.3 292.1 L205.5 292.9 L205.6 292.7 L205.7 292.5 L205.8 292.4 L205.9 293.2 L206.0 291.3 L206.2 292.4 L206.3 292.3 L206.4 292.6 L206.5 292.4 L206.6 291.3 L206.7 292.9 L206.9 292.7 L207.0 293.0 L207.1 292.7 L207.2 291.5 L207.3 292.7 L207.4 292.6 L207.5 293.4 L207.7 292.6 L207.8 292.3 L207.9 292.7 L208.0 292.6 L208.1 291.9 L208.2 292.1 L208.4 292.4 L208.5 292.8 L208.6 293.2 L208.7 291.4 L208.8 293.3 L208.9 292.0 L209.1 292.5 L209.2 292.8 L209.3 291.9 L209.4 292.8 L209.5 291.7 L209.6 293.0 L209.7 292.1 L209.9 291.7 L210.0 292.9 L210.1 291.2 L210.2 291.9 L210.3 293.6 L210.4 291.6 L210.6 291.3 L210.7 292.5 L210.8 292.5 L210.9 292.2 L211.0 293.4 L211.1 292.3 L211.3 291.9 L211.4 292.7 L211.5 291.8 L211.6 291.2 L211.7 293.5 L211.8 293.4 L211.9 292.8 L212.1 292.0 L212.2 292.2 L212.3 292.9 L212.4 293.0 L212.5 292.8 L212.6 291.4 L212.8 292.9 L212.9 292.7 L213.0 291.9 L213.1 292.5 L213.2 292.9 L213.3 291.6 L213.5 292.2 L213.6 292.8 L213.7 292.6 L213.8 291.9 L213.9 292.6 L214.0 292.2 L214.1 291.9 L214.3 291.8 L214.4 293.4 L214.5 292.7 L214.6 292.6 L214.7 292.3 L214.8 291.9 L215.0 291.7 L215.1 292.6 L215.2 293.0 L215.3 292.3 L215.4 292.7 L215.5 291.4 L215.7 292.2 L215.8 292.3 L215.9 291.8 L216.0 292.7 L216.1 292.6 L216.2 292.5 L216.3 292.0 L216.5 291.6 L216.6 291.9 L216.7 291.9 L216.8 292.5 L216.9 292.2 L217.0 292.5 L217.2 291.7 L217.3 292.7 L217.4 292.4 L217.5 292.2 L217.6 291.9 L217.7 292.8 L217.9 292.5 L218.0 292.8 L218.1 293.1 L218.2 291.8 L218.3 292.1 L218.4 293.2 L218.5 292.9 L218.7 292.1 L218.8 292.7 L218.9 293.0 L219.0 291.7 L219.1 292.6 L219.2 292.6 L219.4 292.1 L219.5 292.8 L219.6 292.4 L219.7 292.3 L219.8 292.0 L219.9 292.8 L220.1 291.8 L220.2 292.2 L220.3 291.4 L220.4 292.3 L220.5 292.7 L220.6 292.7 L220.7 293.0 L220.9 292.4 L221.0 292.4 L221.1 291.9 L221.2 292.3 L221.3 292.9 L221.4 291.8 L221.6 292.6 L221.7 292.2 L221.8 291.6 L221.9 291.7 L222.0 292.8 L222.1 292.5 L222.3 291.6 L222.4 291.8 L222.5 292.1 L222.6 291.9 L222.7 293.6 L222.8 292.6 L222.9 293.2 L223.1 292.8 L223.2 292.6 L223.3 292.1 L223.4 291.7 L223.5 292.0 L223.6 292.3 L223.8 292.6 L223.9 291.7 L224.0 292.3 L224.1 293.4 L224.2 292.5 L224.3 292.1 L224.5 293.0 L224.6 292.3 L224.7 291.6 L224.8 292.6 L224.9 292.5 L225.0 292.5 L225.1 293.0 L225.3 292.7 L225.4 293.0 L225.5 292.6 L225.6 292.9 L225.7 291.9 L225.8 292.5 L226.0 292.0 L226.1 293.1 L226.2 292.5 L226.3 292.1 L226.4 292.1 L226.5 292.8 L226.7 292.5 L226.8 292.4 L226.9 292.6 L227.0 292.7 L227.1 292.1 L227.2 293.1 L227.3 293.5 L227.5 292.7 L227.6 292.3 L227.7 293.7 L227.8 291.7 L227.9 292.4 L228.0 292.1 L228.2 292.9 L228.3 292.5 L228.4 291.4 L228.5 291.4 L228.6 292.1 L228.7 292.6 L228.9 292.5 L229.0 291.7 L229.1 292.8 L229.2 293.0 L229.3 292.5 L229.4 291.9 L229.5 293.0 L229.7 292.2 L229.8 292.2 L229.9 292.4 L230.0 292.5 L230.1 291.9 L230.2 292.1 L230.4 293.3 L230.5 291.5 L230.6 292.2 L230.7 292.3 L230.8 292.7 L230.9 292.6 L231.1 293.9 L231.2 292.6 L231.3 292.1 L231.4 292.1 L231.5 292.8 L231.6 293.8 L231.7 293.1 L231.9 292.6 L232.0 291.7 L232.1 293.4 L232.2 292.5 L232.3 292.1 L232.4 292.1 L232.6 292.5 L232.7 294.0 L232.8 292.1 L232.9 292.4 L233.0 292.2 L233.1 293.0 L233.3 292.7 L233.4 291.6 L233.5 292.5 L233.6 292.5 L233.7 292.9 L233.8 291.7 L233.9 293.4 L234.1 292.7 L234.2 292.2 L234.3 292.5 L234.4 292.0 L234.5 292.2 L234.6 291.6 L234.8 292.6 L234.9 292.5 L235.0 292.3 L235.1 293.4 L235.2 291.6 L235.3 292.9 L235.5 291.8 L235.6 291.6 L235.7 291.9 L235.8 292.3 L235.9 292.8 L236.0 293.6 L236.1 292.1 L236.3 292.6 L236.4 291.5 L236.5 292.6 L236.6 292.1 L236.7 292.6 L236.8 292.2 L237.0 292.6 L237.1 292.5 L237.2 293.5 L237.3 292.8 L237.4 292.5 L237.5 291.7 L237.7 292.3 L237.8 293.1 L237.9 291.5 L238.0 292.2 L238.1 291.8 L238.2 292.9 L238.3 294.3 L238.5 292.8 L238.6 293.0 L238.7 292.3 L238.8 293.3 L238.9 292.9 L239.0 293.2 L239.2 292.3 L239.3 292.9 L239.4 291.6 L239.5 292.0 L239.6 291.9 L239.7 292.5 L239.9 292.3 L240.0 291.9 L240.1 292.9 L240.2 291.7 L240.3 292.4 L240.4 291.7 L240.6 291.1 L240.7 291.5 L240.8 293.0 L240.9 291.7 L241.0 292.6 L241.1 292.6 L241.2 292.5 L241.4 293.1 L241.5 292.3 L241.6 292.8 L241.7 291.8 L241.8 292.2 L241.9 293.9 L242.1 292.9 L242.2 293.0 L242.3 292.8 L242.4 292.8 L242.5 292.3 L242.6 292.5 L242.8 293.0 L242.9 292.2 L243.0 291.9 L243.1 292.4 L243.2 291.7 L243.3 292.2 L243.4 292.7 L243.6 292.6 L243.7 292.4 L243.8 292.1 L243.9 292.3 L244.0 291.9 L244.1 291.8 L244.3 293.0 L244.4 293.1 L244.5 292.5 L244.6 292.2 L244.7 291.9 L244.8 292.0 L245.0 292.1 L245.1 292.9 L245.2 292.2 L245.3 292.8 L245.4 292.2 L245.5 291.9 L245.6 292.8 L245.8 292.5 L245.9 291.0 L246.0 292.8 L246.1 292.7 L246.2 293.0 L246.3 293.2 L246.5 291.8 L246.6 292.8 L246.7 292.8 L246.8 292.9 L246.9 294.0 L247.0 292.0 L247.2 292.7 L247.3 292.4 L247.4 291.6 L247.5 292.5 L247.6 292.3 L247.7 292.3 L247.8 291.7 L248.0 293.2 L248.1 292.7 L248.2 293.6 L248.3 292.4 L248.4 292.0 L248.5 292.6 L248.7 291.3 L248.8 291.8 L248.9 291.3 L249.0 292.3 L249.1 291.4 L249.2 292.7 L249.4 292.2 L249.5 292.3 L249.6 292.6 L249.7 291.5 L249.8 291.6 L249.9 292.8 L250.0 292.0 L250.2 292.3 L250.3 292.3 L250.4 292.0 L250.5 292.6 L250.6 292.3 L250.7 292.2 L250.9 292.7 L251.0 292.6 L251.1 291.9 L251.2 292.3 L251.3 291.0 L251.4 291.2 L251.6 292.8 L251.7 292.2 L251.8 293.5 L251.9 292.7 L252.0 292.9 L252.1 292.8 L252.2 293.6 L252.4 292.2 L252.5 292.3 L252.6 292.9 L252.7 292.4 L252.8 291.9 L252.9 291.5 L253.1 293.1 L253.2 291.5 L253.3 293.4 L253.4 292.9 L253.5 292.6 L253.6 291.5 L253.8 292.1 L253.9 292.1 L254.0 291.5 L254.1 292.3 L254.2 292.7 L254.3 291.6 L254.4 292.5 L254.6 293.1 L254.7 293.4 L254.8 292.3 L254.9 291.4 L255.0 292.0 L255.1 292.4 L255.3 291.7 L255.4 293.2 L255.5 292.2 L255.6 292.7 L255.7 291.6 L255.8 292.9 L256.0 292.0 L256.1 292.3 L256.2 292.4 L256.3 292.0 L256.4 292.5 L256.5 291.6 L256.6 292.5 L256.8 293.6 L256.9 291.6 L257.0 291.7 L257.1 292.1 L257.2 291.6 L257.3 292.0 L257.5 292.9 L257.6 293.6 L257.7 293.0 L257.8 292.6 L257.9 292.1 L258.0 293.2 L258.2 292.9 L258.3 291.6 L258.4 292.8 L258.5 292.8 L258.6 292.9 L258.7 291.5 L258.8 292.0 L259.0 291.9 L259.1 291.5 L259.2 291.9 L259.3 291.7 L259.4 292.2 L259.5 291.9 L259.7 292.1 L259.8 292.0 L259.9 293.1 L260.0 292.5 L260.1 292.6 L260.2 292.8 L260.4 292.4 L260.5 291.4 L260.6 291.9 L260.7 292.4 L260.8 292.2 L260.9 291.6 L261.0 293.1 L261.2 292.2 L261.3 291.5 L261.4 291.4 L261.5 291.9 L261.6 292.1 L261.7 293.4 L261.9 292.8 L262.0 292.4 L262.1 292.2 L262.2 292.2 L262.3 293.7 L262.4 292.7 L262.6 292.3 L262.7 292.8 L262.8 292.5 L262.9 292.1 L263.0 292.2 L263.1 292.3 L263.2 292.0 L263.4 291.8 L263.5 292.6 L263.6 293.0 L263.7 292.8 L263.8 292.7 L263.9 292.4 L264.1 293.3 L264.2 292.8 L264.3 292.6 L264.4 291.7 L264.5 292.1 L264.6 292.5 L264.8 291.9 L264.9 292.3 L265.0 292.3 L265.1 291.8 L265.2 292.2 L265.3 292.3 L265.4 292.0 L265.6 292.7 L265.7 292.4 L265.8 293.6 L265.9 292.6 L266.0 291.5 L266.1 292.6 L266.3 292.4 L266.4 292.6 L266.5 293.0 L266.6 292.1 L266.7 292.4 L266.8 291.8 L267.0 292.9 L267.1 292.4 L267.2 292.6 L267.3 292.7 L267.4 291.8 L267.5 292.8 L267.6 292.8 L267.8 291.0 L267.9 292.4 L268.0 292.5 L268.1 292.1 L268.2 293.0 L268.3 292.2 L268.5 293.1 L268.6 292.7 L268.7 292.7 L268.8 291.6 L268.9 292.0 L269.0 291.4 L269.2 291.5 L269.3 292.8 L269.4 292.1 L269.5 292.6 L269.6 292.7 L269.7 291.7 L269.8 291.6 L270.0 292.3 L270.1 292.2 L270.2 292.2 L270.3 292.2 L270.4 292.2 L270.5 293.0 L270.7 292.1 L270.8 292.8 L270.9 293.1 L271.0 292.5 L271.1 292.2 L271.2 291.9 L271.4 292.2 L271.5 292.2 L271.6 292.8 L271.7 292.2 L271.8 292.3 L271.9 292.2 L272.0 292.8 L272.2 291.5 L272.3 292.0 L272.4 292.0 L272.5 292.3 L272.6 292.6 L272.7 291.9 L272.9 293.1 L273.0 292.7 L273.1 292.6 L273.2 292.1 L273.3 292.6 L273.4 291.6 L273.6 293.4 L273.7 291.5 L273.8 292.2 L273.9 291.9 L274.0 292.7 L274.1 291.8 L274.2 292.6 L274.4 292.3 L274.5 293.2 L274.6 292.1 L274.7 292.3 L274.8 293.5 L274.9 292.5 L275.1 292.6 L275.2 291.9 L275.3 292.8 L275.4 292.3 L275.5 291.7 L275.6 292.9 L275.8 291.4 L275.9 292.3 L276.0 292.5 L276.1 293.2 L276.2 293.4 L276.3 291.9 L276.4 292.7 L276.6 292.8 L276.7 291.8 L276.8 292.0 L276.9 292.3 L277.0 293.2 L277.1 293.5 L277.3 291.9 L277.4 292.4 L277.5 292.6 L277.6 291.3 L277.7 292.6 L277.8 292.2 L278.0 291.2 L278.1 292.1 L278.2 292.7 L278.3 292.9 L278.4 291.7 L278.5 293.1 L278.6 291.9 L278.8 291.5 L278.9 292.5 L279.0 291.9 L279.1 292.4 L279.2 291.6 L279.3 292.2 L279.5 292.8 L279.6 292.2 L279.7 292.3 L279.8 292.7 L279.9 292.5 L280.0 293.1 L280.2 292.9 L280.3 292.0 L280.4 293.4 L280.5 292.2 L280.6 292.4 L280.7 292.7 L280.8 291.6 L281.0 292.0 L281.1 292.7 L281.2 292.3 L281.3 291.9 L281.4 293.3 L281.5 292.3 L281.7 292.5 L281.8 292.2 L281.9 291.2 L282.0 292.8 L282.1 292.6 L282.2 293.1 L282.4 292.3 L282.5 292.0 L282.6 293.8 L282.7 291.6 L282.8 291.5 L282.9 293.9 L283.0 293.2 L283.2 292.1 L283.3 292.3 L283.4 291.7 L283.5 292.5 L283.6 291.7 L283.7 293.2 L283.9 292.2 L284.0 292.6 L284.1 292.6 L284.2 293.4 L284.3 292.6 L284.4 291.6 L284.6 292.7 L284.7 292.5 L284.8 292.3 L284.9 292.9 L285.0 292.2 L285.1 292.1 L285.2 292.5 L285.4 293.4 L285.5 291.5 L285.6 292.3 L285.7 292.4 L285.8 292.5 L285.9 292.7 L286.1 293.3 L286.2 292.4 L286.3 292.3 L286.4 291.8 L286.5 291.5 L286.6 292.8 L286.8 291.5 L286.9 292.3 L287.0 292.0 L287.1 292.9 L287.2 292.2 L287.3 292.9 L287.4 292.0 L287.6 293.1 L287.7 292.3 L287.8 292.6 L287.9 292.2 L288.0 292.2 L288.1 292.3 L288.3 292.6 L288.4 291.9 L288.5 292.0 L288.6 292.8 L288.7 291.9 L288.8 292.7 L289.0 292.3 L289.1 292.4 L289.2 292.4 L289.3 291.9 L289.4 293.4 L289.5 291.6 L289.6 293.3 L289.8 291.7 L289.9 292.0 L290.0 293.2 L290.1 292.2 L290.2 292.5 L290.3 293.0 L290.5 291.7 L290.6 291.7 L290.7 292.1 L290.8 291.4 L290.9 292.3 L291.0 292.5 L291.2 291.6 L291.3 292.8 L291.4 291.9 L291.5 291.7 L291.6 292.2 L291.7 292.3 L291.8 292.1 L292.0 292.2 L292.1 292.7 L292.2 294.3 L292.3 292.6 L292.4 293.2 L292.5 291.8 L292.7 292.6 L292.8 292.2 L292.9 291.9 L293.0 291.8 L293.1 292.8 L293.2 291.1 L293.4 291.8 L293.5 292.0 L293.6 292.8 L293.7 291.2 L293.8 292.0 L293.9 291.7 L294.0 292.5 L294.2 291.3 L294.3 291.5 L294.4 292.4 L294.5 291.2 L294.6 292.9 L294.7 291.8 L294.9 292.0 L295.0 291.9 L295.1 292.7 L295.2 292.5 L295.3 291.8 L295.4 291.7 L295.6 292.4 L295.7 292.5 L295.8 292.6 L295.9 291.6 L296.0 292.4 L296.1 292.7 L296.2 293.4 L296.4 293.4 L296.5 293.0 L296.6 293.5 L296.7 292.6 L296.8 292.6 L296.9 293.0 L297.1 292.6 L297.2 292.4 L297.3 293.4 L297.4 292.0 L297.5 294.0 L297.6 291.3 L297.8 293.2 L297.9 292.4 L298.0 292.6 L298.1 292.2 L298.2 292.8 L298.3 292.1 L298.5 293.3 L298.6 292.0 L298.7 292.6 L298.8 292.2 L298.9 291.8 L299.0 293.1 L299.1 292.7 L299.3 292.8 L299.4 292.5 L299.5 292.3 L299.6 292.0 L299.7 292.3 L299.8 292.5 L300.0 292.1 L300.1 291.8 L300.2 291.9 L300.3 291.2 L300.4 292.8 L300.5 292.3 L300.7 293.2 L300.8 292.8 L300.9 292.1 L301.0 291.7 L301.1 292.7 L301.2 292.1 L301.3 292.4 L301.5 292.1 L301.6 292.3 L301.7 292.7 L301.8 293.7 L301.9 293.2 L302.0 292.2 L302.2 292.4 L302.3 291.2 L302.4 292.4 L302.5 291.9 L302.6 293.1 L302.7 293.2 L302.9 292.3 L303.0 291.5 L303.1 292.2 L303.2 292.6 L303.3 292.2 L303.4 292.1 L303.5 292.1 L303.7 292.4 L303.8 293.0 L303.9 293.0 L304.0 292.7 L304.1 292.5 L304.2 293.1 L304.4 291.5 L304.5 292.1 L304.6 292.7 L304.7 292.0 L304.8 291.0 L304.9 292.3 L305.1 292.3 L305.2 291.8 L305.3 293.2 L305.4 292.7 L305.5 292.8 L305.6 292.0 L305.7 293.3 L305.9 292.2 L306.0 292.7 L306.1 292.6 L306.2 292.7 L306.3 291.6 L306.4 292.9 L306.6 293.1 L306.7 292.2 L306.8 292.7 L306.9 292.1 L307.0 292.4 L307.1 292.4 L307.3 292.4 L307.4 293.3 L307.5 293.5 L307.6 291.3 L307.7 293.1 L307.8 292.1 L307.9 293.0 L308.1 292.5 L308.2 292.5 L308.3 291.6 L308.4 292.5 L308.5 293.3 L308.6 293.2 L308.8 292.2 L308.9 291.9 L309.0 291.3 L309.1 291.2 L309.2 293.2 L309.3 292.5 L309.5 293.1 L309.6 292.2 L309.7 292.0 L309.8 293.4 L309.9 291.9 L310.0 292.0 L310.1 292.5 L310.3 292.7 L310.4 291.5 L310.5 292.5 L310.6 293.0 L310.7 292.3 L310.8 291.8 L311.0 292.0 L311.1 293.5 L311.2 293.2 L311.3 292.6 L311.4 292.3 L311.5 292.3 L311.7 293.1 L311.8 291.9 L311.9 292.1 L312.0 293.3 L312.1 292.9 L312.2 292.5 L312.3 293.3 L312.5 292.4 L312.6 292.3 L312.7 292.6 L312.8 292.1 L312.9 291.4 L313.0 292.8 L313.2 292.1 L313.3 292.7 L313.4 291.5 L313.5 291.7 L313.6 292.4 L313.7 292.7 L313.9 292.0 L314.0 292.4 L314.1 293.1 L314.2 293.0 L314.3 292.5 L314.4 291.2 L314.5 291.8 L314.7 291.6 L314.8 291.9 L314.9 291.6 L315.0 291.6 L315.1 293.0 L315.2 292.1 L315.4 292.0 L315.5 292.1 L315.6 292.2 L315.7 293.8 L315.8 292.3 L315.9 293.2 L316.1 291.9 L316.2 292.7 L316.3 292.6 L316.4 292.4 L316.5 293.5 L316.6 292.5 L316.7 293.1 L316.9 291.9 L317.0 292.7 L317.1 293.0 L317.2 291.7 L317.3 292.6 L317.4 292.9 L317.6 292.5 L317.7 292.5 L317.8 292.3 L317.9 293.0 L318.0 291.8 L318.1 292.2 L318.3 291.5 L318.4 292.1 L318.5 292.9 L318.6 291.8 L318.7 292.5 L318.8 292.3 L318.9 293.8 L319.1 293.1 L319.2 291.6 L319.3 291.8 L319.4 293.4 L319.5 292.2 L319.6 292.2 L319.8 291.7 L319.9 293.0 L320.0 293.4 L320.1 292.2 L320.2 292.8 L320.3 292.7 L320.5 292.9 L320.6 291.7 L320.7 292.9 L320.8 291.9 L320.9 292.1 L321.0 292.8 L321.1 291.9 L321.3 291.7 L321.4 292.2 L321.5 292.5 L321.6 292.0 L321.7 292.8 L321.8 292.1 L322.0 291.5 L322.1 293.1 L322.2 293.4 L322.3 292.0 L322.4 292.9 L322.5 292.6 L322.7 292.3 L322.8 292.7 L322.9 292.3 L323.0 292.9 L323.1 292.7 L323.2 292.4 L323.3 292.1 L323.5 292.6 L323.6 292.2 L323.7 292.1 L323.8 292.1 L323.9 292.5 L324.0 291.7 L324.2 292.8 L324.3 291.8 L324.4 291.8 L324.5 291.9 L324.6 292.7 L324.7 291.9 L324.9 292.1 L325.0 293.0 L325.1 292.6 L325.2 293.1 L325.3 292.2 L325.4 291.6 L325.5 291.9 L325.7 292.9 L325.8 292.9 L325.9 292.5 L326.0 292.5 L326.1 292.0 L326.2 292.6 L326.4 291.8 L326.5 292.7 L326.6 291.8 L326.7 293.2 L326.8 292.7 L326.9 292.4 L327.1 291.9 L327.2 292.1 L327.3 292.9 L327.4 293.1 L327.5 292.4 L327.6 292.4 L327.7 292.6 L327.9 292.4 L328.0 293.1 L328.1 292.1 L328.2 291.8 L328.3 292.9 L328.4 292.9 L328.6 291.7 L328.7 291.8 L328.8 292.8 L328.9 292.8 L329.0 293.3 L329.1 292.1 L329.3 292.3 L329.4 292.4 L329.5 291.1 L329.6 292.5 L329.7 292.4 L329.8 292.2 L329.9 292.5 L330.1 291.8 L330.2 292.5 L330.3 292.3 L330.4 291.1 L330.5 292.7 L330.6 293.0 L330.8 292.3 L330.9 292.7 L331.0 292.7 L331.1 292.3 L331.2 291.9 L331.3 293.2 L331.5 292.5 L331.6 293.5 L331.7 291.9 L331.8 293.0 L331.9 292.0 L332.0 291.4 L332.1 291.6 L332.3 292.2 L332.4 293.5 L332.5 291.3 L332.6 292.6 L332.7 292.0 L332.8 292.7 L333.0 292.5 L333.1 291.5 L333.2 293.3 L333.3 293.1 L333.4 292.6 L333.5 291.8 L333.7 293.8 L333.8 291.7 L333.9 292.6 L334.0 292.0 L334.1 290.9 L334.2 292.1 L334.3 291.8 L334.5 291.6 L334.6 292.6 L334.7 292.3 L334.8 292.5 L334.9 292.3 L335.0 292.6 L335.2 292.7 L335.3 292.7 L335.4 292.0 L335.5 293.1 L335.6 292.3 L335.7 291.6 L335.9 293.2 L336.0 293.4 L336.1 292.0 L336.2 292.8 L336.3 292.8 L336.4 292.0 L336.5 292.2 L336.7 292.8 L336.8 292.6 L336.9 293.2 L337.0 292.7 L337.1 292.4 L337.2 292.1 L337.4 292.1 L337.5 291.4 L337.6 292.4 L337.7 291.8 L337.8 292.2 L337.9 292.9 L338.1 292.2 L338.2 292.2 L338.3 292.0 L338.4 292.1 L338.5 292.3 L338.6 292.9 L338.7 292.6 L338.9 292.2 L339.0 292.0 L339.1 291.9 L339.2 292.2 L339.3 292.0 L339.4 291.6 L339.6 292.3 L339.7 292.7 L339.8 293.2 L339.9 292.4 L340.0 292.1 L340.1 292.6 L340.3 291.6 L340.4 292.9 L340.5 292.6 L340.6 292.4 L340.7 293.1 L340.8 291.8 L340.9 292.8 L341.1 293.1 L341.2 293.4 L341.3 291.9 L341.4 291.7 L341.5 293.0 L341.6 293.2 L341.8 292.7 L341.9 292.4 L342.0 292.7 L342.1 292.2 L342.2 293.0 L342.3 291.3 L342.5 292.2 L342.6 291.9 L342.7 292.6 L342.8 291.9 L342.9 291.5 L343.0 292.8 L343.1 292.3 L343.3 291.9 L343.4 292.2 L343.5 292.9 L343.6 292.7 L343.7 292.1 L343.8 292.2 L344.0 292.8 L344.1 292.2 L344.2 293.6 L344.3 292.4 L344.4 291.9 L344.5 291.9 L344.7 292.6 L344.8 292.3 L344.9 292.3 L345.0 292.5 L345.1 292.9 L345.2 293.2 L345.3 292.8 L345.5 293.1 L345.6 293.6 L345.7 291.8 L345.8 293.3 L345.9 292.8 L346.0 292.9 L346.2 293.5 L346.3 292.3 L346.4 293.5 L346.5 291.6 L346.6 293.3 L346.7 293.0 L346.9 292.6 L347.0 292.6 L347.1 292.6 L347.2 291.9 L347.3 291.8 L347.4 291.2 L347.5 293.1 L347.7 291.8 L347.8 292.0 L347.9 292.5 L348.0 293.1 L348.1 291.0 L348.2 291.7 L348.4 293.4 L348.5 291.5 L348.6 292.1 L348.7 292.2 L348.8 291.9 L348.9 292.7 L349.1 292.4 L349.2 291.8 L349.3 293.0 L349.4 293.1 L349.5 293.3 L349.6 291.9 L349.7 293.0 L349.9 292.6 L350.0 292.7 L350.1 292.0 L350.2 292.2 L350.3 292.8 L350.4 291.6 L350.6 292.1 L350.7 292.2 L350.8 292.6 L350.9 292.6 L351.0 292.5 L351.1 292.4 L351.3 292.1 L351.4 292.1 L351.5 292.5 L351.6 292.5 L351.7 292.0 L351.8 291.7 L351.9 291.7 L352.1 292.4 L352.2 293.1 L352.3 292.3 L352.4 292.3 L352.5 292.3 L352.6 292.1 L352.8 292.7 L352.9 292.3 L353.0 293.7 L353.1 291.4 L353.2 292.4 L353.3 292.6 L353.5 292.1 L353.6 292.5 L353.7 292.8 L353.8 291.9 L353.9 292.4 L354.0 292.8 L354.1 292.0 L354.3 292.1 L354.4 292.2 L354.5 292.6 L354.6 291.8 L354.7 292.9 L354.8 291.9 L355.0 291.5 L355.1 292.9 L355.2 292.3 L355.3 293.4 L355.4 292.4 L355.5 293.4 L355.7 293.1 L355.8 292.3 L355.9 291.8 L356.0 292.1 L356.1 292.5 L356.2 292.8 L356.4 292.4 L356.5 291.1 L356.6 291.6 L356.7 293.1 L356.8 292.8 L356.9 293.2 L357.0 292.1 L357.2 292.6 L357.3 293.3 L357.4 292.5 L357.5 292.7 L357.6 293.0 L357.7 292.6 L357.9 291.9 L358.0 292.9 L358.1 292.6 L358.2 293.2 L358.3 292.6 L358.4 291.6 L358.6 292.1 L358.7 292.8 L358.8 292.7 L358.9 291.7 L359.0 292.5 L359.1 292.7 L359.2 291.8 L359.4 292.6 L359.5 292.8 L359.6 292.2 L359.7 293.1 L359.8 292.6 L359.9 292.8 L360.1 292.3 L360.2 292.4 L360.3 291.3 L360.4 292.0 L360.5 292.3 L360.6 292.0 L360.8 292.5 L360.9 292.2 L361.0 292.0 L361.1 292.1 L361.2 291.6 L361.3 292.0 L361.4 292.7 L361.6 292.2 L361.7 293.0 L361.8 291.2 L361.9 293.4 L362.0 292.4 L362.1 292.1 L362.3 292.9 L362.4 292.6 L362.5 291.8 L362.6 293.0 L362.7 291.8 L362.8 292.5 L363.0 292.6 L363.1 291.3 L363.2 291.9 L363.3 292.1 L363.4 292.5 L363.5 292.3 L363.6 292.5 L363.8 291.3 L363.9 292.3 L364.0 292.8 L364.1 292.6 L364.2 292.1 L364.3 293.0 L364.5 292.8 L364.6 293.3 L364.7 293.7 L364.8 291.1 L364.9 292.5 L365.0 291.4 L365.2 292.0 L365.3 292.2 L365.4 293.0 L365.5 292.4 L365.6 292.3 L365.7 292.9 L365.8 292.0 L366.0 291.7 L366.1 292.1 L366.2 292.2 L366.3 293.3 L366.4 290.8 L366.5 291.9 L366.7 293.0 L366.8 293.0 L366.9 292.7 L367.0 292.9 L367.1 292.3 L367.2 292.8 L367.4 292.3 L367.5 292.6 L367.6 292.5 L367.7 293.0 L367.8 292.3 L367.9 292.2 L368.0 292.8 L368.2 293.3 L368.3 292.3 L368.4 293.4 L368.5 292.8 L368.6 292.1 L368.7 291.7 L368.9 292.5 L369.0 292.2 L369.1 291.6 L369.2 293.0 L369.3 292.6 L369.4 292.2 L369.6 291.6 L369.7 293.0 L369.8 293.0 L369.9 291.8 L370.0 291.7 L370.1 292.7 L370.2 292.3 L370.4 291.8 L370.5 292.5 L370.6 293.4 L370.7 292.3 L370.8 291.8 L370.9 293.1 L371.1 291.7 L371.2 292.6 L371.3 293.4 L371.4 292.3 L371.5 293.2 L371.6 291.6 L371.8 292.1 L371.9 291.4 L372.0 293.3 L372.1 292.3 L372.2 291.6 L372.3 291.7 L372.4 292.0 L372.6 292.2 L372.7 292.0 L372.8 291.8 L372.9 291.4 L373.0 293.4 L373.1 293.0 L373.3 292.7 L373.4 292.3 L373.5 292.2 L373.6 292.6 L373.7 292.4 L373.8 292.0 L374.0 291.7 L374.1 292.8 L374.2 292.5 L374.3 292.4 L374.4 291.0 L374.5 292.8 L374.6 292.2 L374.8 292.4 L374.9 292.6 L375.0 291.9 L375.1 292.4 L375.2 292.7 L375.3 292.4 L375.5 292.2 L375.6 292.8 L375.7 292.8 L375.8 291.8 L375.9 292.7 L376.0 291.9 L376.2 292.5 L376.3 292.9 L376.4 293.1 L376.5 293.4 L376.6 292.0 L376.7 292.1 L376.8 292.7 L377.0 293.0 L377.1 292.7 L377.2 292.4 L377.3 291.7 L377.4 292.8 L377.5 293.4 L377.7 292.3 L377.8 292.7 L377.9 292.9 L378.0 293.5 L378.1 292.1 L378.2 291.7 L378.4 293.0 L378.5 293.3 L378.6 292.8 L378.7 292.6 L378.8 292.2 L378.9 292.4 L379.0 293.4 L379.2 292.3 L379.3 292.3 L379.4 292.8 L379.5 292.3 L379.6 293.3 L379.7 292.7 L379.9 293.3 L380.0 292.5 L380.1 292.1 L380.2 293.6 L380.3 292.5 L380.4 292.1 L380.6 292.4 L380.7 291.6 L380.8 292.5 L380.9 291.3 L381.0 292.4 L381.1 293.2 L381.2 292.6 L381.4 292.9 L381.5 291.8 L381.6 291.6 L381.7 291.5 L381.8 292.0 L381.9 292.5 L382.1 292.8 L382.2 293.1 L382.3 292.1 L382.4 293.2 L382.5 292.6 L382.6 292.3 L382.8 292.2 L382.9 293.2 L383.0 293.2 L383.1 293.1 L383.2 292.0 L383.3 293.1 L383.4 293.0 L383.6 292.1 L383.7 291.9 L383.8 291.4 L383.9 292.4 L384.0 291.9 L384.1 293.4 L384.3 292.1 L384.4 291.9 L384.5 291.9 L384.6 292.7 L384.7 291.6 L384.8 291.5 L385.0 292.4 L385.1 292.4 L385.2 292.6 L385.3 292.6 L385.4 292.4 L385.5 293.1 L385.6 293.2 L385.8 292.6 L385.9 292.7 L386.0 291.9 L386.1 292.5 L386.2 293.0 L386.3 293.4 L386.5 292.6 L386.6 293.0 L386.7 293.4 L386.8 291.3 L386.9 293.5 L387.0 291.5 L387.2 290.7 L387.3 292.3 L387.4 292.7 L387.5 292.0 L387.6 292.9 L387.7 292.3 L387.8 292.0 L388.0 293.1 L388.1 291.5 L388.2 292.4 L388.3 292.2 L388.4 291.6 L388.5 293.2 L388.7 293.1 L388.8 292.2 L388.9 292.2 L389.0 292.5 L389.1 292.5 L389.2 292.5 L389.4 292.9 L389.5 293.1 L389.6 292.8 L389.7 292.3 L389.8 292.2 L389.9 293.1 L390.0 291.4 L390.2 291.1 L390.3 292.3 L390.4 292.9 L390.5 292.5 L390.6 292.0 L390.7 292.5 L390.9 291.3 L391.0 292.6 L391.1 291.9 L391.2 292.1 L391.3 291.1 L391.4 292.2 L391.6 292.1 L391.7 292.9 L391.8 292.5 L391.9 293.1 L392.0 290.6 L392.1 292.4 L392.2 292.5 L392.4 292.4 L392.5 292.2 L392.6 292.1 L392.7 293.4 L392.8 291.7 L392.9 292.4 L393.1 292.4 L393.2 291.4 L393.3 292.2 L393.4 292.8 L393.5 292.9 L393.6 292.0 L393.8 292.4 L393.9 292.3 L394.0 293.1 L394.1 292.3 L394.2 292.8 L394.3 292.8 L394.4 291.7 L394.6 292.2 L394.7 292.5 L394.8 291.8 L394.9 291.3 L395.0 293.2 L395.1 291.9 L395.3 292.2 L395.4 292.4 L395.5 291.6 L395.6 291.9 L395.7 292.6 L395.8 291.7 L396.0 292.5 L396.1 292.4 L396.2 293.1 L396.3 292.4 L396.4 292.1 L396.5 292.6 L396.6 292.4 L396.8 291.7 L396.9 292.5 L397.0 292.7 L397.1 291.4 L397.2 292.8 L397.3 293.7 L397.5 293.1 L397.6 292.5 L397.7 293.1 L397.8 293.0 L397.9 292.7 L398.0 292.5 L398.2 292.5 L398.3 292.4 L398.4 291.8 L398.5 290.5 L398.6 291.7 L398.7 292.0 L398.8 292.8 L399.0 292.3 L399.1 293.0 L399.2 292.4 L399.3 293.0 L399.4 291.8 L399.5 291.2 L399.7 291.8 L399.8 290.9 L399.9 293.0 L400.0 291.9 L400.1 292.5 L400.2 292.3 L400.4 293.0 L400.5 292.4 L400.6 292.4 L400.7 292.8 L400.8 291.7 L400.9 292.0 L401.0 291.7 L401.2 292.7 L401.3 292.8 L401.4 293.0 L401.5 291.9 L401.6 291.8 L401.7 292.4 L401.9 292.8 L402.0 292.3 L402.1 292.1 L402.2 292.1 L402.3 292.5 L402.4 291.8 L402.6 291.7 L402.7 292.9 L402.8 292.2 L402.9 292.3 L403.0 293.1 L403.1 292.7 L403.2 292.2 L403.4 291.7 L403.5 292.8 L403.6 292.6 L403.7 292.5 L403.8 292.6 L403.9 293.2 L404.1 291.9 L404.2 292.5 L404.3 292.1 L404.4 292.0 L404.5 292.6 L404.6 292.9 L404.8 292.8 L404.9 292.7 L405.0 292.9 L405.1 292.6 L405.2 293.2 L405.3 292.6 L405.4 292.7 L405.6 292.3 L405.7 292.1 L405.8 291.4 L405.9 291.7 L406.0 292.0 L406.1 292.4 L406.3 292.3 L406.4 292.2 L406.5 292.5 L406.6 292.3 L406.7 292.8 L406.8 292.2 L407.0 292.9 L407.1 292.6 L407.2 292.7 L407.3 290.9 L407.4 292.3 L407.5 291.8 L407.6 293.1 L407.8 292.0 L407.9 292.5 L408.0 291.8 L408.1 292.6 L408.2 293.0 L408.3 291.9 L408.5 292.3 L408.6 293.1 L408.7 292.4 L408.8 292.9 L408.9 292.0 L409.0 292.3 L409.2 292.2 L409.3 292.9 L409.4 291.6 L409.5 292.7 L409.6 292.2 L409.7 292.5 L409.8 292.3 L410.0 293.0 L410.1 292.3 L410.2 292.1 L410.3 293.1 L410.4 291.8 L410.5 292.9 L410.7 292.7 L410.8 292.7 L410.9 291.7 L411.0 292.6 L411.1 292.6 L411.2 292.2 L411.4 292.3 L411.5 291.7 L411.6 292.6 L411.7 292.7 L411.8 292.8 L411.9 292.8 L412.0 292.0 L412.2 292.1 L412.3 292.6 L412.4 292.4 L412.5 293.6 L412.6 291.9 L412.7 292.1 L412.9 293.5 L413.0 292.7 L413.1 292.4 L413.2 291.6 L413.3 292.2 L413.4 291.7 L413.6 291.5 L413.7 292.0 L413.8 292.9 L413.9 293.1 L414.0 292.5 L414.1 291.9 L414.3 292.1 L414.4 293.1 L414.5 292.0 L414.6 292.9 L414.7 292.6 L414.8 291.8 L414.9 292.3 L415.1 292.7 L415.2 292.8 L415.3 292.3 L415.4 292.2 L415.5 292.4 L415.6 292.8 L415.8 292.1 L415.9 291.9 L416.0 293.0 L416.1 292.0 L416.2 292.7 L416.3 292.5 L416.5 291.8 L416.6 293.0 L416.7 292.4 L416.8 291.4 L416.9 291.5 L417.0 292.7 L417.1 293.0 L417.3 291.6 L417.4 292.2 L417.5 292.2 L417.6 293.2 L417.7 292.3 L417.8 293.2 L418.0 292.5 L418.1 291.3 L418.2 291.7 L418.3 291.5 L418.4 292.3 L418.5 292.1 L418.7 292.6 L418.8 291.2 L418.9 292.6 L419.0 293.1 L419.1 292.6 L419.2 291.8 L419.3 292.6 L419.5 292.2 L419.6 293.2 L419.7 292.7 L419.8 293.1 L419.9 293.0 L420.0 292.5 L420.2 292.0 L420.3 291.3 L420.4 292.1 L420.5 293.0 L420.6 293.0 L420.7 293.2 L420.9 292.4 L421.0 292.9 L421.1 292.5 L421.2 293.0 L421.3 291.5 L421.4 292.6 L421.5 292.0 L421.7 292.5 L421.8 291.1 L421.9 293.2 L422.0 292.1 L422.1 291.6 L422.2 292.4 L422.4 291.8 L422.5 292.4 L422.6 291.7 L422.7 292.3 L422.8 291.3 L422.9 293.2 L423.1 291.9 L423.2 292.6 L423.3 292.6 L423.4 292.0 L423.5 292.7" fill="none" stroke="#ff1010" stroke-width="1.0" stroke-linejoin="round"/>
<path d="M95.6 273.2 V308.4 M100.5 274.8 V306.9 M105.3 273.8 V309.4 M110.1 275.7 V306.8 M114.7 276.2 V309.2 M119.4 282.0 V307.4 M124.0 276.6 V307.4 M128.7 276.4 V310.4 M133.5 282.7 V307.7 M138.2 281.8 V307.4 M142.9 283.1 V310.6 M147.7 275.1 V310.0 M152.5 273.5 V310.4 M157.2 281.5 V308.3 M161.8 281.3 V309.9 M166.5 281.4 V307.5 M171.0 277.0 V306.6 M175.6 277.2 V310.5 M180.3 283.4 V308.5 M184.8 276.5 V309.3 M189.5 282.8 V307.5 M194.1 274.0 V309.7 M198.5 276.2 V308.7 M203.2 282.9 V310.8 M207.8 281.7 V309.0 M212.3 274.6 V308.4 M216.9 275.1 V310.0 M221.5 275.8 V310.6 M225.9 276.6 V309.6 M230.4 274.0 V309.2 M234.9 283.1 V308.5 M239.3 283.0 V310.8 M243.8 283.2 V310.6 M248.2 277.0 V308.1 M252.6 275.7 V307.0 M257.0 280.9 V308.3 M261.4 276.1 V310.0 M265.9 274.1 V307.6 M270.4 273.4 V306.5 M274.7 282.2 V308.4 M279.0 273.6 V308.6 M283.4 275.1 V310.6 M287.7 276.7 V309.2 M292.1 283.2 V306.9 M296.5 273.8 V308.5 M300.9 282.4 V310.6 M305.3 275.6 V310.4 M309.6 282.7 V308.7 M313.9 274.8 V307.1 M318.2 273.6 V306.7 M322.5 274.2 V310.6 M326.8 273.4 V310.0 M331.2 281.8 V309.4 M335.5 275.8 V307.6 M339.7 277.4 V307.6 M343.9 274.7 V310.0 M348.2 280.9 V306.7 M352.3 281.4 V307.7 M356.4 277.4 V306.9 M360.6 275.6 V308.6 M364.7 275.0 V310.0 M368.7 273.4 V307.6 M372.9 275.0 V310.6 M377.1 274.7 V308.9 M381.2 275.5 V306.9 M385.2 275.1 V307.9 M389.3 274.0 V310.5 M393.3 276.5 V308.6 M397.5 274.4 V308.6 M401.6 276.4 V308.8 M405.6 273.4 V308.3 M409.7 282.1 V309.9 M413.7 281.9 V310.8 M417.9 273.7 V309.2 M422.0 273.2 V308.5 " stroke="#ff3030" stroke-width="0.75" opacity="0.85" fill="none"/>
<path d="M95.9 292.8 L97.2 289.3 L98.5 292.8 Z M94.7 292.1 L95.6 287.9 L96.5 292.1 L95.6 295.9 Z M100.9 292.8 L102.2 289.7 L103.5 292.8 Z M99.6 292.1 L100.5 287.9 L101.4 292.1 L100.5 295.9 Z M105.6 292.8 L106.9 290.8 L108.2 292.8 Z M104.4 292.1 L105.3 287.9 L106.2 292.1 L105.3 295.9 Z M110.4 292.8 L111.7 289.5 L113.0 292.8 Z M109.2 292.1 L110.1 287.9 L111.0 292.1 L110.1 295.9 Z M115.0 292.8 L116.3 289.7 L117.6 292.8 Z M113.8 292.1 L114.7 287.9 L115.6 292.1 L114.7 295.9 Z M119.7 292.8 L121.0 289.4 L122.3 292.8 Z M118.5 292.1 L119.4 287.9 L120.3 292.1 L119.4 295.9 Z M124.3 292.8 L125.6 290.5 L126.9 292.8 Z M123.1 292.1 L124.0 287.9 L124.9 292.1 L124.0 295.9 Z M129.0 292.8 L130.3 290.1 L131.6 292.8 Z M127.8 292.1 L128.7 287.9 L129.6 292.1 L128.7 295.9 Z M133.8 292.8 L135.1 289.8 L136.4 292.8 Z M132.6 292.1 L133.5 287.9 L134.4 292.1 L133.5 295.9 Z M138.5 292.8 L139.8 289.2 L141.1 292.8 Z M137.3 292.1 L138.2 287.9 L139.1 292.1 L138.2 295.9 Z M143.3 292.8 L144.6 290.7 L145.9 292.8 Z M142.0 292.1 L142.9 287.9 L143.8 292.1 L142.9 295.9 Z M148.0 292.8 L149.3 290.2 L150.6 292.8 Z M146.8 292.1 L147.7 287.9 L148.6 292.1 L147.7 295.9 Z M152.8 292.8 L154.1 289.7 L155.4 292.8 Z M151.6 292.1 L152.5 287.9 L153.4 292.1 L152.5 295.9 Z M157.5 292.8 L158.8 290.3 L160.1 292.8 Z M156.3 292.1 L157.2 287.9 L158.1 292.1 L157.2 295.9 Z M162.1 292.8 L163.4 290.1 L164.7 292.8 Z M160.9 292.1 L161.8 287.9 L162.7 292.1 L161.8 295.9 Z M166.8 292.8 L168.1 290.7 L169.4 292.8 Z M165.6 292.1 L166.5 287.9 L167.4 292.1 L166.5 295.9 Z M171.4 292.8 L172.7 290.5 L174.0 292.8 Z M170.1 292.1 L171.0 287.9 L171.9 292.1 L171.0 295.9 Z M176.0 292.8 L177.3 290.2 L178.6 292.8 Z M174.7 292.1 L175.6 287.9 L176.5 292.1 L175.6 295.9 Z M180.6 292.8 L181.9 290.4 L183.2 292.8 Z M179.4 292.1 L180.3 287.9 L181.2 292.1 L180.3 295.9 Z M185.1 292.8 L186.4 289.9 L187.7 292.8 Z M183.9 292.1 L184.8 287.9 L185.7 292.1 L184.8 295.9 Z M189.8 292.8 L191.1 290.7 L192.4 292.8 Z M188.6 292.1 L189.5 287.9 L190.4 292.1 L189.5 295.9 Z M194.4 292.8 L195.7 290.1 L197.0 292.8 Z M193.2 292.1 L194.1 287.9 L195.0 292.1 L194.1 295.9 Z M198.9 292.8 L200.2 290.6 L201.5 292.8 Z M197.6 292.1 L198.5 287.9 L199.4 292.1 L198.5 295.9 Z M203.5 292.8 L204.8 290.0 L206.1 292.8 Z M202.3 292.1 L203.2 287.9 L204.1 292.1 L203.2 295.9 Z M208.1 292.8 L209.4 289.5 L210.7 292.8 Z M206.9 292.1 L207.8 287.9 L208.7 292.1 L207.8 295.9 Z M212.6 292.8 L213.9 290.8 L215.2 292.8 Z M211.4 292.1 L212.3 287.9 L213.2 292.1 L212.3 295.9 Z M217.2 292.8 L218.5 289.7 L219.8 292.8 Z M216.0 292.1 L216.9 287.9 L217.8 292.1 L216.9 295.9 Z M221.8 292.8 L223.1 289.7 L224.4 292.8 Z M220.6 292.1 L221.5 287.9 L222.4 292.1 L221.5 295.9 Z M226.2 292.8 L227.5 290.4 L228.8 292.8 Z M225.0 292.1 L225.9 287.9 L226.8 292.1 L225.9 295.9 Z M230.7 292.8 L232.0 289.5 L233.3 292.8 Z M229.5 292.1 L230.4 287.9 L231.3 292.1 L230.4 295.9 Z M235.2 292.8 L236.5 289.8 L237.8 292.8 Z M234.0 292.1 L234.9 287.9 L235.8 292.1 L234.9 295.9 Z M239.6 292.8 L240.9 290.1 L242.2 292.8 Z M238.4 292.1 L239.3 287.9 L240.2 292.1 L239.3 295.9 Z M244.1 292.8 L245.4 290.7 L246.7 292.8 Z M242.9 292.1 L243.8 287.9 L244.7 292.1 L243.8 295.9 Z M248.5 292.8 L249.8 289.4 L251.1 292.8 Z M247.3 292.1 L248.2 287.9 L249.1 292.1 L248.2 295.9 Z M252.9 292.8 L254.2 290.1 L255.5 292.8 Z M251.7 292.1 L252.6 287.9 L253.5 292.1 L252.6 295.9 Z M257.3 292.8 L258.6 290.2 L259.9 292.8 Z M256.1 292.1 L257.0 287.9 L257.9 292.1 L257.0 295.9 Z M261.7 292.8 L263.0 289.4 L264.3 292.8 Z M260.5 292.1 L261.4 287.9 L262.3 292.1 L261.4 295.9 Z M266.2 292.8 L267.5 289.6 L268.8 292.8 Z M265.0 292.1 L265.9 287.9 L266.8 292.1 L265.9 295.9 Z M270.7 292.8 L272.0 289.8 L273.3 292.8 Z M269.5 292.1 L270.4 287.9 L271.3 292.1 L270.4 295.9 Z M275.0 292.8 L276.3 290.5 L277.6 292.8 Z M273.8 292.1 L274.7 287.9 L275.6 292.1 L274.7 295.9 Z M279.3 292.8 L280.6 289.8 L281.9 292.8 Z M278.1 292.1 L279.0 287.9 L279.9 292.1 L279.0 295.9 Z M283.7 292.8 L285.0 290.4 L286.3 292.8 Z M282.5 292.1 L283.4 287.9 L284.3 292.1 L283.4 295.9 Z M288.0 292.8 L289.3 290.1 L290.6 292.8 Z M286.8 292.1 L287.7 287.9 L288.6 292.1 L287.7 295.9 Z M292.4 292.8 L293.7 289.2 L295.0 292.8 Z M291.2 292.1 L292.1 287.9 L293.0 292.1 L292.1 295.9 Z M296.9 292.8 L298.2 289.8 L299.5 292.8 Z M295.6 292.1 L296.5 287.9 L297.4 292.1 L296.5 295.9 Z M301.2 292.8 L302.5 289.4 L303.8 292.8 Z M300.0 292.1 L300.9 287.9 L301.8 292.1 L300.9 295.9 Z M305.6 292.8 L306.9 289.9 L308.2 292.8 Z M304.4 292.1 L305.3 287.9 L306.2 292.1 L305.3 295.9 Z M309.9 292.8 L311.2 290.2 L312.5 292.8 Z M308.7 292.1 L309.6 287.9 L310.5 292.1 L309.6 295.9 Z M314.2 292.8 L315.5 289.4 L316.8 292.8 Z M313.0 292.1 L313.9 287.9 L314.8 292.1 L313.9 295.9 Z M318.5 292.8 L319.8 289.8 L321.1 292.8 Z M317.3 292.1 L318.2 287.9 L319.1 292.1 L318.2 295.9 Z M322.8 292.8 L324.1 289.3 L325.4 292.8 Z M321.6 292.1 L322.5 287.9 L323.4 292.1 L322.5 295.9 Z M327.2 292.8 L328.5 290.2 L329.8 292.8 Z M325.9 292.1 L326.8 287.9 L327.7 292.1 L326.8 295.9 Z M331.5 292.8 L332.8 289.4 L334.1 292.8 Z M330.3 292.1 L331.2 287.9 L332.1 292.1 L331.2 295.9 Z M335.8 292.8 L337.1 290.4 L338.4 292.8 Z M334.6 292.1 L335.5 287.9 L336.4 292.1 L335.5 295.9 Z M340.0 292.8 L341.3 290.3 L342.6 292.8 Z M338.8 292.1 L339.7 287.9 L340.6 292.1 L339.7 295.9 Z M344.2 292.8 L345.5 289.5 L346.8 292.8 Z M343.0 292.1 L343.9 287.9 L344.8 292.1 L343.9 295.9 Z M348.5 292.8 L349.8 289.9 L351.1 292.8 Z M347.3 292.1 L348.2 287.9 L349.1 292.1 L348.2 295.9 Z M352.6 292.8 L353.9 290.7 L355.2 292.8 Z M351.4 292.1 L352.3 287.9 L353.2 292.1 L352.3 295.9 Z M356.7 292.8 L358.0 289.7 L359.3 292.8 Z M355.5 292.1 L356.4 287.9 L357.3 292.1 L356.4 295.9 Z M360.9 292.8 L362.2 289.4 L363.5 292.8 Z M359.7 292.1 L360.6 287.9 L361.5 292.1 L360.6 295.9 Z M365.0 292.8 L366.3 289.3 L367.6 292.8 Z M363.8 292.1 L364.7 287.9 L365.6 292.1 L364.7 295.9 Z M369.1 292.8 L370.4 289.8 L371.7 292.8 Z M367.8 292.1 L368.7 287.9 L369.6 292.1 L368.7 295.9 Z M373.2 292.8 L374.5 290.6 L375.8 292.8 Z M372.0 292.1 L372.9 287.9 L373.8 292.1 L372.9 295.9 Z M377.5 292.8 L378.8 289.8 L380.1 292.8 Z M376.2 292.1 L377.1 287.9 L378.0 292.1 L377.1 295.9 Z M381.5 292.8 L382.8 290.5 L384.1 292.8 Z M380.3 292.1 L381.2 287.9 L382.1 292.1 L381.2 295.9 Z M385.6 292.8 L386.9 289.3 L388.2 292.8 Z M384.3 292.1 L385.2 287.9 L386.1 292.1 L385.2 295.9 Z M389.6 292.8 L390.9 290.8 L392.2 292.8 Z M388.4 292.1 L389.3 287.9 L390.2 292.1 L389.3 295.9 Z M393.6 292.8 L394.9 289.8 L396.2 292.8 Z M392.4 292.1 L393.3 287.9 L394.2 292.1 L393.3 295.9 Z M397.8 292.8 L399.1 289.8 L400.4 292.8 Z M396.6 292.1 L397.5 287.9 L398.4 292.1 L397.5 295.9 Z M402.0 292.8 L403.3 289.8 L404.6 292.8 Z M400.7 292.1 L401.6 287.9 L402.5 292.1 L401.6 295.9 Z M406.0 292.8 L407.3 290.2 L408.6 292.8 Z M404.7 292.1 L405.6 287.9 L406.5 292.1 L405.6 295.9 Z M410.0 292.8 L411.3 289.8 L412.6 292.8 Z M408.8 292.1 L409.7 287.9 L410.6 292.1 L409.7 295.9 Z M414.1 292.8 L415.4 290.3 L416.7 292.8 Z M412.8 292.1 L413.7 287.9 L414.6 292.1 L413.7 295.9 Z M418.2 292.8 L419.5 289.7 L420.8 292.8 Z M417.0 292.1 L417.9 287.9 L418.8 292.1 L417.9 295.9 Z M422.3 292.8 L423.6 290.8 L424.9 292.8 Z M421.1 292.1 L422.0 287.9 L422.9 292.1 L422.0 295.9 Z " fill="#ff1c1c" opacity="0.9"/>
<rect x="93.6" y="270.2" width="330.1" height="44.4" fill="none" stroke="#4a4a4a" stroke-width="1"/>
<text x="90.2" y="274.2" font-size="11.2" text-anchor="end" fill="#262626">0.3</text>
<text x="90.2" y="296.4" font-size="11.2" text-anchor="end" fill="#262626">0</text>
<text x="90.2" y="318.6" font-size="11.2" text-anchor="end" fill="#262626">-0.3</text>
<text x="41" y="292.4" font-size="12.6" text-anchor="middle" font-weight="bold" fill="#1a1a1a" transform="rotate(-90 41 292.4)">ECG</text>
<text x="55.6" y="292.4" font-size="12.6" text-anchor="middle" font-weight="bold" fill="#1a1a1a" transform="rotate(-90 55.6 292.4)">(mV)</text>
<path d="M101.4 376.8 L101.4 371.3 L110.0 371.2 L118.0 371.4 L124.0 370.6 L131.0 367.5 L139.0 363.4 L144.5 357.5 L150.0 353.0 L156.7 349.4 L160.0 348.5 L163.5 348.8 L168.0 351.0 L173.0 354.0 L176.5 354.6 L181.0 353.2 L186.0 350.4 L192.0 347.9 L197.0 346.8 L202.0 345.2 L207.0 344.2 L213.0 343.2 L218.7 342.7 L230.0 342.7 L240.0 342.9 L250.0 343.8 L258.0 344.5 L266.0 344.2 L276.0 343.0 L286.0 341.6 L296.0 340.4 L306.0 339.3 L316.0 338.7 L326.0 338.4 L332.0 338.9 L338.0 338.3 L348.0 336.9 L356.0 336.2 L362.0 335.2 L368.0 334.4 L371.0 333.8 L373.0 335.5 L377.0 339.4 L382.0 340.4 L388.0 341.8 L395.5 344.1 L400.0 346.5 L404.0 347.9 L408.0 348.0 L411.0 346.5 L414.0 343.5 L418.0 341.3 L423.7 341.2" fill="none" stroke="#ff3838" stroke-width="0.8" stroke-linejoin="round"/>
<rect x="93.6" y="331.4" width="330.1" height="45.4" fill="none" stroke="#4a4a4a" stroke-width="1"/>
<text x="90.2" y="335.4" font-size="11.2" text-anchor="end" fill="#262626">92</text>
<text x="90.2" y="380.8" font-size="11.2" text-anchor="end" fill="#262626">70</text>
<text x="41" y="354.1" font-size="12.6" text-anchor="middle" font-weight="bold" fill="#1a1a1a" transform="rotate(-90 41 354.1)">HR</text>
<text x="55.6" y="354.1" font-size="12.6" text-anchor="middle" font-weight="bold" fill="#1a1a1a" transform="rotate(-90 55.6 354.1)">(b.p.m.)</text>
<path d="M93.6 420.9 L93.7 419.4 L93.7 418.7 L93.8 417.0 L93.9 418.8 L93.9 418.5 L94.0 415.5 L94.1 418.6 L94.2 420.7 L94.2 417.0 L94.3 420.2 L94.4 420.1 L94.4 412.2 L94.5 420.5 L94.6 419.8 L94.6 417.7 L94.7 419.7 L94.8 421.8 L94.9 421.5 L94.9 415.7 L95.0 416.1 L95.1 422.2 L95.1 418.8 L95.2 421.8 L95.3 418.6 L95.3 419.2 L95.4 421.3 L95.5 419.6 L95.5 418.6 L95.6 418.8 L95.7 416.3 L95.8 416.1 L95.8 420.0 L95.9 417.3 L96.0 417.5 L96.0 419.1 L96.1 413.5 L96.2 421.9 L96.2 420.3 L96.3 418.3 L96.4 417.6 L96.4 420.9 L96.5 412.5 L96.6 417.9 L96.7 415.4 L96.7 416.7 L96.8 421.1 L96.9 420.5 L96.9 415.1 L97.0 419.1 L97.1 417.7 L97.1 420.7 L97.2 418.6 L97.3 417.0 L97.4 420.4 L97.4 417.1 L97.5 419.3 L97.6 418.6 L97.6 420.6 L97.7 415.1 L97.8 419.1 L97.8 416.4 L97.9 418.5 L98.0 421.1 L98.0 418.6 L98.1 419.8 L98.2 417.8 L98.3 415.3 L98.3 419.0 L98.4 417.0 L98.5 416.9 L98.5 417.8 L98.6 414.3 L98.7 416.2 L98.7 415.8 L98.8 415.9 L98.9 419.2 L98.9 419.0 L99.0 417.3 L99.1 417.9 L99.2 419.3 L99.2 417.1 L99.3 416.3 L99.4 418.2 L99.4 418.7 L99.5 418.9 L99.6 416.7 L99.6 416.9 L99.7 413.3 L99.8 420.2 L99.9 417.8 L99.9 417.4 L100.0 418.1 L100.1 417.6 L100.1 422.3 L100.2 419.4 L100.3 418.4 L100.3 417.1 L100.4 416.0 L100.5 419.7 L100.5 419.8 L100.6 419.2 L100.7 418.0 L100.8 415.2 L100.8 420.5 L100.9 420.7 L101.0 414.8 L101.0 423.0 L101.1 419.8 L101.2 415.6 L101.2 419.5 L101.3 417.6 L101.4 421.6 L101.5 418.9 L101.5 416.1 L101.6 423.8 L101.7 420.3 L101.7 421.8 L101.8 415.4 L101.9 421.3 L101.9 422.4 L102.0 418.3 L102.1 419.3 L102.1 415.4 L102.2 421.5 L102.3 415.0 L102.4 416.3 L102.4 420.3 L102.5 417.9 L102.6 417.9 L102.6 416.4 L102.7 418.6 L102.8 419.7 L102.8 422.3 L102.9 414.4 L103.0 420.2 L103.0 421.2 L103.1 416.3 L103.2 419.1 L103.3 417.7 L103.3 417.7 L103.4 421.4 L103.5 416.9 L103.5 419.0 L103.6 417.9 L103.7 414.3 L103.7 421.6 L103.8 420.8 L103.9 416.8 L104.0 420.4 L104.0 420.8 L104.1 417.3 L104.2 420.2 L104.2 417.4 L104.3 415.7 L104.4 417.3 L104.4 419.8 L104.5 416.2 L104.6 422.7 L104.6 419.0 L104.7 421.0 L104.8 419.0 L104.9 421.1 L104.9 414.9 L105.0 421.2 L105.1 418.6 L105.1 417.5 L105.2 417.2 L105.3 416.6 L105.3 417.4 L105.4 419.7 L105.5 420.0 L105.6 416.7 L105.6 417.5 L105.7 421.8 L105.8 422.6 L105.8 421.3 L105.9 421.5 L106.0 415.6 L106.0 422.7 L106.1 418.6 L106.2 419.5 L106.2 416.7 L106.3 418.7 L106.4 418.1 L106.5 417.9 L106.5 418.0 L106.6 417.2 L106.7 417.0 L106.7 417.2 L106.8 418.3 L106.9 421.7 L106.9 423.4 L107.0 419.0 L107.1 418.0 L107.1 419.0 L107.2 419.9 L107.3 419.0 L107.4 418.0 L107.4 417.7 L107.5 420.2 L107.6 420.0 L107.6 423.2 L107.7 420.0 L107.8 418.6 L107.8 417.2 L107.9 414.7 L108.0 419.5 L108.1 418.7 L108.1 421.0 L108.2 420.2 L108.3 420.0 L108.3 417.0 L108.4 417.1 L108.5 417.3 L108.5 416.6 L108.6 418.1 L108.7 416.8 L108.7 421.2 L108.8 418.6 L108.9 417.6 L109.0 422.0 L109.0 418.3 L109.1 419.9 L109.2 419.3 L109.2 417.2 L109.3 416.6 L109.4 419.0 L109.4 417.9 L109.5 417.8 L109.6 414.9 L109.6 418.5 L109.7 419.1 L109.8 418.1 L109.9 419.5 L109.9 420.2 L110.0 413.5 L110.1 422.4 L110.1 416.0 L110.2 416.5 L110.3 416.0 L110.3 420.9 L110.4 421.4 L110.5 415.1 L110.6 418.5 L110.6 416.9 L110.7 420.4 L110.8 415.1 L110.8 422.3 L110.9 417.0 L111.0 419.2 L111.0 415.3 L111.1 420.8 L111.2 417.0 L111.2 420.4 L111.3 418.2 L111.4 418.0 L111.5 421.1 L111.5 419.6 L111.6 419.7 L111.7 421.1 L111.7 417.5 L111.8 417.2 L111.9 417.0 L111.9 419.8 L112.0 414.3 L112.1 419.9 L112.2 420.3 L112.2 417.0 L112.3 418.5 L112.4 418.9 L112.4 420.2 L112.5 417.2 L112.6 416.1 L112.6 416.2 L112.7 418.5 L112.8 416.0 L112.8 418.1 L112.9 423.1 L113.0 417.6 L113.1 419.9 L113.1 420.0 L113.2 417.8 L113.3 415.6 L113.3 421.8 L113.4 417.2 L113.5 416.7 L113.5 418.7 L113.6 421.7 L113.7 417.7 L113.7 414.7 L113.8 418.9 L113.9 420.6 L114.0 413.3 L114.0 416.8 L114.1 420.9 L114.2 416.4 L114.2 419.0 L114.3 416.0 L114.4 418.9 L114.4 420.0 L114.5 416.0 L114.6 417.4 L114.7 423.4 L114.7 416.6 L114.8 417.7 L114.9 421.2 L114.9 419.7 L115.0 418.1 L115.1 417.9 L115.1 417.0 L115.2 421.3 L115.3 421.4 L115.3 418.7 L115.4 418.5 L115.5 416.4 L115.6 422.3 L115.6 420.2 L115.7 416.0 L115.8 415.8 L115.8 416.8 L115.9 416.3 L116.0 419.1 L116.0 419.1 L116.1 418.6 L116.2 416.9 L116.3 413.5 L116.3 417.6 L116.4 419.2 L116.5 417.4 L116.5 418.5 L116.6 417.2 L116.7 418.9 L116.7 415.7 L116.8 417.1 L116.9 418.5 L116.9 419.5 L117.0 415.7 L117.1 419.6 L117.2 419.4 L117.2 421.4 L117.3 418.5 L117.4 423.3 L117.4 418.2 L117.5 417.6 L117.6 415.2 L117.6 417.6 L117.7 415.8 L117.8 420.2 L117.8 414.1 L117.9 420.1 L118.0 420.4 L118.1 418.3 L118.1 413.9 L118.2 420.6 L118.3 415.5 L118.3 417.3 L118.4 415.6 L118.5 419.9 L118.5 415.1 L118.6 418.6 L118.7 420.8 L118.8 421.9 L118.8 419.9 L118.9 419.5 L119.0 417.6 L119.0 415.2 L119.1 417.4 L119.2 419.2 L119.2 419.1 L119.3 421.6 L119.4 416.9 L119.4 420.2 L119.5 421.3 L119.6 418.9 L119.7 416.6 L119.7 414.5 L119.8 417.8 L119.9 415.4 L119.9 417.3 L120.0 417.5 L120.1 418.7 L120.1 418.5 L120.2 418.4 L120.3 418.7 L120.3 420.7 L120.4 418.1 L120.5 419.9 L120.6 421.2 L120.6 412.8 L120.7 417.5 L120.8 416.3 L120.8 417.3 L120.9 419.2 L121.0 422.5 L121.0 419.0 L121.1 418.0 L121.2 424.0 L121.3 418.2 L121.3 416.5 L121.4 418.2 L121.5 422.9 L121.5 422.1 L121.6 418.1 L121.7 419.6 L121.7 419.6 L121.8 419.0 L121.9 414.4 L121.9 417.6 L122.0 419.3 L122.1 421.3 L122.2 415.3 L122.2 418.3 L122.3 414.8 L122.4 419.9 L122.4 417.4 L122.5 420.4 L122.6 416.9 L122.6 421.6 L122.7 416.2 L122.8 421.0 L122.9 418.3 L122.9 419.7 L123.0 416.5 L123.1 420.3 L123.1 417.4 L123.2 420.2 L123.3 417.6 L123.3 417.7 L123.4 419.3 L123.5 422.2 L123.5 416.2 L123.6 420.0 L123.7 414.3 L123.8 420.8 L123.8 417.1 L123.9 419.1 L124.0 417.3 L124.0 419.7 L124.1 417.8 L124.2 419.3 L124.2 415.6 L124.3 417.9 L124.4 420.0 L124.4 418.2 L124.5 418.5 L124.6 417.4 L124.7 419.4 L124.7 418.6 L124.8 418.8 L124.9 423.1 L124.9 414.5 L125.0 419.3 L125.1 416.1 L125.1 418.4 L125.2 415.5 L125.3 420.2 L125.4 415.6 L125.4 419.8 L125.5 420.7 L125.6 418.3 L125.6 420.7 L125.7 416.5 L125.8 418.2 L125.8 417.2 L125.9 421.7 L126.0 422.1 L126.0 417.4 L126.1 417.5 L126.2 418.2 L126.3 420.2 L126.3 420.4 L126.4 420.7 L126.5 416.7 L126.5 417.2 L126.6 417.4 L126.7 415.8 L126.7 420.0 L126.8 416.9 L126.9 416.6 L127.0 416.9 L127.0 418.7 L127.1 414.4 L127.2 415.5 L127.2 419.1 L127.3 418.6 L127.4 418.6 L127.4 417.9 L127.5 418.8 L127.6 417.1 L127.6 420.3 L127.7 419.6 L127.8 418.8 L127.9 416.7 L127.9 421.0 L128.0 417.7 L128.1 418.7 L128.1 415.5 L128.2 420.4 L128.3 418.1 L128.3 419.5 L128.4 419.5 L128.5 418.2 L128.5 413.4 L128.6 414.0 L128.7 415.3 L128.8 417.8 L128.8 420.1 L128.9 416.3 L129.0 419.7 L129.0 414.1 L129.1 416.1 L129.2 418.8 L129.2 419.7 L129.3 416.7 L129.4 423.6 L129.5 420.8 L129.5 412.1 L129.6 418.8 L129.7 417.5 L129.7 417.3 L129.8 417.2 L129.9 416.1 L129.9 418.2 L130.0 417.2 L130.1 418.3 L130.1 418.2 L130.2 416.9 L130.3 419.7 L130.4 416.3 L130.4 417.2 L130.5 415.2 L130.6 415.1 L130.6 417.3 L130.7 417.4 L130.8 415.5 L130.8 419.7 L130.9 418.0 L131.0 419.1 L131.0 420.8 L131.1 417.3 L131.2 414.1 L131.3 419.7 L131.3 419.6 L131.4 417.3 L131.5 418.9 L131.5 420.0 L131.6 416.0 L131.7 420.2 L131.7 415.1 L131.8 420.0 L131.9 414.8 L132.0 420.0 L132.0 417.4 L132.1 418.3 L132.2 420.0 L132.2 417.5 L132.3 420.0 L132.4 416.7 L132.4 414.9 L132.5 418.2 L132.6 418.6 L132.6 420.0 L132.7 419.8 L132.8 418.5 L132.9 417.1 L132.9 422.3 L133.0 418.0 L133.1 418.4 L133.1 415.1 L133.2 418.5 L133.3 421.7 L133.3 420.5 L133.4 420.8 L133.5 414.9 L133.6 419.4 L133.6 416.6 L133.7 414.9 L133.8 416.3 L133.8 419.9 L133.9 422.0 L134.0 422.3 L134.0 425.7 L134.1 418.3 L134.2 418.5 L134.2 421.4 L134.3 420.1 L134.4 418.7 L134.5 417.6 L134.5 420.3 L134.6 419.6 L134.7 420.9 L134.7 416.9 L134.8 418.2 L134.9 421.1 L134.9 417.7 L135.0 416.9 L135.1 417.9 L135.1 417.4 L135.2 413.6 L135.3 417.2 L135.4 418.1 L135.4 416.8 L135.5 419.8 L135.6 419.1 L135.6 420.4 L135.7 413.9 L135.8 417.7 L135.8 417.5 L135.9 419.6 L136.0 419.5 L136.1 420.4 L136.1 421.3 L136.2 419.2 L136.3 415.8 L136.3 418.3 L136.4 414.6 L136.5 416.8 L136.5 418.6 L136.6 417.4 L136.7 417.8 L136.7 419.6 L136.8 414.6 L136.9 419.8 L137.0 415.8 L137.0 418.4 L137.1 418.6 L137.2 416.1 L137.2 417.0 L137.3 416.3 L137.4 417.2 L137.4 415.5 L137.5 417.2 L137.6 420.0 L137.7 417.0 L137.7 415.9 L137.8 421.6 L137.9 420.0 L137.9 423.7 L138.0 421.9 L138.1 415.4 L138.1 419.5 L138.2 415.7 L138.3 420.5 L138.3 415.6 L138.4 416.3 L138.5 418.8 L138.6 416.2 L138.6 416.2 L138.7 422.1 L138.8 417.9 L138.8 418.2 L138.9 419.1 L139.0 421.2 L139.0 418.1 L139.1 415.7 L139.2 420.1 L139.2 418.6 L139.3 417.7 L139.4 418.8 L139.5 420.4 L139.5 418.3 L139.6 419.5 L139.7 419.5 L139.7 418.5 L139.8 419.4 L139.9 417.9 L139.9 419.3 L140.0 420.3 L140.1 417.7 L140.2 415.5 L140.2 418.8 L140.3 415.5 L140.4 418.9 L140.4 420.4 L140.5 417.6 L140.6 416.6 L140.6 417.5 L140.7 417.2 L140.8 419.9 L140.8 417.2 L140.9 416.3 L141.0 413.3 L141.1 418.6 L141.1 417.6 L141.2 418.3 L141.3 415.5 L141.3 421.0 L141.4 420.5 L141.5 418.9 L141.5 418.9 L141.6 416.4 L141.7 415.8 L141.7 419.5 L141.8 419.9 L141.9 416.0 L142.0 417.1 L142.0 420.6 L142.1 417.2 L142.2 421.3 L142.2 419.9 L142.3 410.1 L142.4 418.9 L142.4 412.9 L142.5 416.2 L142.6 415.0 L142.7 424.2 L142.7 418.0 L142.8 418.7 L142.9 415.0 L142.9 421.7 L143.0 417.0 L143.1 414.2 L143.1 421.1 L143.2 418.8 L143.3 416.6 L143.3 424.9 L143.4 413.8 L143.5 419.3 L143.6 414.3 L143.6 418.8 L143.7 419.4 L143.8 415.1 L143.8 416.4 L143.9 417.7 L144.0 412.7 L144.0 418.4 L144.1 422.9 L144.2 420.2 L144.3 416.1 L144.3 416.0 L144.4 425.2 L144.5 418.3 L144.5 421.3 L144.6 422.6 L144.7 424.5 L144.7 419.8 L144.8 421.7 L144.9 419.4 L144.9 424.2 L145.0 416.1 L145.1 411.4 L145.2 423.3 L145.2 418.5 L145.3 420.2 L145.4 415.8 L145.4 417.0 L145.5 416.6 L145.6 418.3 L145.6 412.6 L145.7 416.3 L145.8 416.2 L145.8 417.3 L145.9 422.1 L146.0 416.6 L146.1 417.7 L146.1 415.4 L146.2 416.2 L146.3 418.5 L146.3 411.7 L146.4 420.0 L146.5 422.4 L146.5 418.8 L146.6 419.4 L146.7 414.6 L146.8 421.4 L146.8 417.9 L146.9 417.5 L147.0 416.3 L147.0 417.7 L147.1 419.8 L147.2 418.4 L147.2 415.3 L147.3 414.1 L147.4 420.2 L147.4 418.9 L147.5 419.3 L147.6 421.1 L147.7 422.7 L147.7 421.4 L147.8 418.0 L147.9 417.5 L147.9 416.4 L148.0 422.3 L148.1 421.1 L148.1 423.5 L148.2 416.0 L148.3 417.9 L148.4 420.0 L148.4 415.1 L148.5 421.0 L148.6 419.6 L148.6 419.4 L148.7 418.6 L148.8 415.4 L148.8 420.0 L148.9 415.0 L149.0 415.1 L149.0 419.0 L149.1 416.8 L149.2 419.3 L149.3 414.0 L149.3 419.0 L149.4 416.3 L149.5 418.5 L149.5 418.2 L149.6 421.6 L149.7 421.1 L149.7 414.9 L149.8 415.0 L149.9 419.9 L149.9 417.4 L150.0 420.8 L150.1 418.2 L150.2 420.7 L150.2 418.5 L150.3 417.2 L150.4 418.9 L150.4 417.5 L150.5 417.9 L150.6 416.8 L150.6 419.8 L150.7 417.8 L150.8 415.6 L150.9 414.5 L150.9 416.9 L151.0 419.4 L151.1 415.5 L151.1 422.7 L151.2 414.9 L151.3 417.4 L151.3 417.1 L151.4 416.3 L151.5 421.1 L151.5 418.8 L151.6 419.2 L151.7 419.2 L151.8 414.9 L151.8 413.9 L151.9 418.9 L152.0 417.1 L152.0 420.9 L152.1 414.7 L152.2 422.1 L152.2 418.6 L152.3 409.7 L152.4 418.7 L152.4 419.9 L152.5 420.4 L152.6 419.4 L152.7 416.6 L152.7 416.6 L152.8 418.6 L152.9 422.4 L152.9 418.2 L153.0 420.8 L153.1 417.5 L153.1 418.3 L153.2 422.5 L153.3 421.3 L153.4 420.1 L153.4 418.3 L153.5 413.4 L153.6 422.1 L153.6 419.0 L153.7 418.3 L153.8 414.8 L153.8 418.1 L153.9 418.7 L154.0 422.3 L154.0 418.0 L154.1 416.7 L154.2 420.2 L154.3 418.0 L154.3 419.0 L154.4 420.4 L154.5 418.6 L154.5 417.5 L154.6 416.4 L154.7 418.4 L154.7 423.2 L154.8 416.2 L154.9 419.4 L155.0 419.7 L155.0 424.1 L155.1 414.2 L155.2 420.4 L155.2 417.0 L155.3 418.9 L155.4 417.9 L155.4 417.1 L155.5 420.0 L155.6 419.8 L155.6 419.7 L155.7 417.5 L155.8 427.1 L155.9 419.1 L155.9 416.6 L156.0 419.3 L156.1 418.2 L156.1 418.6 L156.2 422.0 L156.3 417.9 L156.3 418.5 L156.4 420.5 L156.5 416.6 L156.5 420.7 L156.6 414.5 L156.7 419.7 L156.8 417.6 L156.8 422.7 L156.9 417.7 L157.0 418.2 L157.0 416.2 L157.1 418.0 L157.2 421.2 L157.2 420.1 L157.3 420.2 L157.4 423.8 L157.5 418.2 L157.5 419.8 L157.6 414.6 L157.7 416.9 L157.7 421.2 L157.8 422.5 L157.9 418.9 L157.9 419.3 L158.0 421.2 L158.1 416.8 L158.1 418.2 L158.2 420.5 L158.3 415.1 L158.4 420.0 L158.4 417.1 L158.5 418.3 L158.6 418.4 L158.6 420.1 L158.7 417.9 L158.8 421.3 L158.8 420.4 L158.9 416.7 L159.0 421.6 L159.1 416.0 L159.1 418.8 L159.2 415.1 L159.3 421.3 L159.3 417.2 L159.4 421.1 L159.5 414.7 L159.5 416.2 L159.6 415.8 L159.7 417.6 L159.7 416.7 L159.8 418.2 L159.9 417.2 L160.0 416.2 L160.0 416.6 L160.1 416.7 L160.2 415.3 L160.2 415.8 L160.3 415.7 L160.4 421.4 L160.4 417.8 L160.5 421.1 L160.6 420.2 L160.6 415.6 L160.7 420.7 L160.8 417.9 L160.9 417.6 L160.9 414.9 L161.0 422.9 L161.1 418.4 L161.1 418.9 L161.2 421.2 L161.3 426.8 L161.3 423.0 L161.4 415.9 L161.5 415.0 L161.6 413.9 L161.6 419.5 L161.7 419.3 L161.8 420.6 L161.8 415.2 L161.9 417.1 L162.0 419.9 L162.0 419.0 L162.1 416.9 L162.2 416.9 L162.2 422.3 L162.3 418.1 L162.4 418.4 L162.5 418.5 L162.5 421.7 L162.6 419.1 L162.7 420.1 L162.7 423.5 L162.8 419.3 L162.9 419.1 L162.9 420.1 L163.0 419.1 L163.1 424.1 L163.1 414.0 L163.2 420.1 L163.3 426.0 L163.4 422.0 L163.4 415.0 L163.5 418.4 L163.6 421.4 L163.6 416.8 L163.7 420.8 L163.8 415.8 L163.8 421.9 L163.9 419.5 L164.0 418.2 L164.1 419.1 L164.1 417.3 L164.2 418.9 L164.3 421.7 L164.3 416.6 L164.4 420.0 L164.5 419.3 L164.5 422.0 L164.6 420.2 L164.7 420.9 L164.7 424.7 L164.8 420.2 L164.9 419.8 L165.0 418.7 L165.0 419.8 L165.1 417.3 L165.2 418.5 L165.2 423.4 L165.3 418.5 L165.4 414.5 L165.4 418.9 L165.5 416.4 L165.6 420.5 L165.7 416.2 L165.7 412.9 L165.8 421.9 L165.9 415.1 L165.9 416.8 L166.0 417.9 L166.1 416.0 L166.1 421.9 L166.2 416.8 L166.3 419.2 L166.3 417.6 L166.4 418.8 L166.5 419.9 L166.6 422.0 L166.6 421.9 L166.7 418.8 L166.8 420.4 L166.8 417.9 L166.9 420.5 L167.0 414.7 L167.0 420.4 L167.1 417.4 L167.2 424.0 L167.2 416.7 L167.3 414.1 L167.4 420.3 L167.5 420.0 L167.5 416.5 L167.6 420.0 L167.7 421.2 L167.7 420.3 L167.8 423.3 L167.9 418.0 L167.9 419.2 L168.0 416.3 L168.1 421.1 L168.2 419.6 L168.2 419.5 L168.3 421.3 L168.4 415.1 L168.4 419.7 L168.5 415.9 L168.6 412.4 L168.6 415.7 L168.7 417.8 L168.8 416.8 L168.8 417.7 L168.9 415.4 L169.0 412.3 L169.1 417.5 L169.1 419.7 L169.2 415.3 L169.3 416.0 L169.3 419.4 L169.4 419.7 L169.5 418.8 L169.5 421.1 L169.6 417.6 L169.7 419.5 L169.8 418.1 L169.8 421.6 L169.9 418.7 L170.0 417.4 L170.0 418.7 L170.1 417.5 L170.2 422.3 L170.2 410.9 L170.3 416.4 L170.4 416.3 L170.4 421.6 L170.5 417.2 L170.6 422.4 L170.7 419.2 L170.7 419.0 L170.8 412.0 L170.9 416.6 L170.9 415.6 L171.0 414.8 L171.1 416.3 L171.1 420.8 L171.2 416.3 L171.3 423.2 L171.3 419.2 L171.4 416.3 L171.5 418.9 L171.6 421.9 L171.6 414.5 L171.7 415.7 L171.8 423.9 L171.8 418.4 L171.9 416.1 L172.0 418.8 L172.0 419.8 L172.1 417.7 L172.2 417.8 L172.3 418.7 L172.3 420.8 L172.4 414.2 L172.5 417.9 L172.5 422.2 L172.6 421.3 L172.7 420.4 L172.7 424.0 L172.8 417.0 L172.9 421.2 L172.9 417.8 L173.0 413.7 L173.1 415.7 L173.2 421.4 L173.2 417.8 L173.3 415.4 L173.4 417.5 L173.4 417.9 L173.5 415.2 L173.6 423.1 L173.6 421.6 L173.7 422.4 L173.8 419.0 L173.8 422.0 L173.9 417.1 L174.0 422.7 L174.1 417.6 L174.1 418.2 L174.2 416.2 L174.3 418.8 L174.3 417.3 L174.4 421.1 L174.5 414.0 L174.5 420.5 L174.6 417.0 L174.7 423.6 L174.8 420.9 L174.8 413.3 L174.9 418.2 L175.0 419.3 L175.0 422.0 L175.1 416.2 L175.2 414.6 L175.2 419.5 L175.3 422.7 L175.4 420.9 L175.4 416.6 L175.5 415.9 L175.6 416.9 L175.7 421.9 L175.7 412.9 L175.8 411.7 L175.9 417.3 L175.9 419.7 L176.0 420.4 L176.1 416.6 L176.1 422.5 L176.2 423.6 L176.3 418.3 L176.4 415.8 L176.4 417.5 L176.5 417.0 L176.6 423.1 L176.6 415.7 L176.7 417.9 L176.8 414.9 L176.8 418.5 L176.9 416.2 L177.0 415.7 L177.0 417.5 L177.1 418.3 L177.2 416.8 L177.3 423.1 L177.3 415.6 L177.4 415.6 L177.5 418.5 L177.5 422.9 L177.6 415.2 L177.7 419.8 L177.7 420.5 L177.8 417.3 L177.9 419.4 L177.9 418.7 L178.0 419.9 L178.1 422.0 L178.2 423.3 L178.2 415.1 L178.3 416.7 L178.4 418.6 L178.4 421.9 L178.5 418.8 L178.6 421.1 L178.6 413.4 L178.7 418.8 L178.8 414.0 L178.9 416.4 L178.9 420.0 L179.0 420.1 L179.1 420.0 L179.1 417.7 L179.2 417.0 L179.3 415.0 L179.3 411.3 L179.4 416.5 L179.5 419.7 L179.5 421.6 L179.6 416.2 L179.7 418.6 L179.8 418.7 L179.8 418.1 L179.9 418.0 L180.0 419.0 L180.0 416.8 L180.1 419.0 L180.2 420.9 L180.2 420.3 L180.3 417.0 L180.4 420.7 L180.4 419.4 L180.5 415.0 L180.6 421.3 L180.7 420.6 L180.7 415.9 L180.8 420.4 L180.9 413.7 L180.9 419.5 L181.0 418.3 L181.1 418.0 L181.1 417.7 L181.2 418.4 L181.3 414.8 L181.4 422.7 L181.4 416.5 L181.5 422.2 L181.6 416.9 L181.6 418.5 L181.7 415.8 L181.8 421.6 L181.8 420.5 L181.9 421.5 L182.0 416.7 L182.0 419.1 L182.1 417.5 L182.2 420.3 L182.3 417.6 L182.3 413.6 L182.4 413.8 L182.5 421.4 L182.5 421.2 L182.6 420.4 L182.7 415.9 L182.7 421.0 L182.8 420.2 L182.9 421.5 L183.0 420.3 L183.0 424.1 L183.1 414.7 L183.2 418.2 L183.2 420.4 L183.3 415.8 L183.4 418.7 L183.4 423.2 L183.5 417.0 L183.6 416.6 L183.6 412.1 L183.7 416.3 L183.8 417.1 L183.9 420.7 L183.9 422.5 L184.0 417.8 L184.1 417.6 L184.1 419.2 L184.2 417.1 L184.3 418.4 L184.3 414.0 L184.4 414.5 L184.5 417.9 L184.5 416.4 L184.6 418.4 L184.7 420.5 L184.8 413.7 L184.8 413.8 L184.9 413.2 L185.0 421.5 L185.0 414.4 L185.1 421.2 L185.2 416.7 L185.2 415.7 L185.3 418.2 L185.4 416.1 L185.5 417.4 L185.5 413.9 L185.6 418.5 L185.7 419.4 L185.7 421.4 L185.8 417.0 L185.9 417.6 L185.9 419.5 L186.0 419.4 L186.1 421.2 L186.1 417.5 L186.2 420.7 L186.3 418.7 L186.4 417.2 L186.4 417.9 L186.5 418.4 L186.6 416.4 L186.6 413.4 L186.7 415.7 L186.8 418.3 L186.8 416.0 L186.9 419.0 L187.0 419.2 L187.1 414.0 L187.1 417.3 L187.2 416.0 L187.3 422.0 L187.3 414.7 L187.4 421.4 L187.5 414.6 L187.5 418.3 L187.6 415.0 L187.7 421.5 L187.7 423.5 L187.8 419.8 L187.9 419.9 L188.0 422.3 L188.0 414.4 L188.1 419.5 L188.2 417.7 L188.2 422.4 L188.3 416.0 L188.4 418.7 L188.4 418.7 L188.5 422.4 L188.6 418.2 L188.6 418.8 L188.7 419.4 L188.8 417.7 L188.9 416.2 L188.9 419.7 L189.0 423.1 L189.1 416.1 L189.1 423.4 L189.2 414.9 L189.3 415.4 L189.3 415.9 L189.4 422.0 L189.5 419.3 L189.6 420.4 L189.6 419.2 L189.7 418.6 L189.8 424.6 L189.8 420.1 L189.9 419.2 L190.0 415.6 L190.0 422.0 L190.1 421.2 L190.2 417.0 L190.2 419.5 L190.3 417.4 L190.4 413.1 L190.5 420.1 L190.5 417.9 L190.6 419.7 L190.7 415.5 L190.7 418.1 L190.8 414.3 L190.9 418.7 L190.9 418.2 L191.0 414.1 L191.1 417.1 L191.1 416.5 L191.2 422.5 L191.3 418.0 L191.4 418.8 L191.4 414.7 L191.5 418.4 L191.6 419.7 L191.6 420.7 L191.7 420.1 L191.8 420.3 L191.8 416.2 L191.9 418.2 L192.0 421.6 L192.1 413.0 L192.1 418.2 L192.2 419.8 L192.3 414.4 L192.3 415.0 L192.4 420.3 L192.5 420.7 L192.5 420.8 L192.6 420.5 L192.7 418.1 L192.7 413.5 L192.8 416.5 L192.9 421.2 L193.0 413.1 L193.0 417.9 L193.1 422.1 L193.2 421.1 L193.2 418.2 L193.3 418.3 L193.4 418.5 L193.4 416.9 L193.5 417.3 L193.6 417.2 L193.7 416.9 L193.7 415.7 L193.8 417.6 L193.9 418.2 L193.9 421.0 L194.0 420.4 L194.1 420.9 L194.1 417.8 L194.2 417.9 L194.3 417.5 L194.3 420.2 L194.4 417.8 L194.5 418.2 L194.6 421.3 L194.6 422.3 L194.7 421.9 L194.8 417.5 L194.8 418.9 L194.9 421.5 L195.0 417.8 L195.0 421.6 L195.1 416.8 L195.2 417.4 L195.2 417.4 L195.3 419.0 L195.4 417.9 L195.5 421.5 L195.5 416.9 L195.6 416.3 L195.7 419.8 L195.7 419.6 L195.8 419.0 L195.9 416.9 L195.9 417.4 L196.0 416.9 L196.1 416.2 L196.2 419.2 L196.2 416.4 L196.3 418.8 L196.4 416.7 L196.4 417.2 L196.5 419.0 L196.6 417.5 L196.6 415.5 L196.7 420.4 L196.8 420.7 L196.8 418.1 L196.9 413.6 L197.0 419.3 L197.1 416.7 L197.1 421.2 L197.2 417.0 L197.3 416.3 L197.3 418.9 L197.4 416.8 L197.5 417.0 L197.5 424.3 L197.6 416.5 L197.7 419.2 L197.8 418.6 L197.8 414.9 L197.9 417.0 L198.0 420.2 L198.0 418.2 L198.1 416.7 L198.2 416.7 L198.2 417.9 L198.3 418.3 L198.4 421.8 L198.4 420.8 L198.5 414.1 L198.6 420.7 L198.7 417.3 L198.7 419.8 L198.8 418.7 L198.9 418.9 L198.9 417.7 L199.0 412.9 L199.1 424.6 L199.1 416.4 L199.2 417.8 L199.3 412.2 L199.3 417.5 L199.4 413.5 L199.5 418.4 L199.6 418.6 L199.6 415.9 L199.7 417.0 L199.8 416.2 L199.8 416.1 L199.9 418.2 L200.0 415.5 L200.0 419.0 L200.1 420.0 L200.2 419.1 L200.3 417.4 L200.3 416.8 L200.4 419.1 L200.5 415.9 L200.5 419.3 L200.6 423.9 L200.7 421.0 L200.7 421.6 L200.8 418.4 L200.9 417.6 L200.9 420.1 L201.0 418.9 L201.1 417.9 L201.2 420.3 L201.2 421.6 L201.3 424.2 L201.4 419.6 L201.4 420.3 L201.5 414.6 L201.6 416.3 L201.6 417.6 L201.7 413.3 L201.8 419.1 L201.8 414.8 L201.9 417.0 L202.0 422.1 L202.1 419.1 L202.1 419.2 L202.2 421.5 L202.3 419.7 L202.3 420.8 L202.4 420.6 L202.5 419.1 L202.5 417.0 L202.6 422.3 L202.7 417.7 L202.8 418.2 L202.8 422.4 L202.9 419.4 L203.0 418.5 L203.0 419.2 L203.1 418.3 L203.2 416.3 L203.2 419.3 L203.3 416.0 L203.4 418.9 L203.4 423.2 L203.5 420.9 L203.6 416.6 L203.7 419.5 L203.7 421.7 L203.8 416.6 L203.9 422.1 L203.9 419.6 L204.0 418.2 L204.1 416.6 L204.1 419.7 L204.2 419.6 L204.3 419.2 L204.4 420.0 L204.4 417.5 L204.5 422.7 L204.6 419.8 L204.6 420.4 L204.7 417.7 L204.8 419.0 L204.8 422.6 L204.9 419.3 L205.0 418.6 L205.0 418.3 L205.1 418.4 L205.2 418.1 L205.3 418.5 L205.3 417.5 L205.4 418.1 L205.5 417.2 L205.5 422.4 L205.6 417.9 L205.7 419.9 L205.7 418.8 L205.8 420.4 L205.9 416.7 L205.9 419.9 L206.0 422.2 L206.1 419.2 L206.2 416.8 L206.2 423.8 L206.3 418.4 L206.4 418.2 L206.4 421.0 L206.5 418.5 L206.6 413.8 L206.6 420.4 L206.7 420.3 L206.8 419.0 L206.9 418.6 L206.9 418.2 L207.0 415.0 L207.1 418.6 L207.1 415.9 L207.2 420.5 L207.3 418.3 L207.3 415.1 L207.4 417.3 L207.5 418.4 L207.5 414.1 L207.6 415.1 L207.7 417.0 L207.8 417.7 L207.8 417.5 L207.9 413.9 L208.0 418.6 L208.0 420.9 L208.1 422.2 L208.2 416.2 L208.2 418.7 L208.3 416.7 L208.4 417.0 L208.5 419.4 L208.5 421.9 L208.6 416.0 L208.7 418.5 L208.7 416.1 L208.8 417.9 L208.9 415.2 L208.9 415.2 L209.0 420.3 L209.1 418.2 L209.1 418.0 L209.2 414.7 L209.3 420.4 L209.4 417.2 L209.4 416.8 L209.5 421.7 L209.6 417.0 L209.6 419.1 L209.7 421.9 L209.8 416.6 L209.8 420.7 L209.9 415.7 L210.0 416.0 L210.0 421.7 L210.1 417.3 L210.2 414.7 L210.3 416.0 L210.3 419.7 L210.4 418.0 L210.5 415.6 L210.5 418.9 L210.6 418.2 L210.7 413.7 L210.7 416.1 L210.8 418.6 L210.9 418.9 L211.0 419.8 L211.0 420.1 L211.1 421.5 L211.2 417.2 L211.2 415.2 L211.3 417.6 L211.4 419.1 L211.4 418.7 L211.5 416.3 L211.6 416.1 L211.6 417.9 L211.7 420.2 L211.8 419.3 L211.9 420.1 L211.9 416.4 L212.0 418.5 L212.1 416.6 L212.1 419.4 L212.2 419.8 L212.3 414.5 L212.3 420.4 L212.4 416.8 L212.5 420.0 L212.5 419.6 L212.6 418.4 L212.7 415.7 L212.8 416.6 L212.8 419.3 L212.9 415.5 L213.0 415.6 L213.0 420.6 L213.1 419.5 L213.2 417.8 L213.2 417.5 L213.3 418.4 L213.4 420.2 L213.5 419.9 L213.5 417.6 L213.6 415.9 L213.7 418.4 L213.7 418.8 L213.8 419.8 L213.9 420.6 L213.9 414.9 L214.0 417.7 L214.1 416.7 L214.1 418.1 L214.2 415.6 L214.3 416.6 L214.4 421.2 L214.4 418.9 L214.5 417.6 L214.6 415.7 L214.6 420.1 L214.7 417.4 L214.8 419.6 L214.8 418.1 L214.9 419.8 L215.0 415.9 L215.1 416.1 L215.1 420.9 L215.2 422.4 L215.3 418.6 L215.3 419.5 L215.4 416.5 L215.5 416.7 L215.5 417.2 L215.6 419.8 L215.7 418.5 L215.7 418.1 L215.8 418.4 L215.9 423.9 L216.0 422.6 L216.0 419.1 L216.1 419.9 L216.2 419.1 L216.2 418.2 L216.3 420.1 L216.4 419.3 L216.4 419.2 L216.5 414.8 L216.6 418.4 L216.6 419.8 L216.7 419.4 L216.8 417.2 L216.9 420.3 L216.9 421.0 L217.0 419.9 L217.1 417.0 L217.1 419.3 L217.2 419.1 L217.3 418.3 L217.3 420.7 L217.4 415.2 L217.5 418.5 L217.6 418.6 L217.6 414.6 L217.7 418.0 L217.8 422.0 L217.8 415.9 L217.9 420.8 L218.0 415.3 L218.0 419.1 L218.1 413.6 L218.2 416.5 L218.2 417.3 L218.3 414.8 L218.4 420.3 L218.5 419.5 L218.5 421.2 L218.6 420.0 L218.7 418.9 L218.7 417.7 L218.8 417.0 L218.9 416.9 L218.9 417.3 L219.0 418.8 L219.1 420.6 L219.2 419.9 L219.2 413.7 L219.3 418.7 L219.4 417.5 L219.4 418.0 L219.5 419.6 L219.6 416.7 L219.6 417.3 L219.7 420.1 L219.8 416.5 L219.8 418.1 L219.9 419.0 L220.0 417.6 L220.1 419.2 L220.1 422.1 L220.2 421.8 L220.3 421.3 L220.3 411.7 L220.4 420.5 L220.5 419.2 L220.5 414.1 L220.6 417.9 L220.7 411.6 L220.7 417.8 L220.8 422.3 L220.9 415.7 L221.0 419.8 L221.0 416.4 L221.1 416.6 L221.2 420.5 L221.2 418.0 L221.3 417.0 L221.4 418.8 L221.4 421.5 L221.5 417.6 L221.6 418.5 L221.7 414.9 L221.7 418.4 L221.8 416.0 L221.9 416.4 L221.9 419.3 L222.0 416.5 L222.1 414.9 L222.1 419.7 L222.2 420.7 L222.3 420.2 L222.3 418.4 L222.4 415.5 L222.5 417.1 L222.6 419.2 L222.6 420.6 L222.7 419.2 L222.8 412.2 L222.8 418.3 L222.9 421.4 L223.0 416.5 L223.0 418.9 L223.1 420.3 L223.2 418.3 L223.2 416.5 L223.3 419.6 L223.4 419.3 L223.5 417.3 L223.5 420.6 L223.6 416.8 L223.7 421.6 L223.7 421.4 L223.8 420.5 L223.9 419.5 L223.9 416.4 L224.0 419.6 L224.1 418.9 L224.2 415.8 L224.2 419.4 L224.3 420.3 L224.4 420.4 L224.4 418.9 L224.5 417.2 L224.6 419.6 L224.6 412.5 L224.7 412.1 L224.8 417.3 L224.8 415.9 L224.9 418.5 L225.0 416.5 L225.1 419.8 L225.1 419.4 L225.2 421.0 L225.3 421.5 L225.3 419.8 L225.4 417.4 L225.5 412.0 L225.5 414.1 L225.6 417.2 L225.7 417.0 L225.8 417.0 L225.8 417.5 L225.9 419.9 L226.0 419.8 L226.0 416.4 L226.1 421.6 L226.2 418.1 L226.2 418.2 L226.3 416.4 L226.4 420.0 L226.4 419.2 L226.5 418.1 L226.6 415.2 L226.7 421.5 L226.7 417.8 L226.8 419.3 L226.9 419.2 L226.9 418.3 L227.0 419.3 L227.1 418.1 L227.1 420.6 L227.2 423.9 L227.3 418.1 L227.3 421.7 L227.4 417.0 L227.5 421.1 L227.6 418.7 L227.6 415.7 L227.7 418.4 L227.8 419.3 L227.8 415.8 L227.9 419.5 L228.0 420.0 L228.0 420.7 L228.1 416.7 L228.2 416.0 L228.3 420.7 L228.3 417.4 L228.4 418.5 L228.5 421.7 L228.5 416.8 L228.6 420.7 L228.7 418.1 L228.7 417.9 L228.8 416.2 L228.9 421.9 L228.9 420.2 L229.0 417.7 L229.1 421.3 L229.2 417.8 L229.2 419.9 L229.3 422.6 L229.4 420.2 L229.4 417.2 L229.5 420.8 L229.6 416.4 L229.6 418.1 L229.7 418.4 L229.8 420.3 L229.9 421.8 L229.9 418.5 L230.0 416.7 L230.1 414.4 L230.1 418.0 L230.2 420.4 L230.3 416.4 L230.3 421.3 L230.4 418.8 L230.5 421.1 L230.5 416.2 L230.6 421.1 L230.7 416.7 L230.8 416.6 L230.8 422.7 L230.9 421.3 L231.0 416.7 L231.0 418.3 L231.1 423.0 L231.2 421.2 L231.2 415.6 L231.3 420.4 L231.4 415.6 L231.4 417.5 L231.5 417.8 L231.6 417.6 L231.7 417.5 L231.7 419.5 L231.8 419.3 L231.9 417.6 L231.9 413.1 L232.0 417.9 L232.1 420.4 L232.1 422.7 L232.2 419.0 L232.3 415.0 L232.4 421.4 L232.4 420.9 L232.5 418.1 L232.6 421.3 L232.6 418.9 L232.7 421.7 L232.8 414.2 L232.8 421.0 L232.9 420.1 L233.0 414.5 L233.0 421.7 L233.1 422.4 L233.2 416.0 L233.3 415.6 L233.3 416.8 L233.4 416.1 L233.5 420.8 L233.5 417.5 L233.6 418.8 L233.7 418.0 L233.7 416.7 L233.8 418.1 L233.9 417.8 L233.9 416.6 L234.0 419.8 L234.1 416.0 L234.2 421.9 L234.2 420.1 L234.3 419.0 L234.4 418.3 L234.4 419.1 L234.5 417.1 L234.6 417.2 L234.6 417.5 L234.7 417.2 L234.8 419.9 L234.9 418.5 L234.9 418.0 L235.0 419.7 L235.1 417.0 L235.1 419.3 L235.2 420.2 L235.3 417.3 L235.3 419.4 L235.4 418.2 L235.5 419.4 L235.5 413.5 L235.6 415.2 L235.7 419.0 L235.8 421.3 L235.8 419.7 L235.9 417.2 L236.0 419.1 L236.0 417.7 L236.1 417.4 L236.2 416.3 L236.2 418.4 L236.3 421.7 L236.4 415.3 L236.5 421.0 L236.5 419.7 L236.6 420.2 L236.7 416.3 L236.7 418.9 L236.8 423.3 L236.9 417.5 L236.9 418.8 L237.0 415.7 L237.1 416.5 L237.1 417.3 L237.2 422.8 L237.3 418.1 L237.4 417.7 L237.4 418.5 L237.5 421.1 L237.6 418.1 L237.6 415.0 L237.7 419.9 L237.8 414.2 L237.8 418.5 L237.9 419.0 L238.0 416.8 L238.0 414.8 L238.1 420.9 L238.2 420.4 L238.3 417.7 L238.3 416.9 L238.4 412.9 L238.5 415.8 L238.5 419.8 L238.6 418.8 L238.7 417.8 L238.7 415.8 L238.8 417.1 L238.9 419.8 L239.0 419.2 L239.0 418.2 L239.1 420.2 L239.2 417.6 L239.2 418.6 L239.3 418.3 L239.4 418.6 L239.4 421.5 L239.5 419.6 L239.6 419.6 L239.6 418.9 L239.7 417.6 L239.8 418.6 L239.9 415.2 L239.9 419.3 L240.0 420.2 L240.1 418.6 L240.1 418.8 L240.2 416.1 L240.3 418.0 L240.3 418.9 L240.4 417.6 L240.5 416.7 L240.6 416.5 L240.6 416.3 L240.7 420.5 L240.8 415.1 L240.8 420.4 L240.9 420.5 L241.0 422.9 L241.0 417.8 L241.1 420.9 L241.2 415.4 L241.2 416.9 L241.3 417.0 L241.4 416.7 L241.5 417.9 L241.5 417.9 L241.6 413.4 L241.7 418.4 L241.7 418.4 L241.8 417.3 L241.9 422.5 L241.9 421.1 L242.0 417.9 L242.1 417.8 L242.1 419.4 L242.2 416.0 L242.3 420.0 L242.4 419.2 L242.4 420.2 L242.5 413.9 L242.6 416.7 L242.6 416.2 L242.7 418.3 L242.8 421.1 L242.8 417.5 L242.9 419.1 L243.0 418.8 L243.1 418.4 L243.1 421.9 L243.2 418.0 L243.3 417.7 L243.3 418.6 L243.4 419.1 L243.5 418.1 L243.5 418.8 L243.6 420.5 L243.7 413.2 L243.7 417.8 L243.8 415.9 L243.9 421.0 L244.0 420.2 L244.0 420.6 L244.1 420.3 L244.2 415.5 L244.2 419.3 L244.3 423.5 L244.4 417.6 L244.4 418.4 L244.5 417.8 L244.6 417.4 L244.6 422.8 L244.7 416.4 L244.8 419.2 L244.9 418.4 L244.9 418.7 L245.0 417.1 L245.1 421.6 L245.1 420.5 L245.2 422.0 L245.3 414.5 L245.3 414.8 L245.4 422.4 L245.5 417.4 L245.6 419.7 L245.6 418.8 L245.7 418.1 L245.8 416.3 L245.8 417.5 L245.9 418.3 L246.0 417.4 L246.0 420.6 L246.1 416.5 L246.2 419.3 L246.2 415.7 L246.3 419.7 L246.4 420.5 L246.5 411.8 L246.5 422.9 L246.6 418.8 L246.7 417.2 L246.7 420.2 L246.8 417.2 L246.9 420.4 L246.9 417.6 L247.0 417.0 L247.1 415.4 L247.2 418.4 L247.2 418.5 L247.3 418.2 L247.4 417.4 L247.4 417.5 L247.5 416.2 L247.6 419.5 L247.6 415.3 L247.7 417.9 L247.8 419.3 L247.8 417.0 L247.9 417.4 L248.0 421.5 L248.1 418.8 L248.1 420.8 L248.2 418.4 L248.3 421.4 L248.3 419.0 L248.4 412.0 L248.5 418.3 L248.5 417.7 L248.6 419.0 L248.7 418.1 L248.7 416.5 L248.8 418.0 L248.9 418.5 L249.0 419.6 L249.0 419.0 L249.1 419.7 L249.2 417.5 L249.2 412.4 L249.3 419.4 L249.4 421.5 L249.4 418.1 L249.5 422.5 L249.6 417.3 L249.7 417.9 L249.7 417.2 L249.8 414.2 L249.9 415.2 L249.9 419.4 L250.0 416.6 L250.1 422.2 L250.1 420.9 L250.2 416.9 L250.3 417.0 L250.3 418.8 L250.4 416.6 L250.5 417.7 L250.6 414.3 L250.6 417.3 L250.7 413.9 L250.8 418.5 L250.8 418.4 L250.9 416.3 L251.0 420.0 L251.0 420.2 L251.1 420.8 L251.2 417.3 L251.3 417.1 L251.3 417.3 L251.4 420.4 L251.5 421.5 L251.5 417.8 L251.6 418.1 L251.7 419.1 L251.7 417.3 L251.8 419.3 L251.9 420.1 L251.9 414.9 L252.0 419.8 L252.1 416.2 L252.2 418.8 L252.2 416.3 L252.3 423.4 L252.4 418.3 L252.4 419.9 L252.5 424.8 L252.6 416.9 L252.6 417.7 L252.7 417.2 L252.8 416.7 L252.8 416.8 L252.9 419.1 L253.0 417.6 L253.1 422.3 L253.1 419.8 L253.2 421.1 L253.3 415.8 L253.3 418.3 L253.4 416.1 L253.5 418.0 L253.5 419.2 L253.6 418.7 L253.7 418.9 L253.8 421.1 L253.8 418.3 L253.9 418.3 L254.0 420.8 L254.0 419.1 L254.1 418.1 L254.2 417.7 L254.2 420.6 L254.3 419.0 L254.4 415.4 L254.4 417.5 L254.5 416.0 L254.6 419.2 L254.7 419.9 L254.7 414.2 L254.8 417.8 L254.9 418.2 L254.9 418.3 L255.0 417.7 L255.1 415.2 L255.1 419.5 L255.2 418.2 L255.3 419.6 L255.3 420.0 L255.4 417.6 L255.5 420.3 L255.6 420.1 L255.6 421.2 L255.7 415.8 L255.8 418.5 L255.8 416.3 L255.9 416.7 L256.0 418.8 L256.0 421.4 L256.1 420.2 L256.2 418.3 L256.3 418.2 L256.3 420.6 L256.4 415.0 L256.5 417.0 L256.5 417.3 L256.6 418.5 L256.7 417.6 L256.7 418.7 L256.8 415.3 L256.9 420.6 L256.9 418.9 L257.0 417.8 L257.1 416.3 L257.2 416.8 L257.2 421.3 L257.3 422.0 L257.4 420.3 L257.4 420.5 L257.5 415.5 L257.6 416.4 L257.6 417.7 L257.7 419.0 L257.8 419.2 L257.9 414.8 L257.9 413.0 L258.0 417.9 L258.1 419.5 L258.1 418.3 L258.2 423.4 L258.3 417.5 L258.3 418.2 L258.4 417.5 L258.5 418.1 L258.5 420.3 L258.6 416.1 L258.7 418.0 L258.8 420.2 L258.8 419.8 L258.9 418.1 L259.0 418.1 L259.0 417.0 L259.1 418.5 L259.2 418.2 L259.2 418.5 L259.3 416.4 L259.4 421.7 L259.4 417.2 L259.5 418.7 L259.6 416.9 L259.7 416.9 L259.7 420.1 L259.8 418.6 L259.9 415.8 L259.9 418.1 L260.0 421.1 L260.1 418.5 L260.1 419.9 L260.2 413.3 L260.3 419.1 L260.4 419.4 L260.4 413.9 L260.5 413.8 L260.6 419.9 L260.6 419.7 L260.7 417.7 L260.8 418.5 L260.8 419.1 L260.9 417.7 L261.0 420.4 L261.0 417.4 L261.1 421.3 L261.2 420.7 L261.3 419.1 L261.3 417.8 L261.4 419.1 L261.5 415.6 L261.5 418.7 L261.6 419.4 L261.7 416.7 L261.7 414.5 L261.8 413.9 L261.9 416.8 L262.0 416.4 L262.0 419.5 L262.1 414.8 L262.2 417.9 L262.2 415.1 L262.3 417.3 L262.4 418.3 L262.4 415.5 L262.5 419.9 L262.6 416.5 L262.6 420.5 L262.7 419.5 L262.8 420.3 L262.9 416.0 L262.9 415.7 L263.0 419.0 L263.1 422.3 L263.1 418.1 L263.2 419.7 L263.3 415.7 L263.3 417.8 L263.4 414.5 L263.5 419.9 L263.5 418.9 L263.6 419.4 L263.7 420.8 L263.8 420.6 L263.8 420.8 L263.9 417.2 L264.0 416.3 L264.0 419.8 L264.1 420.4 L264.2 420.8 L264.2 421.2 L264.3 416.9 L264.4 417.8 L264.5 415.5 L264.5 419.1 L264.6 419.9 L264.7 418.9 L264.7 422.4 L264.8 418.9 L264.9 418.6 L264.9 420.8 L265.0 421.4 L265.1 419.0 L265.1 421.2 L265.2 418.8 L265.3 417.2 L265.4 418.7 L265.4 419.2 L265.5 417.0 L265.6 417.7 L265.6 420.9 L265.7 420.2 L265.8 415.6 L265.8 418.4 L265.9 419.0 L266.0 417.5 L266.0 416.6 L266.1 419.5 L266.2 415.9 L266.3 418.3 L266.3 415.4 L266.4 417.0 L266.5 419.8 L266.5 415.0 L266.6 416.4 L266.7 421.1 L266.7 417.7 L266.8 418.4 L266.9 420.0 L267.0 416.9 L267.0 415.3 L267.1 416.6 L267.2 419.0 L267.2 419.4 L267.3 418.4 L267.4 416.3 L267.4 421.4 L267.5 418.0 L267.6 419.6 L267.6 417.9 L267.7 416.3 L267.8 415.6 L267.9 417.0 L267.9 420.9 L268.0 420.1 L268.1 415.8 L268.1 416.1 L268.2 418.7 L268.3 418.0 L268.3 419.1 L268.4 418.2 L268.5 421.4 L268.6 415.5 L268.6 421.2 L268.7 418.0 L268.8 419.3 L268.8 417.9 L268.9 418.8 L269.0 419.4 L269.0 418.5 L269.1 415.8 L269.2 417.0 L269.2 416.0 L269.3 418.8 L269.4 416.0 L269.5 419.3 L269.5 419.1 L269.6 417.9 L269.7 420.6 L269.7 417.2 L269.8 422.9 L269.9 415.8 L269.9 416.6 L270.0 419.0 L270.1 416.3 L270.1 418.1 L270.2 416.5 L270.3 418.1 L270.4 419.2 L270.4 421.2 L270.5 415.9 L270.6 419.7 L270.6 419.0 L270.7 417.8 L270.8 419.9 L270.8 418.1 L270.9 418.7 L271.0 417.6 L271.1 416.5 L271.1 417.1 L271.2 419.3 L271.3 416.2 L271.3 419.6 L271.4 415.4 L271.5 416.6 L271.5 421.0 L271.6 416.9 L271.7 418.2 L271.7 418.7 L271.8 418.2 L271.9 419.1 L272.0 421.6 L272.0 417.1 L272.1 416.5 L272.2 421.3 L272.2 415.4 L272.3 415.7 L272.4 417.0 L272.4 420.0 L272.5 418.2 L272.6 417.6 L272.6 416.1 L272.7 413.2 L272.8 416.4 L272.9 420.9 L272.9 417.8 L273.0 421.3 L273.1 419.5 L273.1 421.1 L273.2 416.2 L273.3 421.3 L273.3 416.5 L273.4 418.0 L273.5 420.7 L273.6 417.0 L273.6 418.4 L273.7 419.8 L273.8 418.3 L273.8 416.2 L273.9 418.8 L274.0 417.9 L274.0 418.7 L274.1 418.1 L274.2 419.8 L274.2 417.4 L274.3 417.4 L274.4 416.6 L274.5 415.3 L274.5 417.7 L274.6 419.2 L274.7 423.1 L274.7 418.7 L274.8 421.1 L274.9 418.6 L274.9 419.6 L275.0 420.3 L275.1 417.4 L275.2 415.4 L275.2 417.3 L275.3 418.1 L275.4 419.0 L275.4 419.6 L275.5 415.1 L275.6 418.3 L275.6 418.8 L275.7 421.6 L275.8 417.5 L275.8 414.3 L275.9 415.7 L276.0 418.0 L276.1 417.8 L276.1 415.9 L276.2 417.3 L276.3 418.1 L276.3 419.8 L276.4 418.4 L276.5 422.8 L276.5 420.5 L276.6 416.1 L276.7 423.1 L276.7 418.7 L276.8 419.7 L276.9 419.7 L277.0 418.4 L277.0 416.6 L277.1 417.1 L277.2 417.3 L277.2 417.3 L277.3 419.0 L277.4 417.0 L277.4 416.0 L277.5 417.6 L277.6 417.2 L277.7 422.7 L277.7 414.8 L277.8 415.7 L277.9 419.9 L277.9 417.0 L278.0 421.9 L278.1 420.0 L278.1 418.4 L278.2 420.8 L278.3 415.4 L278.3 420.4 L278.4 415.0 L278.5 421.2 L278.6 417.0 L278.6 416.1 L278.7 414.5 L278.8 415.8 L278.8 419.1 L278.9 416.4 L279.0 419.7 L279.0 417.7 L279.1 416.3 L279.2 417.4 L279.3 415.8 L279.3 416.5 L279.4 418.8 L279.5 417.4 L279.5 419.2 L279.6 416.9 L279.7 413.3 L279.7 416.5 L279.8 419.6 L279.9 421.8 L279.9 419.2 L280.0 419.3 L280.1 412.6 L280.2 415.8 L280.2 417.3 L280.3 425.6 L280.4 421.5 L280.4 419.8 L280.5 420.5 L280.6 420.0 L280.6 421.4 L280.7 415.4 L280.8 418.3 L280.8 416.7 L280.9 417.4 L281.0 418.9 L281.1 423.6 L281.1 414.5 L281.2 420.4 L281.3 418.7 L281.3 416.7 L281.4 415.4 L281.5 417.7 L281.5 422.1 L281.6 416.2 L281.7 417.7 L281.8 415.2 L281.8 416.1 L281.9 416.7 L282.0 416.5 L282.0 421.1 L282.1 421.5 L282.2 419.7 L282.2 417.6 L282.3 420.1 L282.4 417.1 L282.4 421.0 L282.5 419.7 L282.6 419.2 L282.7 415.0 L282.7 423.6 L282.8 423.5 L282.9 420.1 L282.9 417.8 L283.0 417.1 L283.1 423.4 L283.1 416.3 L283.2 416.1 L283.3 415.5 L283.3 420.3 L283.4 418.7 L283.5 418.1 L283.6 420.3 L283.6 419.1 L283.7 417.9 L283.8 416.8 L283.8 418.0 L283.9 417.6 L284.0 418.0 L284.0 420.0 L284.1 420.8 L284.2 421.8 L284.3 419.9 L284.3 417.5 L284.4 418.0 L284.5 412.9 L284.5 417.8 L284.6 415.3 L284.7 422.5 L284.7 420.0 L284.8 416.4 L284.9 418.5 L284.9 419.0 L285.0 416.1 L285.1 420.1 L285.2 418.4 L285.2 416.5 L285.3 417.9 L285.4 419.0 L285.4 420.9 L285.5 422.1 L285.6 416.5 L285.6 419.0 L285.7 415.3 L285.8 420.0 L285.9 416.7 L285.9 420.8 L286.0 420.9 L286.1 417.2 L286.1 421.5 L286.2 420.9 L286.3 422.2 L286.3 417.9 L286.4 416.5 L286.5 420.0 L286.5 420.8 L286.6 416.8 L286.7 418.3 L286.8 413.7 L286.8 416.8 L286.9 417.0 L287.0 421.1 L287.0 417.6 L287.1 421.8 L287.2 417.9 L287.2 419.5 L287.3 417.7 L287.4 414.9 L287.4 423.2 L287.5 416.1 L287.6 413.6 L287.7 420.2 L287.7 417.1 L287.8 415.0 L287.9 418.0 L287.9 419.4 L288.0 415.8 L288.1 418.9 L288.1 416.2 L288.2 422.3 L288.3 418.9 L288.4 420.6 L288.4 418.6 L288.5 418.8 L288.6 415.2 L288.6 416.8 L288.7 420.3 L288.8 424.6 L288.8 415.2 L288.9 422.3 L289.0 423.3 L289.0 415.4 L289.1 417.0 L289.2 415.2 L289.3 419.8 L289.3 417.2 L289.4 416.2 L289.5 416.4 L289.5 417.4 L289.6 414.9 L289.7 420.6 L289.7 416.8 L289.8 417.5 L289.9 419.0 L290.0 417.5 L290.0 419.8 L290.1 415.7 L290.2 417.7 L290.2 421.0 L290.3 419.2 L290.4 422.7 L290.4 419.1 L290.5 416.3 L290.6 417.3 L290.6 419.7 L290.7 418.3 L290.8 416.6 L290.9 421.9 L290.9 415.2 L291.0 419.2 L291.1 418.0 L291.1 421.0 L291.2 418.3 L291.3 417.5 L291.3 420.1 L291.4 416.1 L291.5 416.4 L291.5 416.3 L291.6 416.5 L291.7 421.1 L291.8 421.5 L291.8 421.7 L291.9 417.8 L292.0 417.1 L292.0 417.3 L292.1 420.5 L292.2 422.3 L292.2 417.4 L292.3 418.2 L292.4 417.7 L292.5 420.1 L292.5 417.5 L292.6 417.7 L292.7 417.9 L292.7 419.5 L292.8 420.7 L292.9 418.0 L292.9 417.7 L293.0 415.3 L293.1 415.1 L293.1 419.1 L293.2 418.0 L293.3 419.3 L293.4 415.6 L293.4 420.5 L293.5 420.6 L293.6 419.9 L293.6 415.9 L293.7 421.1 L293.8 421.0 L293.8 418.1 L293.9 415.8 L294.0 416.6 L294.0 417.8 L294.1 416.9 L294.2 419.0 L294.3 414.9 L294.3 413.9 L294.4 425.0 L294.5 419.3 L294.5 417.4 L294.6 416.0 L294.7 422.1 L294.7 418.4 L294.8 417.2 L294.9 414.0 L295.0 415.2 L295.0 416.1 L295.1 413.5 L295.2 422.2 L295.2 419.1 L295.3 419.0 L295.4 420.7 L295.4 415.9 L295.5 419.7 L295.6 420.9 L295.6 415.9 L295.7 411.9 L295.8 418.3 L295.9 416.8 L295.9 416.1 L296.0 417.9 L296.1 414.7 L296.1 415.5 L296.2 416.5 L296.3 415.6 L296.3 416.8 L296.4 421.3 L296.5 416.7 L296.6 414.6 L296.6 420.6 L296.7 416.8 L296.8 415.6 L296.8 416.1 L296.9 420.8 L297.0 416.4 L297.0 419.9 L297.1 419.0 L297.2 416.6 L297.2 418.9 L297.3 415.0 L297.4 418.0 L297.5 420.6 L297.5 412.5 L297.6 417.8 L297.7 419.7 L297.7 416.4 L297.8 420.0 L297.9 418.1 L297.9 421.3 L298.0 414.5 L298.1 418.0 L298.1 420.2 L298.2 414.2 L298.3 419.3 L298.4 415.8 L298.4 416.6 L298.5 421.4 L298.6 414.2 L298.6 418.9 L298.7 412.8 L298.8 421.0 L298.8 418.5 L298.9 416.5 L299.0 420.2 L299.1 417.2 L299.1 415.9 L299.2 418.0 L299.3 419.4 L299.3 416.6 L299.4 417.7 L299.5 419.4 L299.5 416.8 L299.6 416.0 L299.7 418.9 L299.7 420.1 L299.8 416.6 L299.9 415.5 L300.0 418.3 L300.0 417.1 L300.1 419.2 L300.2 416.1 L300.2 419.8 L300.3 420.4 L300.4 423.1 L300.4 421.9 L300.5 415.4 L300.6 422.3 L300.7 416.9 L300.7 417.7 L300.8 421.7 L300.9 414.5 L300.9 416.7 L301.0 417.1 L301.1 418.0 L301.1 414.1 L301.2 419.6 L301.3 421.3 L301.3 415.1 L301.4 418.3 L301.5 418.5 L301.6 420.3 L301.6 418.1 L301.7 420.3 L301.8 420.6 L301.8 415.9 L301.9 412.9 L302.0 420.5 L302.0 421.8 L302.1 420.0 L302.2 420.0 L302.2 419.6 L302.3 417.7 L302.4 421.1 L302.5 422.5 L302.5 422.8 L302.6 421.1 L302.7 416.4 L302.7 416.5 L302.8 413.0 L302.9 415.0 L302.9 418.2 L303.0 416.2 L303.1 412.7 L303.2 421.0 L303.2 420.0 L303.3 421.0 L303.4 418.4 L303.4 421.2 L303.5 421.8 L303.6 417.4 L303.6 414.6 L303.7 416.5 L303.8 415.0 L303.8 416.8 L303.9 416.7 L304.0 418.2 L304.1 415.8 L304.1 419.7 L304.2 417.2 L304.3 415.2 L304.3 420.0 L304.4 420.7 L304.5 415.2 L304.5 418.6 L304.6 419.8 L304.7 421.1 L304.7 419.0 L304.8 417.4 L304.9 423.4 L305.0 414.9 L305.0 417.1 L305.1 418.6 L305.2 419.6 L305.2 425.5 L305.3 418.7 L305.4 416.9 L305.4 420.7 L305.5 423.9 L305.6 418.3 L305.7 415.4 L305.7 416.3 L305.8 413.5 L305.9 418.6 L305.9 421.5 L306.0 422.2 L306.1 418.5 L306.1 415.7 L306.2 423.2 L306.3 417.5 L306.3 415.6 L306.4 421.5 L306.5 420.7 L306.6 418.9 L306.6 420.8 L306.7 414.6 L306.8 419.2 L306.8 416.9 L306.9 416.0 L307.0 415.5 L307.0 413.2 L307.1 423.6 L307.2 419.1 L307.3 417.4 L307.3 418.9 L307.4 414.3 L307.5 423.6 L307.5 423.4 L307.6 419.2 L307.7 415.8 L307.7 422.3 L307.8 416.7 L307.9 422.8 L307.9 423.1 L308.0 425.6 L308.1 418.4 L308.2 422.4 L308.2 423.7 L308.3 413.2 L308.4 413.0 L308.4 424.3 L308.5 418.1 L308.6 416.6 L308.6 420.2 L308.7 416.5 L308.8 418.6 L308.8 418.6 L308.9 423.8 L309.0 423.7 L309.1 418.4 L309.1 419.3 L309.2 417.2 L309.3 421.5 L309.3 421.6 L309.4 418.4 L309.5 421.0 L309.5 418.7 L309.6 419.7 L309.7 419.8 L309.8 417.4 L309.8 417.7 L309.9 419.0 L310.0 423.1 L310.0 424.3 L310.1 418.2 L310.2 419.8 L310.2 418.1 L310.3 419.8 L310.4 416.3 L310.4 416.9 L310.5 419.1 L310.6 424.2 L310.7 420.7 L310.7 419.1 L310.8 419.5 L310.9 411.9 L310.9 416.5 L311.0 422.6 L311.1 419.3 L311.1 416.3 L311.2 416.0 L311.3 419.4 L311.4 419.1 L311.4 419.5 L311.5 419.6 L311.6 415.5 L311.6 416.3 L311.7 420.2 L311.8 415.6 L311.8 420.0 L311.9 422.6 L312.0 424.0 L312.0 420.8 L312.1 422.6 L312.2 416.4 L312.3 419.3 L312.3 419.9 L312.4 419.4 L312.5 420.9 L312.5 421.9 L312.6 419.0 L312.7 421.6 L312.7 419.2 L312.8 414.1 L312.9 412.7 L312.9 414.1 L313.0 414.0 L313.1 420.1 L313.2 419.1 L313.2 423.7 L313.3 420.4 L313.4 415.5 L313.4 417.9 L313.5 420.9 L313.6 417.2 L313.6 420.5 L313.7 418.0 L313.8 417.5 L313.9 417.6 L313.9 416.5 L314.0 419.9 L314.1 416.2 L314.1 418.9 L314.2 417.6 L314.3 418.6 L314.3 417.0 L314.4 419.8 L314.5 413.8 L314.5 419.1 L314.6 422.1 L314.7 422.0 L314.8 414.6 L314.8 423.9 L314.9 419.5 L315.0 416.6 L315.0 416.3 L315.1 414.2 L315.2 421.3 L315.2 414.8 L315.3 419.7 L315.4 415.2 L315.4 421.3 L315.5 417.5 L315.6 415.5 L315.7 421.8 L315.7 424.0 L315.8 419.4 L315.9 412.6 L315.9 419.4 L316.0 415.9 L316.1 416.2 L316.1 413.8 L316.2 417.9 L316.3 424.4 L316.4 422.0 L316.4 415.8 L316.5 413.1 L316.6 421.3 L316.6 416.4 L316.7 420.7 L316.8 421.3 L316.8 419.5 L316.9 420.5 L317.0 422.0 L317.0 420.9 L317.1 420.2 L317.2 420.6 L317.3 419.5 L317.3 421.3 L317.4 418.2 L317.5 427.7 L317.5 418.5 L317.6 416.5 L317.7 412.6 L317.7 424.9 L317.8 419.0 L317.9 419.3 L318.0 420.6 L318.0 417.7 L318.1 419.2 L318.2 417.3 L318.2 414.9 L318.3 414.4 L318.4 414.5 L318.4 417.2 L318.5 421.1 L318.6 418.9 L318.6 420.7 L318.7 422.3 L318.8 417.8 L318.9 416.6 L318.9 417.4 L319.0 422.5 L319.1 414.1 L319.1 418.0 L319.2 418.3 L319.3 421.1 L319.3 417.0 L319.4 420.4 L319.5 421.2 L319.5 417.0 L319.6 424.3 L319.7 418.1 L319.8 420.3 L319.8 418.6 L319.9 414.0 L320.0 422.9 L320.0 415.5 L320.1 417.7 L320.2 418.1 L320.2 415.9 L320.3 420.5 L320.4 417.6 L320.5 414.1 L320.5 422.5 L320.6 418.7 L320.7 414.1 L320.7 417.7 L320.8 421.8 L320.9 417.1 L320.9 419.8 L321.0 420.5 L321.1 420.6 L321.1 414.6 L321.2 417.5 L321.3 417.2 L321.4 420.9 L321.4 418.8 L321.5 424.5 L321.6 415.6 L321.6 420.6 L321.7 421.5 L321.8 418.5 L321.8 418.4 L321.9 416.9 L322.0 412.7 L322.1 420.3 L322.1 417.4 L322.2 419.0 L322.3 419.2 L322.3 421.8 L322.4 420.5 L322.5 416.1 L322.5 421.2 L322.6 423.7 L322.7 416.2 L322.7 420.7 L322.8 414.3 L322.9 417.9 L323.0 417.5 L323.0 425.3 L323.1 425.3 L323.2 419.8 L323.2 415.7 L323.3 417.3 L323.4 423.6 L323.4 417.2 L323.5 419.0 L323.6 417.1 L323.6 418.2 L323.7 417.1 L323.8 423.2 L323.9 416.7 L323.9 423.8 L324.0 420.3 L324.1 416.1 L324.1 421.3 L324.2 421.6 L324.3 418.5 L324.3 416.4 L324.4 415.4 L324.5 421.1 L324.6 423.6 L324.6 413.4 L324.7 420.8 L324.8 411.7 L324.8 417.4 L324.9 421.7 L325.0 411.2 L325.0 421.6 L325.1 416.2 L325.2 413.4 L325.2 421.9 L325.3 422.1 L325.4 420.0 L325.5 417.0 L325.5 415.8 L325.6 420.6 L325.7 417.1 L325.7 418.6 L325.8 415.3 L325.9 418.4 L325.9 424.5 L326.0 422.5 L326.1 416.0 L326.1 418.0 L326.2 414.9 L326.3 418.9 L326.4 414.5 L326.4 420.1 L326.5 422.1 L326.6 418.6 L326.6 421.8 L326.7 423.5 L326.8 421.3 L326.8 420.9 L326.9 411.7 L327.0 420.6 L327.1 410.2 L327.1 419.7 L327.2 416.4 L327.3 417.3 L327.3 419.4 L327.4 419.8 L327.5 418.8 L327.5 416.3 L327.6 411.4 L327.7 416.0 L327.7 418.2 L327.8 419.7 L327.9 413.7 L328.0 418.0 L328.0 413.3 L328.1 423.8 L328.2 420.0 L328.2 417.6 L328.3 414.6 L328.4 422.7 L328.4 408.9 L328.5 423.6 L328.6 420.0 L328.7 421.5 L328.7 413.6 L328.8 413.2 L328.9 416.4 L328.9 420.6 L329.0 414.2 L329.1 417.1 L329.1 411.7 L329.2 422.0 L329.3 421.4 L329.3 415.9 L329.4 420.0 L329.5 414.6 L329.6 424.1 L329.6 419.6 L329.7 414.9 L329.8 426.1 L329.8 421.5 L329.9 419.8 L330.0 419.0 L330.0 413.1 L330.1 422.8 L330.2 419.7 L330.2 421.4 L330.3 413.3 L330.4 416.2 L330.5 416.9 L330.5 417.8 L330.6 425.0 L330.7 423.2 L330.7 419.4 L330.8 416.7 L330.9 419.7 L330.9 416.2 L331.0 416.1 L331.1 422.2 L331.2 417.0 L331.2 414.5 L331.3 419.3 L331.4 417.0 L331.4 415.6 L331.5 421.0 L331.6 423.0 L331.6 420.8 L331.7 417.6 L331.8 418.5 L331.8 416.7 L331.9 416.3 L332.0 417.2 L332.1 416.7 L332.1 423.2 L332.2 423.2 L332.3 420.7 L332.3 419.2 L332.4 416.9 L332.5 423.3 L332.5 417.9 L332.6 418.2 L332.7 421.5 L332.8 416.5 L332.8 415.9 L332.9 420.8 L333.0 417.5 L333.0 418.3 L333.1 419.7 L333.2 424.3 L333.2 418.4 L333.3 422.8 L333.4 418.8 L333.4 416.8 L333.5 413.0 L333.6 419.5 L333.7 417.8 L333.7 414.3 L333.8 426.9 L333.9 414.1 L333.9 409.7 L334.0 423.0 L334.1 417.6 L334.1 419.2 L334.2 415.6 L334.3 420.7 L334.3 422.6 L334.4 419.6 L334.5 418.6 L334.6 417.6 L334.6 422.2 L334.7 421.0 L334.8 419.2 L334.8 419.4 L334.9 422.1 L335.0 420.2 L335.0 422.1 L335.1 419.2 L335.2 419.2 L335.3 418.9 L335.3 417.5 L335.4 422.4 L335.5 415.5 L335.5 418.2 L335.6 416.1 L335.7 416.3 L335.7 415.3 L335.8 416.7 L335.9 416.0 L335.9 413.7 L336.0 418.1 L336.1 415.9 L336.2 413.7 L336.2 411.4 L336.3 418.8 L336.4 416.6 L336.4 415.5 L336.5 418.9 L336.6 420.6 L336.6 418.2 L336.7 416.5 L336.8 419.3 L336.8 418.1 L336.9 413.0 L337.0 418.2 L337.1 419.6 L337.1 418.8 L337.2 412.2 L337.3 414.5 L337.3 420.1 L337.4 416.2 L337.5 423.2 L337.5 421.4 L337.6 419.5 L337.7 422.4 L337.8 415.7 L337.8 419.7 L337.9 426.0 L338.0 422.7 L338.0 422.0 L338.1 412.6 L338.2 410.4 L338.2 420.1 L338.3 419.9 L338.4 420.9 L338.4 416.7 L338.5 419.5 L338.6 419.1 L338.7 420.7 L338.7 422.8 L338.8 412.3 L338.9 417.5 L338.9 417.8 L339.0 416.7 L339.1 415.2 L339.1 424.4 L339.2 416.2 L339.3 423.3 L339.4 413.7 L339.4 420.3 L339.5 411.8 L339.6 420.0 L339.6 424.4 L339.7 414.2 L339.8 418.0 L339.8 420.6 L339.9 416.3 L340.0 421.5 L340.0 415.8 L340.1 413.4 L340.2 409.8 L340.3 413.7 L340.3 416.5 L340.4 418.8 L340.5 419.8 L340.5 420.4 L340.6 415.3 L340.7 412.5 L340.7 412.8 L340.8 420.3 L340.9 420.3 L340.9 419.0 L341.0 416.1 L341.1 415.7 L341.2 414.3 L341.2 420.9 L341.3 413.0 L341.4 416.8 L341.4 418.7 L341.5 417.9 L341.6 413.4 L341.6 416.0 L341.7 419.2 L341.8 412.1 L341.9 418.8 L341.9 419.4 L342.0 417.8 L342.1 418.7 L342.1 420.0 L342.2 414.5 L342.3 420.3 L342.3 421.4 L342.4 418.9 L342.5 416.7 L342.5 417.7 L342.6 413.6 L342.7 417.1 L342.8 415.6 L342.8 415.0 L342.9 419.5 L343.0 413.4 L343.0 421.0 L343.1 414.8 L343.2 421.2 L343.2 413.5 L343.3 421.0 L343.4 419.3 L343.5 416.7 L343.5 412.4 L343.6 421.4 L343.7 422.3 L343.7 419.8 L343.8 415.6 L343.9 419.8 L343.9 414.4 L344.0 419.1 L344.1 411.6 L344.1 420.7 L344.2 414.2 L344.3 416.2 L344.4 422.1 L344.4 419.2 L344.5 417.0 L344.6 417.3 L344.6 422.9 L344.7 420.5 L344.8 416.9 L344.8 414.0 L344.9 410.2 L345.0 418.8 L345.0 415.4 L345.1 422.8 L345.2 414.4 L345.3 415.8 L345.3 420.0 L345.4 416.2 L345.5 416.1 L345.5 419.8 L345.6 420.1 L345.7 422.2 L345.7 418.3 L345.8 420.9 L345.9 427.3 L346.0 420.7 L346.0 420.7 L346.1 419.5 L346.2 425.5 L346.2 417.9 L346.3 423.9 L346.4 414.3 L346.4 416.0 L346.5 420.9 L346.6 416.5 L346.6 419.2 L346.7 418.6 L346.8 423.2 L346.9 418.1 L346.9 413.9 L347.0 421.8 L347.1 421.2 L347.1 415.1 L347.2 421.1 L347.3 421.7 L347.3 418.5 L347.4 418.4 L347.5 415.9 L347.5 420.1 L347.6 419.1 L347.7 419.8 L347.8 422.3 L347.8 413.1 L347.9 417.9 L348.0 418.2 L348.0 415.3 L348.1 418.7 L348.2 417.6 L348.2 418.4 L348.3 415.4 L348.4 415.0 L348.5 421.3 L348.5 413.9 L348.6 422.7 L348.7 423.0 L348.7 420.0 L348.8 417.0 L348.9 414.8 L348.9 419.9 L349.0 420.7 L349.1 415.6 L349.1 421.4 L349.2 416.3 L349.3 419.6 L349.4 422.7 L349.4 411.3 L349.5 418.1 L349.6 416.8 L349.6 412.9 L349.7 417.2 L349.8 414.6 L349.8 415.3 L349.9 417.1 L350.0 420.1 L350.1 418.5 L350.1 417.8 L350.2 414.2 L350.3 418.4 L350.3 424.5 L350.4 416.8 L350.5 418.1 L350.5 426.4 L350.6 415.4 L350.7 417.5 L350.7 423.7 L350.8 424.6 L350.9 413.8 L351.0 416.8 L351.0 420.3 L351.1 415.2 L351.2 418.4 L351.2 411.9 L351.3 422.9 L351.4 420.6 L351.4 414.2 L351.5 411.3 L351.6 419.7 L351.6 417.7 L351.7 419.1 L351.8 418.3 L351.9 421.6 L351.9 418.0 L352.0 420.3 L352.1 419.1 L352.1 414.2 L352.2 417.1 L352.3 416.1 L352.3 419.8 L352.4 412.6 L352.5 416.6 L352.6 416.3 L352.6 420.3 L352.7 412.4 L352.8 423.4 L352.8 416.5 L352.9 422.2 L353.0 420.7 L353.0 420.2 L353.1 425.4 L353.2 422.7 L353.2 420.0 L353.3 418.4 L353.4 415.0 L353.5 412.7 L353.5 416.9 L353.6 415.4 L353.7 412.3 L353.7 421.9 L353.8 414.3 L353.9 416.4 L353.9 414.7 L354.0 415.3 L354.1 415.7 L354.1 422.3 L354.2 419.9 L354.3 415.0 L354.4 418.0 L354.4 416.1 L354.5 421.3 L354.6 417.7 L354.6 425.1 L354.7 420.6 L354.8 417.7 L354.8 425.5 L354.9 420.6 L355.0 415.4 L355.1 416.9 L355.1 423.7 L355.2 413.0 L355.3 424.8 L355.3 418.1 L355.4 418.0 L355.5 421.1 L355.5 426.4 L355.6 413.2 L355.7 411.0 L355.7 417.6 L355.8 420.5 L355.9 425.2 L356.0 419.6 L356.0 420.1 L356.1 423.2 L356.2 418.4 L356.2 416.4 L356.3 418.6 L356.4 414.3 L356.4 416.9 L356.5 419.2 L356.6 422.1 L356.7 414.7 L356.7 420.9 L356.8 422.4 L356.9 422.6 L356.9 417.2 L357.0 421.6 L357.1 422.4 L357.1 417.6 L357.2 416.5 L357.3 411.9 L357.3 410.9 L357.4 417.7 L357.5 414.6 L357.6 411.5 L357.6 414.3 L357.7 415.9 L357.8 414.1 L357.8 421.7 L357.9 419.0 L358.0 419.2 L358.0 422.8 L358.1 412.6 L358.2 417.0 L358.2 416.3 L358.3 415.9 L358.4 416.4 L358.5 416.0 L358.5 413.6 L358.6 421.5 L358.7 412.3 L358.7 420.0 L358.8 416.4 L358.9 418.8 L358.9 420.0 L359.0 425.3 L359.1 418.9 L359.2 418.3 L359.2 415.6 L359.3 422.3 L359.4 421.9 L359.4 416.6 L359.5 418.4 L359.6 415.8 L359.6 421.9 L359.7 421.9 L359.8 414.8 L359.8 415.1 L359.9 424.4 L360.0 414.2 L360.1 418.5 L360.1 416.1 L360.2 423.5 L360.3 414.8 L360.3 416.7 L360.4 423.0 L360.5 420.2 L360.5 421.7 L360.6 415.8 L360.7 424.1 L360.8 413.7 L360.8 412.6 L360.9 418.6 L361.0 427.0 L361.0 420.0 L361.1 420.3 L361.2 417.1 L361.2 420.4 L361.3 417.3 L361.4 413.3 L361.4 416.7 L361.5 418.2 L361.6 421.4 L361.7 418.7 L361.7 414.9 L361.8 420.1 L361.9 419.1 L361.9 412.3 L362.0 414.8 L362.1 419.9 L362.1 418.2 L362.2 417.4 L362.3 420.5 L362.3 412.7 L362.4 415.1 L362.5 418.4 L362.6 419.7 L362.6 413.6 L362.7 416.3 L362.8 416.1 L362.8 426.8 L362.9 414.6 L363.0 422.1 L363.0 422.5 L363.1 422.5 L363.2 425.1 L363.3 412.0 L363.3 422.1 L363.4 417.1 L363.5 412.2 L363.5 416.6 L363.6 419.4 L363.7 420.2 L363.7 419.0 L363.8 420.5 L363.9 422.6 L363.9 414.2 L364.0 417.9 L364.1 420.0 L364.2 417.3 L364.2 421.7 L364.3 417.6 L364.4 416.5 L364.4 423.5 L364.5 422.1 L364.6 418.2 L364.6 422.5 L364.7 418.8 L364.8 420.3 L364.8 420.1 L364.9 413.3 L365.0 422.4 L365.1 418.5 L365.1 423.4 L365.2 415.5 L365.3 419.2 L365.3 415.8 L365.4 419.7 L365.5 419.8 L365.5 420.6 L365.6 417.3 L365.7 419.6 L365.8 419.2 L365.8 416.4 L365.9 410.0 L366.0 417.7 L366.0 420.4 L366.1 415.4 L366.2 423.8 L366.2 420.4 L366.3 420.2 L366.4 412.5 L366.4 416.1 L366.5 415.4 L366.6 417.0 L366.7 420.0 L366.7 413.0 L366.8 418.8 L366.9 417.0 L366.9 417.6 L367.0 410.2 L367.1 418.0 L367.1 421.8 L367.2 420.5 L367.3 417.7 L367.4 419.8 L367.4 420.2 L367.5 419.4 L367.6 421.4 L367.6 416.5 L367.7 419.6 L367.8 421.0 L367.8 418.8 L367.9 416.1 L368.0 419.7 L368.0 420.7 L368.1 420.8 L368.2 414.5 L368.3 417.7 L368.3 419.4 L368.4 419.3 L368.5 420.2 L368.5 415.5 L368.6 413.9 L368.7 419.7 L368.7 415.5 L368.8 419.0 L368.9 416.7 L368.9 423.2 L369.0 416.2 L369.1 414.8 L369.2 417.8 L369.2 419.8 L369.3 422.2 L369.4 414.2 L369.4 418.2 L369.5 420.1 L369.6 423.7 L369.6 420.2 L369.7 419.0 L369.8 419.7 L369.9 423.1 L369.9 417.9 L370.0 410.8 L370.1 417.5 L370.1 419.1 L370.2 418.3 L370.3 415.3 L370.3 425.4 L370.4 413.5 L370.5 412.4 L370.5 418.8 L370.6 420.4 L370.7 416.2 L370.8 416.1 L370.8 421.3 L370.9 413.2 L371.0 416.2 L371.0 418.8 L371.1 422.0 L371.2 417.4 L371.2 410.0 L371.3 421.3 L371.4 422.3 L371.5 413.2 L371.5 411.4 L371.6 423.3 L371.7 427.4 L371.7 417.4 L371.8 422.4 L371.9 422.9 L371.9 416.8 L372.0 416.1 L372.1 415.2 L372.1 421.1 L372.2 416.3 L372.3 421.3 L372.4 415.8 L372.4 412.6 L372.5 421.8 L372.6 414.9 L372.6 411.0 L372.7 419.1 L372.8 416.2 L372.8 415.4 L372.9 426.0 L373.0 424.0 L373.0 412.3 L373.1 418.6 L373.2 412.7 L373.3 416.0 L373.3 421.7 L373.4 419.0 L373.5 417.0 L373.5 420.6 L373.6 418.3 L373.7 423.1 L373.7 413.4 L373.8 413.6 L373.9 414.3 L374.0 422.0 L374.0 416.9 L374.1 416.2 L374.2 414.3 L374.2 422.6 L374.3 412.3 L374.4 414.6 L374.4 420.5 L374.5 413.3 L374.6 421.5 L374.6 415.5 L374.7 419.6 L374.8 423.4 L374.9 420.6 L374.9 420.7 L375.0 419.0 L375.1 412.6 L375.1 416.1 L375.2 420.0 L375.3 410.7 L375.3 417.4 L375.4 416.2 L375.5 419.7 L375.5 424.8 L375.6 421.1 L375.7 422.5 L375.8 415.8 L375.8 423.1 L375.9 415.6 L376.0 417.1 L376.0 414.2 L376.1 423.8 L376.2 410.7 L376.2 417.8 L376.3 419.0 L376.4 421.7 L376.5 416.2 L376.5 418.8 L376.6 410.7 L376.7 423.7 L376.7 425.9 L376.8 417.8 L376.9 415.9 L376.9 420.8 L377.0 423.0 L377.1 419.0 L377.1 416.6 L377.2 416.6 L377.3 418.5 L377.4 416.2 L377.4 424.0 L377.5 419.9 L377.6 416.3 L377.6 417.0 L377.7 423.5 L377.8 414.7 L377.8 419.5 L377.9 418.8 L378.0 416.9 L378.1 416.5 L378.1 416.7 L378.2 409.0 L378.3 416.7 L378.3 424.3 L378.4 426.1 L378.5 417.3 L378.5 412.4 L378.6 408.3 L378.7 423.5 L378.7 416.5 L378.8 415.3 L378.9 423.3 L379.0 420.3 L379.0 414.5 L379.1 412.6 L379.2 422.2 L379.2 410.0 L379.3 417.9 L379.4 424.6 L379.4 414.0 L379.5 428.5 L379.6 415.1 L379.6 414.9 L379.7 424.3 L379.8 415.7 L379.9 418.3 L379.9 419.9 L380.0 418.7 L380.1 418.2 L380.1 418.0 L380.2 422.6 L380.3 420.0 L380.3 417.3 L380.4 412.1 L380.5 410.4 L380.6 421.6 L380.6 413.5 L380.7 417.6 L380.8 417.9 L380.8 420.1 L380.9 419.2 L381.0 418.4 L381.0 414.7 L381.1 420.1 L381.2 424.4 L381.2 421.8 L381.3 425.4 L381.4 419.5 L381.5 420.8 L381.5 425.7 L381.6 415.0 L381.7 415.3 L381.7 418.4 L381.8 416.5 L381.9 424.8 L381.9 410.8 L382.0 415.9 L382.1 413.6 L382.2 415.8 L382.2 417.4 L382.3 425.4 L382.4 414.7 L382.4 418.5 L382.5 421.4 L382.6 422.5 L382.6 418.1 L382.7 416.8 L382.8 417.2 L382.8 417.6 L382.9 423.9 L383.0 419.9 L383.1 416.7 L383.1 417.8 L383.2 417.3 L383.3 416.2 L383.3 417.3 L383.4 420.6 L383.5 418.5 L383.5 414.1 L383.6 419.2 L383.7 421.0 L383.7 416.1 L383.8 417.3 L383.9 417.6 L384.0 412.8 L384.0 417.3 L384.1 416.2 L384.2 421.4 L384.2 425.1 L384.3 417.1 L384.4 420.1 L384.4 423.4 L384.5 423.5 L384.6 415.5 L384.7 418.1 L384.7 413.9 L384.8 420.6 L384.9 417.6 L384.9 422.3 L385.0 417.5 L385.1 419.9 L385.1 415.3 L385.2 412.9 L385.3 421.3 L385.3 422.6 L385.4 418.9 L385.5 420.7 L385.6 414.5 L385.6 413.6 L385.7 420.6 L385.8 420.9 L385.8 419.9 L385.9 415.7 L386.0 415.9 L386.0 417.2 L386.1 415.0 L386.2 424.3 L386.2 418.2 L386.3 419.5 L386.4 426.7 L386.5 414.7 L386.5 425.7 L386.6 419.1 L386.7 423.7 L386.7 424.8 L386.8 419.1 L386.9 414.8 L386.9 415.9 L387.0 423.4 L387.1 413.1 L387.2 410.8 L387.2 414.8 L387.3 418.5 L387.4 415.0 L387.4 421.4 L387.5 416.6 L387.6 422.8 L387.6 415.8 L387.7 414.0 L387.8 417.7 L387.8 418.1 L387.9 419.0 L388.0 413.2 L388.1 417.6 L388.1 419.5 L388.2 418.3 L388.3 415.4 L388.3 417.1 L388.4 425.9 L388.5 415.7 L388.5 420.7 L388.6 419.5 L388.7 421.3 L388.8 416.3 L388.8 415.9 L388.9 421.3 L389.0 415.5 L389.0 421.0 L389.1 417.1 L389.2 417.2 L389.2 420.5 L389.3 422.7 L389.4 419.9 L389.4 415.5 L389.5 417.8 L389.6 420.2 L389.7 418.5 L389.7 418.1 L389.8 421.9 L389.9 420.7 L389.9 417.4 L390.0 417.3 L390.1 418.3 L390.1 419.2 L390.2 422.6 L390.3 411.8 L390.3 415.9 L390.4 419.1 L390.5 416.1 L390.6 415.9 L390.6 417.1 L390.7 415.3 L390.8 423.9 L390.8 416.2 L390.9 416.7 L391.0 418.0 L391.0 424.4 L391.1 412.7 L391.2 418.5 L391.3 419.1 L391.3 421.5 L391.4 423.6 L391.5 420.9 L391.5 418.2 L391.6 418.5 L391.7 418.3 L391.7 421.9 L391.8 420.6 L391.9 416.4 L391.9 418.8 L392.0 419.1 L392.1 416.9 L392.2 421.2 L392.2 421.7 L392.3 420.4 L392.4 419.7 L392.4 424.8 L392.5 425.2 L392.6 424.5 L392.6 419.0 L392.7 418.1 L392.8 415.9 L392.9 422.9 L392.9 417.8 L393.0 417.4 L393.1 419.6 L393.1 418.9 L393.2 423.6 L393.3 421.7 L393.3 418.8 L393.4 418.8 L393.5 419.4 L393.5 421.9 L393.6 419.1 L393.7 416.3 L393.8 413.8 L393.8 418.1 L393.9 420.6 L394.0 417.4 L394.0 422.9 L394.1 419.4 L394.2 423.1 L394.2 415.4 L394.3 417.4 L394.4 420.8 L394.4 416.1 L394.5 416.8 L394.6 426.7 L394.7 419.4 L394.7 422.1 L394.8 421.7 L394.9 418.4 L394.9 415.1 L395.0 414.6 L395.1 420.4 L395.1 415.9 L395.2 416.2 L395.3 416.3 L395.4 420.3 L395.4 423.3 L395.5 422.9 L395.6 420.4 L395.6 422.2 L395.7 419.9 L395.8 420.0 L395.8 425.6 L395.9 418.7 L396.0 411.0 L396.0 417.2 L396.1 411.3 L396.2 419.7 L396.3 412.9 L396.3 415.4 L396.4 420.5 L396.5 415.8 L396.5 410.9 L396.6 414.2 L396.7 420.9 L396.7 419.5 L396.8 410.9 L396.9 417.7 L396.9 412.7 L397.0 415.5 L397.1 422.2 L397.2 421.3 L397.2 421.4 L397.3 420.5 L397.4 421.4 L397.4 422.5 L397.5 424.7 L397.6 415.9 L397.6 416.1 L397.7 421.8 L397.8 418.5 L397.9 418.9 L397.9 425.3 L398.0 415.0 L398.1 417.1 L398.1 416.6 L398.2 415.8 L398.3 419.5 L398.3 416.7 L398.4 424.0 L398.5 415.5 L398.5 415.5 L398.6 419.5 L398.7 417.6 L398.8 417.6 L398.8 418.1 L398.9 411.0 L399.0 424.9 L399.0 418.1 L399.1 417.0 L399.2 416.3 L399.2 414.6 L399.3 420.7 L399.4 412.8 L399.5 418.9 L399.5 418.9 L399.6 418.9 L399.7 417.1 L399.7 420.0 L399.8 423.8 L399.9 417.7 L399.9 412.8 L400.0 420.1 L400.1 419.1 L400.1 419.3 L400.2 422.0 L400.3 412.9 L400.4 423.3 L400.4 414.6 L400.5 419.1 L400.6 416.1 L400.6 419.2 L400.7 415.6 L400.8 419.9 L400.8 416.8 L400.9 414.5 L401.0 417.1 L401.0 412.6 L401.1 412.4 L401.2 419.4 L401.3 411.5 L401.3 419.8 L401.4 415.0 L401.5 414.1 L401.5 420.4 L401.6 412.7 L401.7 419.6 L401.7 418.8 L401.8 413.3 L401.9 416.5 L402.0 416.6 L402.0 418.7 L402.1 422.2 L402.2 414.6 L402.2 420.4 L402.3 417.9 L402.4 415.3 L402.4 421.9 L402.5 416.3 L402.6 417.6 L402.6 419.3 L402.7 413.0 L402.8 416.6 L402.9 421.0 L402.9 419.4 L403.0 421.5 L403.1 417.8 L403.1 419.2 L403.2 418.9 L403.3 412.3 L403.3 417.4 L403.4 415.7 L403.5 417.8 L403.6 420.1 L403.6 419.1 L403.7 419.1 L403.8 419.1 L403.8 415.0 L403.9 417.7 L404.0 417.8 L404.0 418.7 L404.1 419.7 L404.2 422.1 L404.2 421.0 L404.3 412.9 L404.4 413.8 L404.5 417.7 L404.5 414.0 L404.6 419.6 L404.7 410.3 L404.7 422.9 L404.8 420.6 L404.9 418.3 L404.9 417.6 L405.0 412.7 L405.1 418.8 L405.1 417.1 L405.2 422.8 L405.3 416.2 L405.4 422.9 L405.4 416.5 L405.5 413.0 L405.6 419.0 L405.6 415.8 L405.7 423.8 L405.8 412.9 L405.8 418.6 L405.9 418.7 L406.0 412.7 L406.1 417.5 L406.1 419.0 L406.2 419.0 L406.3 423.9 L406.3 414.5 L406.4 421.3 L406.5 420.5 L406.5 421.4 L406.6 419.4 L406.7 417.3 L406.7 415.8 L406.8 416.2 L406.9 417.2 L407.0 418.7 L407.0 418.6 L407.1 419.7 L407.2 419.0 L407.2 420.6 L407.3 421.2 L407.4 419.2 L407.4 420.5 L407.5 417.4 L407.6 414.3 L407.6 421.8 L407.7 419.0 L407.8 415.4 L407.9 419.8 L407.9 417.5 L408.0 412.7 L408.1 424.3 L408.1 423.0 L408.2 417.5 L408.3 419.9 L408.3 419.6 L408.4 419.4 L408.5 419.0 L408.6 421.6 L408.6 418.1 L408.7 414.4 L408.8 411.8 L408.8 413.7 L408.9 420.8 L409.0 417.6 L409.0 417.3 L409.1 417.7 L409.2 417.6 L409.2 417.2 L409.3 417.8 L409.4 417.7 L409.5 416.5 L409.5 420.4 L409.6 417.5 L409.7 425.9 L409.7 419.2 L409.8 416.5 L409.9 421.3 L409.9 418.8 L410.0 416.0 L410.1 423.0 L410.2 422.5 L410.2 416.4 L410.3 421.9 L410.4 420.3 L410.4 418.1 L410.5 414.9 L410.6 417.3 L410.6 419.2 L410.7 415.2 L410.8 417.3 L410.8 418.3 L410.9 420.2 L411.0 417.4 L411.1 409.3 L411.1 421.9 L411.2 421.0 L411.3 418.2 L411.3 418.8 L411.4 419.3 L411.5 418.2 L411.5 412.0 L411.6 419.6 L411.7 421.9 L411.7 421.1 L411.8 420.2 L411.9 415.6 L412.0 418.5 L412.0 414.1 L412.1 416.5 L412.2 422.7 L412.2 420.5 L412.3 416.8 L412.4 423.1 L412.4 415.2 L412.5 416.9 L412.6 420.0 L412.7 413.9 L412.7 413.3 L412.8 421.6 L412.9 418.4 L412.9 420.0 L413.0 414.9 L413.1 418.4 L413.1 414.2 L413.2 423.2 L413.3 416.2 L413.3 417.3 L413.4 416.8 L413.5 420.4 L413.6 422.9 L413.6 422.1 L413.7 417.3 L413.8 419.5 L413.8 423.1 L413.9 420.2 L414.0 418.9 L414.0 422.2 L414.1 418.6 L414.2 417.8 L414.3 418.3 L414.3 417.2 L414.4 418.9 L414.5 420.2 L414.5 420.1 L414.6 413.9 L414.7 423.4 L414.7 418.5 L414.8 411.0 L414.9 421.8 L414.9 413.4 L415.0 421.9 L415.1 416.7 L415.2 414.0 L415.2 417.5 L415.3 418.0 L415.4 420.6 L415.4 422.0 L415.5 416.7 L415.6 423.7 L415.6 417.9 L415.7 421.3 L415.8 422.9 L415.8 419.7 L415.9 420.7 L416.0 426.4 L416.1 424.8 L416.1 419.3 L416.2 412.3 L416.3 420.5 L416.3 420.8 L416.4 419.3 L416.5 418.3 L416.5 416.9 L416.6 417.3 L416.7 417.7 L416.8 421.0 L416.8 417.6 L416.9 416.4 L417.0 422.8 L417.0 415.6 L417.1 421.2 L417.2 413.8 L417.2 415.0 L417.3 416.5 L417.4 413.5 L417.4 417.9 L417.5 419.8 L417.6 417.8 L417.7 417.0 L417.7 416.8 L417.8 413.8 L417.9 416.0 L417.9 415.7 L418.0 428.0 L418.1 417.7 L418.1 414.5 L418.2 418.2 L418.3 424.9 L418.3 418.6 L418.4 417.9 L418.5 419.9 L418.6 414.6 L418.6 419.7 L418.7 420.9 L418.8 418.1 L418.8 417.6 L418.9 419.4 L419.0 418.7 L419.0 418.0 L419.1 414.6 L419.2 416.9 L419.3 419.0 L419.3 419.8 L419.4 420.7 L419.5 414.7 L419.5 415.7 L419.6 411.2 L419.7 417.2 L419.7 421.1 L419.8 419.7 L419.9 423.2 L419.9 420.2 L420.0 417.3 L420.1 416.9 L420.2 419.4 L420.2 415.6 L420.3 416.9 L420.4 417.6 L420.4 418.8 L420.5 422.2 L420.6 418.8 L420.6 422.5 L420.7 415.7 L420.8 422.4 L420.9 414.7 L420.9 419.6 L421.0 419.5 L421.1 415.7 L421.1 419.5 L421.2 415.7 L421.3 417.5 L421.3 414.6 L421.4 418.4 L421.5 420.5 L421.5 411.7 L421.6 420.6 L421.7 417.1 L421.8 421.8 L421.8 414.3 L421.9 417.1 L422.0 419.8 L422.0 418.5 L422.1 419.6 L422.2 418.0 L422.2 422.0 L422.3 414.7 L422.4 419.6 L422.4 419.0 L422.5 418.3 L422.6 412.5 L422.7 421.0 L422.7 421.3 L422.8 417.4 L422.9 415.9 L422.9 420.6 L423.0 418.2 L423.1 417.3 L423.1 414.5 L423.2 410.8 L423.3 424.4 L423.4 420.7 L423.4 416.3 L423.5 417.2 L423.6 423.5" fill="none" stroke="#0072bd" stroke-width="0.7" stroke-linejoin="round"/>
<path d="M93.6 415.4 L96.4 415.4 L99.2 415.4 L101.9 415.4 L104.7 415.4 L107.5 415.4 L110.3 415.4 L113.1 415.4 L115.8 415.4 L118.6 415.4 L121.4 415.4 L124.2 415.4 L127.0 415.4 L129.7 415.4 L132.5 415.4 L135.3 415.3 L138.1 415.3 L140.8 415.0 L143.6 413.9 L146.4 414.2 L149.2 415.0 L152.0 415.1 L154.7 415.0 L157.5 414.9 L160.3 414.8 L163.1 414.7 L165.9 414.6 L168.6 414.6 L171.4 414.5 L174.2 414.5 L177.0 414.5 L179.8 414.5 L182.5 414.6 L185.3 414.7 L188.1 414.8 L190.9 414.8 L193.7 414.9 L196.4 415.0 L199.2 415.1 L202.0 415.2 L204.8 415.2 L207.5 415.3 L210.3 415.3 L213.1 415.3 L215.9 415.4 L218.7 415.4 L221.4 415.4 L224.2 415.4 L227.0 415.4 L229.8 415.4 L232.6 415.4 L235.3 415.4 L238.1 415.4 L240.9 415.4 L243.7 415.4 L246.5 415.4 L249.2 415.4 L252.0 415.4 L254.8 415.4 L257.6 415.4 L260.4 415.4 L263.1 415.4 L265.9 415.4 L268.7 415.3 L271.5 415.3 L274.2 415.3 L277.0 415.3 L279.8 415.3 L282.6 415.2 L285.4 415.2 L288.1 415.1 L290.9 415.1 L293.7 415.0 L296.5 414.9 L299.3 414.8 L302.0 414.7 L304.8 414.6 L307.6 414.5 L310.4 414.4 L313.2 414.3 L315.9 414.1 L318.7 414.0 L321.5 413.9 L324.3 413.7 L327.1 413.6 L329.8 413.5 L332.6 413.3 L335.4 413.2 L338.2 413.1 L340.9 413.1 L343.7 413.0 L346.5 413.0 L349.3 413.0 L352.1 413.0 L354.8 413.1 L357.6 413.1 L360.4 413.2 L363.2 413.3 L366.0 413.4 L368.7 413.5 L371.5 413.7 L374.3 412.6 L377.1 412.7 L379.9 412.9 L382.6 413.0 L385.4 413.2 L388.2 413.3 L391.0 413.4 L393.8 413.5 L396.5 413.6 L399.3 413.7 L402.1 413.8 L404.9 413.9 L407.6 413.9 L410.4 414.0 L413.2 414.0 L416.0 414.1 L418.8 414.1 L421.5 414.1 L421.5 422.7 L418.8 422.7 L416.0 422.7 L413.2 422.8 L410.4 422.8 L407.6 422.9 L404.9 422.9 L402.1 423.0 L399.3 423.1 L396.5 423.2 L393.8 423.3 L391.0 423.4 L388.2 423.5 L385.4 423.6 L382.6 423.8 L379.9 423.9 L377.1 424.1 L374.3 424.2 L371.5 423.1 L368.7 423.3 L366.0 423.4 L363.2 423.5 L360.4 423.6 L357.6 423.7 L354.8 423.7 L352.1 423.8 L349.3 423.8 L346.5 423.8 L343.7 423.8 L340.9 423.7 L338.2 423.7 L335.4 423.6 L332.6 423.5 L329.8 423.3 L327.1 423.2 L324.3 423.1 L321.5 422.9 L318.7 422.8 L315.9 422.7 L313.2 422.5 L310.4 422.4 L307.6 422.3 L304.8 422.2 L302.0 422.1 L299.3 422.0 L296.5 421.9 L293.7 421.8 L290.9 421.7 L288.1 421.7 L285.4 421.6 L282.6 421.6 L279.8 421.5 L277.0 421.5 L274.2 421.5 L271.5 421.5 L268.7 421.5 L265.9 421.4 L263.1 421.4 L260.4 421.4 L257.6 421.4 L254.8 421.4 L252.0 421.4 L249.2 421.4 L246.5 421.4 L243.7 421.4 L240.9 421.4 L238.1 421.4 L235.3 421.4 L232.6 421.4 L229.8 421.4 L227.0 421.4 L224.2 421.4 L221.4 421.4 L218.7 421.4 L215.9 421.4 L213.1 421.5 L210.3 421.5 L207.5 421.5 L204.8 421.6 L202.0 421.6 L199.2 421.7 L196.4 421.8 L193.7 421.9 L190.9 422.0 L188.1 422.0 L185.3 422.1 L182.5 422.2 L179.8 422.3 L177.0 422.3 L174.2 422.3 L171.4 422.3 L168.6 422.2 L165.9 422.2 L163.1 422.1 L160.3 422.0 L157.5 421.9 L154.7 421.8 L152.0 421.7 L149.2 421.8 L146.4 422.6 L143.6 422.9 L140.8 421.8 L138.1 421.5 L135.3 421.5 L132.5 421.4 L129.7 421.4 L127.0 421.4 L124.2 421.4 L121.4 421.4 L118.6 421.4 L115.8 421.4 L113.1 421.4 L110.3 421.4 L107.5 421.4 L104.7 421.4 L101.9 421.4 L99.2 421.4 L96.4 421.4 L93.6 421.4" fill="#0072bd" stroke="none" stroke-width="0" stroke-linejoin="round"/>
<rect x="93.6" y="395.3" width="330.1" height="46.2" fill="none" stroke="#4a4a4a" stroke-width="1"/>
<text x="90.2" y="399.3" font-size="11.2" text-anchor="end" fill="#262626">20</text>
<text x="90.2" y="422.4" font-size="11.2" text-anchor="end" fill="#262626">0</text>
<text x="90.2" y="445.5" font-size="11.2" text-anchor="end" fill="#262626">-20</text>
<text x="41" y="418.4" font-size="12.6" text-anchor="middle" font-weight="bold" fill="#1a1a1a" transform="rotate(-90 41 418.4)">SKNA</text>
<text x="55.6" y="418.4" font-size="12.6" text-anchor="middle" font-weight="bold" fill="#1a1a1a" transform="rotate(-90 55.6 418.4)">(μV)</text>
<path d="M93.6 485.3 L94.0 486.2 L94.4 486.3 L94.9 486.8 L95.3 485.5 L95.7 487.5 L96.1 488.9 L96.5 488.7 L97.0 489.8 L97.4 489.8 L97.8 491.5 L98.2 492.6 L98.6 489.5 L99.1 491.5 L99.5 489.7 L99.9 489.9 L100.3 490.9 L100.7 490.4 L101.2 491.2 L101.6 491.8 L102.0 491.5 L102.4 491.3 L102.8 491.1 L103.3 493.7 L103.7 492.9 L104.1 492.9 L104.5 492.3 L104.9 493.0 L105.4 492.2 L105.8 491.1 L106.2 492.1 L106.6 491.5 L107.0 495.0 L107.5 494.7 L107.9 492.3 L108.3 494.0 L108.7 490.3 L109.1 496.0 L109.6 490.9 L110.0 490.3 L110.4 494.7 L110.8 493.0 L111.2 492.2 L111.7 494.0 L112.1 491.8 L112.5 491.6 L112.9 492.0 L113.3 492.8 L113.8 491.6 L114.2 489.8 L114.6 493.4 L115.0 493.1 L115.4 493.9 L115.9 493.2 L116.3 494.1 L116.7 491.4 L117.1 492.9 L117.5 491.1 L118.0 491.5 L118.4 491.9 L118.8 494.9 L119.2 492.1 L119.6 493.9 L120.1 493.9 L120.5 494.1 L120.9 490.7 L121.3 492.8 L121.7 494.9 L122.2 490.8 L122.6 491.4 L123.0 490.4 L123.4 493.6 L123.8 496.5 L124.3 493.2 L124.7 491.2 L125.1 491.2 L125.5 495.5 L125.9 494.2 L126.4 496.8 L126.8 492.9 L127.2 496.7 L127.6 495.5 L128.0 495.7 L128.5 493.5 L128.9 496.6 L129.3 494.3 L129.7 493.5 L130.1 491.2 L130.6 494.4 L131.0 493.8 L131.4 491.1 L131.8 492.5 L132.2 494.7 L132.7 495.5 L133.1 491.4 L133.5 494.2 L133.9 493.6 L134.3 493.8 L134.8 493.1 L135.2 491.7 L135.6 494.4 L136.0 491.8 L136.4 491.0 L136.9 496.1 L137.3 491.1 L137.7 491.6 L138.1 489.2 L138.5 490.2 L139.0 488.5 L139.4 489.3 L139.8 490.3 L140.2 489.5 L140.6 488.8 L141.1 487.1 L141.5 483.9 L141.9 482.9 L142.3 482.1 L142.7 478.3 L143.2 478.4 L143.6 471.8 L144.0 475.3 L144.4 474.9 L144.8 475.8 L145.3 476.2 L145.7 478.2 L146.1 480.3 L146.5 481.4 L146.9 481.2 L147.4 482.1 L147.8 486.3 L148.2 485.1 L148.6 487.9 L149.0 488.0 L149.5 490.2 L149.9 491.1 L150.3 489.0 L150.7 492.1 L151.1 491.3 L151.6 490.5 L152.0 493.4 L152.4 494.7 L152.8 494.6 L153.2 493.3 L153.7 493.7 L154.1 494.0 L154.5 495.1 L154.9 492.6 L155.3 493.0 L155.8 493.8 L156.2 495.1 L156.6 492.7 L157.0 493.6 L157.4 495.0 L157.9 492.5 L158.3 491.2 L158.7 494.4 L159.1 494.0 L159.5 494.6 L160.0 491.6 L160.4 493.9 L160.8 493.8 L161.2 493.2 L161.6 493.0 L162.1 492.4 L162.5 492.1 L162.9 489.3 L163.3 493.4 L163.7 488.6 L164.2 492.8 L164.6 488.6 L165.0 490.0 L165.4 490.9 L165.8 488.7 L166.3 490.5 L166.7 484.9 L167.1 485.5 L167.5 491.6 L167.9 486.0 L168.4 488.8 L168.8 488.0 L169.2 488.4 L169.6 488.2 L170.0 487.1 L170.5 490.4 L170.9 493.3 L171.3 490.9 L171.7 490.6 L172.1 490.5 L172.6 487.8 L173.0 488.2 L173.4 485.0 L173.8 490.6 L174.2 488.5 L174.7 486.8 L175.1 487.9 L175.5 488.6 L175.9 486.9 L176.3 487.4 L176.8 483.8 L177.2 484.8 L177.6 485.1 L178.0 483.6 L178.4 482.2 L178.9 484.5 L179.3 486.9 L179.7 484.9 L180.1 489.2 L180.5 487.4 L181.0 487.6 L181.4 488.3 L181.8 489.9 L182.2 491.5 L182.6 491.5 L183.1 491.3 L183.5 493.1 L183.9 490.5 L184.3 492.0 L184.7 488.6 L185.2 492.2 L185.6 489.7 L186.0 491.7 L186.4 491.2 L186.8 488.1 L187.3 492.2 L187.7 491.7 L188.1 489.7 L188.5 490.1 L188.9 492.9 L189.4 492.2 L189.8 492.5 L190.2 491.1 L190.6 493.9 L191.0 496.7 L191.5 490.7 L191.9 495.8 L192.3 492.1 L192.7 493.6 L193.1 491.5 L193.6 492.6 L194.0 492.4 L194.4 492.2 L194.8 493.8 L195.2 492.5 L195.7 492.7 L196.1 491.9 L196.5 492.1 L196.9 492.0 L197.3 492.1 L197.8 490.7 L198.2 492.8 L198.6 492.7 L199.0 492.5 L199.4 497.4 L199.9 489.7 L200.3 494.7 L200.7 492.6 L201.1 492.2 L201.5 492.6 L202.0 495.1 L202.4 492.3 L202.8 494.4 L203.2 491.9 L203.6 494.2 L204.1 494.9 L204.5 494.0 L204.9 494.8 L205.3 492.7 L205.7 494.1 L206.2 492.6 L206.6 495.3 L207.0 495.2 L207.4 493.7 L207.8 493.5 L208.3 494.9 L208.7 492.2 L209.1 494.1 L209.5 495.6 L209.9 495.4 L210.4 495.4 L210.8 494.1 L211.2 495.2 L211.6 494.9 L212.0 492.0 L212.5 494.9 L212.9 496.6 L213.3 494.9 L213.7 493.9 L214.1 495.9 L214.6 492.6 L215.0 493.3 L215.4 497.9 L215.8 494.3 L216.2 493.3 L216.7 494.0 L217.1 494.2 L217.5 494.2 L217.9 494.1 L218.3 493.7 L218.8 491.3 L219.2 494.7 L219.6 492.3 L220.0 493.2 L220.4 494.5 L220.9 496.4 L221.3 496.5 L221.7 496.0 L222.1 497.3 L222.5 493.7 L223.0 495.8 L223.4 496.1 L223.8 494.0 L224.2 495.5 L224.6 494.5 L225.1 495.5 L225.5 495.1 L225.9 497.1 L226.3 492.6 L226.7 495.1 L227.2 495.0 L227.6 492.7 L228.0 494.0 L228.4 496.4 L228.8 495.8 L229.3 494.4 L229.7 495.7 L230.1 496.9 L230.5 495.2 L230.9 495.9 L231.4 495.3 L231.8 497.0 L232.2 496.3 L232.6 495.8 L233.0 493.7 L233.5 494.8 L233.9 497.2 L234.3 495.8 L234.7 498.3 L235.1 495.9 L235.6 496.2 L236.0 498.7 L236.4 497.6 L236.8 496.1 L237.2 497.4 L237.7 498.0 L238.1 497.6 L238.5 495.7 L238.9 495.7 L239.3 497.9 L239.8 497.0 L240.2 496.4 L240.6 496.4 L241.0 500.4 L241.4 497.7 L241.9 496.0 L242.3 495.8 L242.7 496.5 L243.1 500.5 L243.5 499.0 L244.0 496.3 L244.4 498.5 L244.8 498.5 L245.2 498.1 L245.6 497.7 L246.1 497.8 L246.5 497.2 L246.9 497.8 L247.3 497.3 L247.7 495.4 L248.2 498.2 L248.6 495.0 L249.0 498.0 L249.4 497.0 L249.8 499.4 L250.3 498.9 L250.7 497.1 L251.1 498.8 L251.5 497.4 L251.9 498.2 L252.4 498.1 L252.8 498.6 L253.2 495.6 L253.6 497.0 L254.0 499.8 L254.5 496.2 L254.9 497.3 L255.3 496.8 L255.7 499.6 L256.1 497.5 L256.6 497.5 L257.0 494.1 L257.4 496.4 L257.8 499.4 L258.2 496.7 L258.7 495.8 L259.1 497.5 L259.5 496.1 L259.9 494.9 L260.3 497.0 L260.8 498.2 L261.2 496.0 L261.6 495.6 L262.0 496.7 L262.4 495.1 L262.9 496.2 L263.3 496.5 L263.7 497.3 L264.1 495.6 L264.5 497.3 L265.0 496.7 L265.4 496.1 L265.8 495.8 L266.2 493.5 L266.6 494.2 L267.1 494.3 L267.5 494.5 L267.9 490.6 L268.3 493.8 L268.7 494.9 L269.2 494.3 L269.6 494.8 L270.0 494.1 L270.4 492.4 L270.8 496.1 L271.3 494.8 L271.7 494.1 L272.1 494.4 L272.5 491.9 L272.9 495.3 L273.4 493.0 L273.8 492.7 L274.2 492.2 L274.6 493.0 L275.0 493.2 L275.5 491.6 L275.9 491.0 L276.3 489.1 L276.7 494.1 L277.1 491.9 L277.6 491.9 L278.0 492.7 L278.4 491.9 L278.8 492.5 L279.2 493.2 L279.7 491.6 L280.1 491.3 L280.5 494.0 L280.9 491.5 L281.3 492.0 L281.8 492.4 L282.2 492.4 L282.6 488.4 L283.0 493.4 L283.4 491.7 L283.9 492.3 L284.3 493.3 L284.7 492.7 L285.1 493.6 L285.5 491.9 L286.0 492.7 L286.4 492.4 L286.8 492.7 L287.2 491.4 L287.6 493.2 L288.1 495.0 L288.5 492.7 L288.9 493.5 L289.3 493.4 L289.7 492.1 L290.2 493.4 L290.6 494.4 L291.0 492.3 L291.4 488.4 L291.8 492.0 L292.3 494.9 L292.7 492.2 L293.1 493.7 L293.5 492.7 L293.9 492.8 L294.4 493.5 L294.8 489.2 L295.2 492.2 L295.6 492.4 L296.0 490.9 L296.5 491.0 L296.9 492.8 L297.3 490.8 L297.7 491.3 L298.1 490.6 L298.6 491.5 L299.0 492.2 L299.4 489.4 L299.8 490.1 L300.2 489.0 L300.7 489.4 L301.1 489.1 L301.5 489.0 L301.9 489.4 L302.3 487.9 L302.8 488.0 L303.2 488.5 L303.6 487.1 L304.0 487.4 L304.4 484.4 L304.9 484.4 L305.3 484.9 L305.7 484.1 L306.1 483.4 L306.5 485.4 L307.0 486.7 L307.4 481.4 L307.8 485.4 L308.2 483.8 L308.6 484.8 L309.1 486.6 L309.5 485.8 L309.9 485.1 L310.3 486.7 L310.7 484.1 L311.2 484.7 L311.6 488.8 L312.0 486.8 L312.4 487.4 L312.8 485.3 L313.3 488.2 L313.7 485.1 L314.1 486.9 L314.5 484.0 L314.9 485.0 L315.4 483.2 L315.8 486.2 L316.2 485.4 L316.6 485.1 L317.0 484.5 L317.5 486.5 L317.9 484.9 L318.3 483.0 L318.7 485.5 L319.1 485.4 L319.6 481.9 L320.0 483.2 L320.4 481.5 L320.8 482.3 L321.2 484.4 L321.7 483.5 L322.1 484.3 L322.5 481.3 L322.9 483.3 L323.3 482.7 L323.8 483.2 L324.2 482.2 L324.6 484.3 L325.0 482.5 L325.4 484.1 L325.9 481.1 L326.3 482.1 L326.7 482.4 L327.1 481.4 L327.5 480.9 L328.0 484.4 L328.4 481.1 L328.8 482.4 L329.2 482.8 L329.6 482.9 L330.1 484.4 L330.5 481.8 L330.9 482.6 L331.3 482.3 L331.7 482.1 L332.2 483.8 L332.6 482.4 L333.0 481.3 L333.4 482.1 L333.8 479.5 L334.3 480.5 L334.7 481.5 L335.1 481.6 L335.5 480.8 L335.9 480.6 L336.4 478.0 L336.8 484.2 L337.2 480.6 L337.6 477.7 L338.0 481.2 L338.5 479.4 L338.9 480.5 L339.3 479.4 L339.7 480.9 L340.1 475.9 L340.6 478.4 L341.0 478.0 L341.4 480.8 L341.8 480.9 L342.2 479.8 L342.7 481.9 L343.1 478.6 L343.5 478.9 L343.9 481.3 L344.3 478.8 L344.8 477.5 L345.2 477.7 L345.6 473.6 L346.0 472.4 L346.4 468.3 L346.9 467.4 L347.3 465.7 L347.7 462.6 L348.1 465.9 L348.5 467.9 L349.0 470.4 L349.4 468.1 L349.8 470.7 L350.2 467.9 L350.6 469.4 L351.1 465.7 L351.5 467.6 L351.9 473.6 L352.3 471.0 L352.7 471.4 L353.2 472.7 L353.6 472.3 L354.0 474.9 L354.4 477.0 L354.8 476.8 L355.3 477.3 L355.7 481.0 L356.1 482.3 L356.5 482.9 L356.9 484.0 L357.4 484.9 L357.8 487.4 L358.2 485.6 L358.6 485.0 L359.0 483.5 L359.5 484.6 L359.9 487.0 L360.3 485.3 L360.7 485.0 L361.1 483.3 L361.6 484.1 L362.0 483.1 L362.4 485.3 L362.8 482.7 L363.2 482.3 L363.7 479.8 L364.1 478.1 L364.5 473.3 L364.9 474.8 L365.3 471.1 L365.8 469.9 L366.2 466.4 L366.6 464.5 L367.0 469.5 L367.4 470.0 L367.9 472.6 L368.3 476.7 L368.7 480.3 L369.1 479.9 L369.5 484.2 L370.0 485.9 L370.4 486.8 L370.8 490.4 L371.2 488.2 L371.6 487.1 L372.1 487.5 L372.5 487.0 L372.9 486.7 L373.3 484.9 L373.7 485.5 L374.2 483.4 L374.6 484.6 L375.0 486.7 L375.4 482.9 L375.8 482.2 L376.3 483.7 L376.7 480.8 L377.1 484.6 L377.5 482.9 L377.9 483.2 L378.4 482.3 L378.8 481.8 L379.2 481.9 L379.6 480.5 L380.0 478.5 L380.5 479.5 L380.9 479.2 L381.3 480.2 L381.7 481.2 L382.1 479.2 L382.6 481.4 L383.0 481.7 L383.4 483.7 L383.8 481.1 L384.2 485.5 L384.7 481.6 L385.1 483.5 L385.5 485.7 L385.9 482.1 L386.3 483.0 L386.8 482.2 L387.2 481.6 L387.6 482.6 L388.0 480.7 L388.4 482.0 L388.9 481.6 L389.3 480.3 L389.7 479.3 L390.1 479.6 L390.5 482.2 L391.0 484.1 L391.4 482.2 L391.8 479.6 L392.2 479.0 L392.6 479.1 L393.1 479.6 L393.5 476.5 L393.9 478.8 L394.3 479.6 L394.7 479.4 L395.2 481.2 L395.6 481.9 L396.0 481.9 L396.4 483.7 L396.8 483.3 L397.3 482.1 L397.7 485.2 L398.1 481.5 L398.5 483.6 L398.9 484.3 L399.4 485.3 L399.8 484.0 L400.2 486.3 L400.6 485.8 L401.0 485.2 L401.5 488.0 L401.9 485.2 L402.3 485.6 L402.7 487.9 L403.1 490.1 L403.6 487.4 L404.0 485.3 L404.4 488.4 L404.8 485.1 L405.2 488.0 L405.7 487.7 L406.1 485.5 L406.5 488.3 L406.9 483.5 L407.3 482.7 L407.8 486.5 L408.2 485.0 L408.6 486.1 L409.0 486.9 L409.4 483.9 L409.9 484.3 L410.3 483.9 L410.7 484.8 L411.1 485.5 L411.5 484.2 L412.0 482.7 L412.4 481.8 L412.8 483.1 L413.2 480.4 L413.6 483.6 L414.1 483.1 L414.5 481.9 L414.9 480.2 L415.3 479.0 L415.7 480.6 L416.2 482.0 L416.6 482.2 L417.0 479.6 L417.4 478.6 L417.8 480.6 L418.3 478.8 L418.7 478.4 L419.1 483.7 L419.5 482.6 L419.9 482.2 L420.4 484.6 L420.8 485.9 L421.2 481.2 L421.6 481.6 L422.0 481.9 L422.5 484.2 L422.9 483.2 L423.3 481.5" fill="none" stroke="#1a7fc4" stroke-width="0.75" stroke-linejoin="round"/>
<rect x="93.6" y="460.4" width="330.1" height="43.6" fill="none" stroke="#4a4a4a" stroke-width="1"/>
<text x="90.2" y="464.4" font-size="11.2" text-anchor="end" fill="#262626">0.25</text>
<text x="90.2" y="508.0" font-size="11.2" text-anchor="end" fill="#262626">0.05</text>
<text x="41" y="482.2" font-size="12.6" text-anchor="middle" font-weight="bold" fill="#1a1a1a" transform="rotate(-90 41 482.2)">iSKNA</text>
<text x="55.6" y="482.2" font-size="12.6" text-anchor="middle" font-weight="bold" fill="#1a1a1a" transform="rotate(-90 55.6 482.2)">(μV·s)</text>
<path d="M209.4 460.4 v3 M209.4 504.0 v-3" stroke="#4a4a4a" stroke-width="1"/>
<path d="M325.2 460.4 v3 M325.2 504.0 v-3" stroke="#4a4a4a" stroke-width="1"/>
<text x="93.6" y="518" font-size="11.2" text-anchor="middle" fill="#262626">0</text>
<text x="209.39999999999998" y="518" font-size="11.2" text-anchor="middle" fill="#262626">20</text>
<text x="325.2" y="518" font-size="11.2" text-anchor="middle" fill="#262626">40</text>
<text x="423.63" y="518" font-size="11.2" text-anchor="middle" fill="#262626">57</text>
<text x="262.8" y="535.4" font-size="14.2" text-anchor="middle" font-weight="bold" fill="#111">Time (s)</text>
<path d="M144.5 257.8 V478" stroke="#5f9a30" stroke-width="1.3" stroke-dasharray="4 2.7" fill="none"/>
<path d="M371 257.8 V490" stroke="#5f9a30" stroke-width="1.3" stroke-dasharray="4 2.7" fill="none"/>
<text x="486.2" y="20.4" font-size="22" text-anchor="start" fill="#000">c</text>
<defs>
<g id="pl"><path d="M0 0 L-14 29.6 L-2.4 26.6 L-2.4 6 Z M0 0 L14 29.6 L2.4 26.6 L2.4 6 Z" fill="#e8611a" stroke="#6a2a0c" stroke-width="0.8" stroke-linejoin="round"/><path d="M-8.3 17.6 L-2.4 16.6 L-2.4 25 L-12.2 26.4 Z M8.3 17.6 L2.4 16.6 L2.4 25 L12.2 26.4 Z" fill="#f9c806"/><path d="M-8.3 17.6 L-2.4 16.6 M-12.2 26.4 L-2.4 25 M8.3 17.6 L2.4 16.6 M12.2 26.4 L2.4 25" stroke="#7a3a10" stroke-width="0.6" fill="none"/><path d="M0 0.5 L-2.7 17 L-2.3 27.2 L0 31.8 L2.3 27.2 L2.7 17 Z" fill="#a3a48c" stroke="#2a2418" stroke-width="0.8" stroke-linejoin="round"/><path d="M0 1 L-1.6 12 L0 13.5 L1.6 12 Z" fill="#3a2a1c"/><path d="M0 13 V30.5" stroke="#55563f" stroke-width="0.7"/></g>
<g id="plf"><path d="M0 0 L-14 29.6 L-2.4 26.6 L-2.4 6 Z M0 0 L14 29.6 L2.4 26.6 L2.4 6 Z" fill="#f6dacf" stroke="#e9cdc4" stroke-width="0.8" stroke-linejoin="round"/><path d="M-8.3 17.6 L-2.4 16.6 L-2.4 25 L-12.2 26.4 Z M8.3 17.6 L2.4 16.6 L2.4 25 L12.2 26.4 Z" fill="#fcefbf"/><path d="M0 0.5 L-2.7 17 L-2.3 27.2 L0 31.8 L2.3 27.2 L2.7 17 Z" fill="#e9e9e5" stroke="#dcd9d4" stroke-width="0.8" stroke-linejoin="round"/><path d="M0 1 L-1.4 11 L0 12.5 L1.4 11 Z" fill="#ddd6d0"/><path d="M0 13 V30.5" stroke="#f4f4f2" stroke-width="0.8"/></g>
<g id="as"><path d="M21.8 -2.1 H0.7 V2.1 H21.8" fill="#fff" stroke="#0d8a10" stroke-width="1.35"/><path d="M13.2 -6.0 L26.4 0 L13.2 6.0" fill="none" stroke="#0d8a10" stroke-width="2.3" stroke-linejoin="miter" stroke-miterlimit="10"/></g>
<g id="ad"><path d="M0.9 -2.7 V2.7 M3.4 -2.0 H8.6 M3.4 2.0 H8.6 M10.6 -2.0 H15.8 M10.6 2.0 H15.8 M17.8 -2.0 H21.8 M17.8 2.0 H21.8" stroke="#0d8a10" stroke-width="1.7" fill="none"/><path d="M13.2 -6.0 L17.6 -4.0 M19.6 -3.1 L26.4 0 L19.6 3.1 M13.2 6.0 L17.6 4.0" stroke="#0d8a10" stroke-width="2.3" fill="none" stroke-linejoin="miter" stroke-miterlimit="10"/></g>
<g id="vs"><path d="M13.4 -1.9 H0.7 V1.9 H13.4" fill="#fff" stroke="#0d8a10" stroke-width="1.35"/><path d="M4.6 -5.6 L18.2 0 L4.6 5.6" fill="none" stroke="#0d8a10" stroke-width="2.2" stroke-linejoin="miter" stroke-miterlimit="10"/></g>
<g id="vd"><path d="M0.8 -2.5 V2.5 M3.0 -1.9 H6.6 M3.0 1.9 H6.6 M8.6 -1.9 H12.6 M8.6 1.9 H12.6" stroke="#0d8a10" stroke-width="1.7" fill="none"/><path d="M4.6 -5.6 L8.6 -3.95 M10.6 -3.1 L18.2 0 L10.6 3.1 M4.6 5.6 L8.6 3.95" stroke="#0d8a10" stroke-width="2.2" fill="none" stroke-linejoin="miter" stroke-miterlimit="10"/></g>
</defs>
<use href="#plf" x="549.1" y="81.2"/>
<use href="#plf" x="549.1" y="132.5"/>
<use href="#plf" x="603.6" y="29.8"/>
<use href="#plf" x="603.6" y="81.2"/>
<use href="#plf" x="603.6" y="132.5"/>
<use href="#as" transform="translate(589.4 48.1) scale(-1.004 1)"/>
<use href="#ad" transform="translate(561.3 99.5) scale(1.004 1)"/>
<use href="#ad" transform="translate(589.4 150.8) scale(-1.004 1)"/>
<use href="#vd" transform="translate(549.1 63.0) rotate(90) scale(0.995 1)"/>
<use href="#vd" transform="translate(603.6 114.4) rotate(90) scale(0.990 1)"/>
<use href="#pl" x="549.1" y="29.8"/>
<use href="#plf" x="647.8" y="29.8"/>
<use href="#plf" x="647.8" y="132.5"/>
<use href="#plf" x="702.0" y="29.8"/>
<use href="#plf" x="702.0" y="81.2"/>
<use href="#plf" x="702.0" y="132.5"/>
<use href="#as" transform="translate(687.8 48.1) scale(-0.993 1)"/>
<use href="#ad" transform="translate(660.0 99.5) scale(0.993 1)"/>
<use href="#ad" transform="translate(687.8 150.8) scale(-0.993 1)"/>
<use href="#vs" transform="translate(647.8 63.0) rotate(90) scale(0.995 1)"/>
<use href="#vd" transform="translate(702.0 114.4) rotate(90) scale(0.990 1)"/>
<use href="#pl" x="647.8" y="81.2"/>
<use href="#plf" x="746.3" y="29.8"/>
<use href="#plf" x="746.3" y="81.2"/>
<use href="#plf" x="746.3" y="132.5"/>
<use href="#plf" x="800.4" y="29.8"/>
<use href="#plf" x="800.4" y="132.5"/>
<use href="#as" transform="translate(786.2 48.1) scale(-0.989 1)"/>
<use href="#as" transform="translate(758.5 99.5) scale(0.989 1)"/>
<use href="#ad" transform="translate(786.2 150.8) scale(-0.989 1)"/>
<use href="#vs" transform="translate(746.3 63.0) rotate(90) scale(0.995 1)"/>
<use href="#vd" transform="translate(800.4 114.4) rotate(90) scale(0.990 1)"/>
<use href="#pl" x="800.4" y="81.2"/>
<use href="#plf" x="847.8" y="29.8"/>
<use href="#plf" x="847.8" y="81.2"/>
<use href="#plf" x="847.8" y="132.5"/>
<use href="#plf" x="902.2" y="29.8"/>
<use href="#plf" x="902.2" y="81.2"/>
<use href="#as" transform="translate(888.0 48.1) scale(-1.000 1)"/>
<use href="#as" transform="translate(860.0 99.5) scale(1.000 1)"/>
<use href="#ad" transform="translate(888.0 150.8) scale(-1.000 1)"/>
<use href="#vs" transform="translate(847.8 63.0) rotate(90) scale(0.995 1)"/>
<use href="#vs" transform="translate(902.2 114.4) rotate(90) scale(0.990 1)"/>
<use href="#pl" x="902.2" y="132.5"/>
<use href="#plf" x="944.6" y="29.8"/>
<use href="#plf" x="944.6" y="81.2"/>
<use href="#plf" x="999.0" y="29.8"/>
<use href="#plf" x="999.0" y="81.2"/>
<use href="#plf" x="999.0" y="132.5"/>
<use href="#as" transform="translate(984.8 48.1) scale(-1.000 1)"/>
<use href="#as" transform="translate(956.8 99.5) scale(1.000 1)"/>
<use href="#as" transform="translate(984.8 150.8) scale(-1.000 1)"/>
<use href="#vs" transform="translate(944.6 63.0) rotate(90) scale(0.995 1)"/>
<use href="#vs" transform="translate(999.0 114.4) rotate(90) scale(0.990 1)"/>
<use href="#pl" x="944.6" y="132.5"/>
<use href="#plf" x="1042.2" y="29.8"/>
<use href="#plf" x="1042.2" y="81.2"/>
<use href="#plf" x="1042.2" y="132.5"/>
<use href="#plf" x="1096.7" y="29.8"/>
<use href="#plf" x="1096.7" y="81.2"/>
<use href="#ad" transform="translate(1054.4 48.1) scale(1.004 1)"/>
<use href="#ad" transform="translate(1082.5 99.5) scale(-1.004 1)"/>
<use href="#as" transform="translate(1054.4 150.8) scale(1.004 1)"/>
<use href="#vd" transform="translate(1042.2 82.4) rotate(-90) scale(0.995 1)"/>
<use href="#vd" transform="translate(1096.7 133.7) rotate(-90) scale(0.990 1)"/>
<use href="#pl" x="1096.7" y="132.5"/>
<use href="#plf" x="1137.6" y="29.8"/>
<use href="#plf" x="1137.6" y="81.2"/>
<use href="#plf" x="1137.6" y="132.5"/>
<use href="#plf" x="1191.8" y="29.8"/>
<use href="#plf" x="1191.8" y="132.5"/>
<use href="#ad" transform="translate(1149.8 48.1) scale(0.993 1)"/>
<use href="#ad" transform="translate(1177.6 99.5) scale(-0.993 1)"/>
<use href="#as" transform="translate(1149.8 150.8) scale(0.993 1)"/>
<use href="#vd" transform="translate(1137.6 82.4) rotate(-90) scale(0.995 1)"/>
<use href="#vs" transform="translate(1191.8 133.7) rotate(-90) scale(0.990 1)"/>
<use href="#pl" x="1191.8" y="81.2"/>
<rect x="1234.2" y="91.3" width="4.2" height="4.2" fill="#000"/>
<rect x="1247.5" y="91.3" width="4.2" height="4.2" fill="#000"/>
<rect x="1260.5" y="91.3" width="4.2" height="4.2" fill="#000"/>
<rect x="1234.2" y="198.3" width="4.2" height="4.2" fill="#000"/>
<rect x="1247.5" y="198.3" width="4.2" height="4.2" fill="#000"/>
<rect x="1260.5" y="198.3" width="4.2" height="4.2" fill="#000"/>
<rect x="1234.2" y="289.2" width="4.2" height="4.2" fill="#000"/>
<rect x="1247.5" y="289.2" width="4.2" height="4.2" fill="#000"/>
<rect x="1260.5" y="289.2" width="4.2" height="4.2" fill="#000"/>
<rect x="1234.2" y="414.5" width="4.2" height="4.2" fill="#000"/>
<rect x="1247.5" y="414.5" width="4.2" height="4.2" fill="#000"/>
<rect x="1260.5" y="414.5" width="4.2" height="4.2" fill="#000"/>
<defs><linearGradient id="skin" x1="0" y1="0" x2="0" y2="1"><stop offset="0" stop-color="#ddb08c"/><stop offset="0.35" stop-color="#deb08e"/><stop offset="0.7" stop-color="#d7a383"/><stop offset="1" stop-color="#cf9b7b"/></linearGradient><linearGradient id="skinx" x1="0" y1="0" x2="1" y2="0"><stop offset="0" stop-color="#d8c09a" stop-opacity="0.55"/><stop offset="0.22" stop-color="#e0b48e" stop-opacity="0"/><stop offset="0.75" stop-color="#c98f6c" stop-opacity="0"/><stop offset="1" stop-color="#b97f5e" stop-opacity="0.5"/></linearGradient><filter id="fb1" x="-30%" y="-30%" width="160%" height="160%"><feGaussianBlur stdDeviation="0.5"/></filter><filter id="fb3" x="-30%" y="-30%" width="160%" height="160%"><feGaussianBlur stdDeviation="0.9"/></filter><filter id="fb2" x="-50%" y="-50%" width="200%" height="200%"><feGaussianBlur stdDeviation="2.2"/></filter></defs>
<clipPath id="fc0"><rect x="0" y="0" width="90.9" height="55.1"/></clipPath>
<g transform="translate(531.9 174.2)" clip-path="url(#fc0)">
<rect width="90.9" height="55.1" fill="url(#skin)"/><rect width="90.9" height="55.1" fill="url(#skinx)"/>
<g filter="url(#fb2)">
<ellipse cx="41.8" cy="6.6" rx="26" ry="6" fill="#efc9a6" opacity="0.7"/>
<ellipse cx="52.3" cy="34.2" rx="4.5" ry="13" fill="#f2ceb0" opacity="0.75"/>
<ellipse cx="30.9" cy="32.0" rx="13" ry="6.5" fill="#b57c60" opacity="0.55"/>
<ellipse cx="72.7" cy="30.3" rx="12" ry="6" fill="#b27a5e" opacity="0.55"/>
<ellipse cx="32.7" cy="43.0" rx="10" ry="3.5" fill="#c48c6c" opacity="0.5"/>
<ellipse cx="74.5" cy="40.8" rx="10" ry="3.5" fill="#bf8666" opacity="0.5"/>
<ellipse cx="81.8" cy="50.7" rx="14" ry="7" fill="#b67c5c" opacity="0.5"/>
<ellipse cx="50.0" cy="55.1" rx="12" ry="4" fill="#c28a6a" opacity="0.5"/>
<ellipse cx="10.9" cy="27.6" rx="6" ry="14" fill="#d9bc98" opacity="0.55"/>
<ellipse cx="26.4" cy="19.8" rx="11" ry="3" fill="#c79a7e" opacity="0.5"/>
<ellipse cx="71.8" cy="16.5" rx="11" ry="3" fill="#c49478" opacity="0.5"/>
</g>
<g filter="url(#fb3)"><path d="M80.4 -1 L91.9 -1 L91.9 34.2 Q89.5 16.5 85.4 6.6 Q82.7 1.7 79.5 -1 Z" fill="#1d1a18"/><path d="M-1 -1 L4.5 -1 Q1.8 8.3 1.1 19.8 L-1 24.8 Z" fill="#2c2622" opacity="0.9"/><rect x="89.3" y="-1" width="2" height="11.0" fill="#e6ecf2"/></g>
<path d="M25.0 11.8 Q10.9 11.0 2.7 17.1" stroke="#eadcc8" stroke-width="0.7" fill="none" opacity="0.85"/>
<path d="M6.4 36.1 H0" stroke="#e4e0dc" stroke-width="0.9" fill="none"/>
<path d="M29.1 49.6 Q14.5 49.6 6.4 55.1" stroke="#e4d2b8" stroke-width="0.7" fill="none" opacity="0.85"/>
<path d="M86.4 31.4 L90.9 30.3" stroke="#ddd" stroke-width="0.6" fill="none"/>
<g filter="url(#fb1)" fill="none" stroke-linecap="round"><path d="M14.5 23.1 Q23.6 14.9 37.3 19.3" stroke="#7d6252" stroke-width="2.3" opacity="0.7"/><path d="M61.4 16.5 Q71.8 11.6 83.2 17.4" stroke="#5c4236" stroke-width="2.5" opacity="0.85"/></g>
<g filter="url(#fb1)" fill="none" stroke="#9a5c48" stroke-width="1.1" opacity="0.55"><path d="M24.5 38.6 Q31.8 42.4 40.0 38.6"/><path d="M66.4 35.8 Q73.6 39.7 81.8 34.7"/></g>
<g transform="translate(31.4 34.4)" filter="url(#fb1)">
<ellipse cx="0" cy="0.3" rx="6.6" ry="2.7" fill="#f1e2d6"/>
<ellipse cx="3.4" cy="0" rx="2.7" ry="2.6" fill="#1c100c"/>
<path d="M-8.6 1.2 Q-1.3 -4.4 9.1 -0.8" stroke="#4a2e22" stroke-width="1.4" fill="none"/>
</g>
<g transform="translate(73.4 30.7)" filter="url(#fb1)">
<ellipse cx="0" cy="0.3" rx="6.2" ry="2.7" fill="#f1e2d6"/>
<ellipse cx="3.4" cy="0" rx="2.7" ry="2.6" fill="#1c100c"/>
<path d="M-8.2 1.2 Q-1.2 -4.4 8.7 -0.8" stroke="#4a2e22" stroke-width="1.4" fill="none"/>
</g>
<rect x="46.1" y="0.8" width="7.4" height="7.8" rx="1.6" fill="#4c382b"/><ellipse cx="49.8" cy="3.1" rx="1.2" ry="1.7" fill="#fff"/>
<ellipse cx="26.9" cy="12.4" rx="3.1" ry="3.3" fill="#4e3c32"/><ellipse cx="26.4" cy="12.2" rx="1.5" ry="1.8" fill="#fbf8f4"/><ellipse cx="30.3" cy="15.0" rx="0.7" ry="0.7" fill="#4a3428"/>
<ellipse cx="7.9" cy="36.1" rx="2" ry="3.2" fill="#553829"/><ellipse cx="7.2" cy="36.1" rx="0.8" ry="1.5" fill="#f4eee8"/>
<ellipse cx="32.5" cy="48.4" rx="3.6" ry="3.7" fill="#54443a"/><ellipse cx="32.3" cy="48.8" rx="1.5" ry="2.3" transform="rotate(-40 32.5 48.4)" fill="#fff"/>
<ellipse cx="88.0" cy="32.5" rx="1.7" ry="2.4" fill="#7a6256"/><ellipse cx="88.0" cy="32.5" rx="0.8" ry="1.3" fill="#efe4dc"/>
</g>
<clipPath id="fc1"><rect x="0" y="0" width="94.0" height="55.1"/></clipPath>
<g transform="translate(629.2 174.2)" clip-path="url(#fc1)">
<rect width="94.0" height="55.1" fill="url(#skin)"/><rect width="94.0" height="55.1" fill="url(#skinx)"/>
<g filter="url(#fb2)">
<ellipse cx="43.2" cy="6.6" rx="26" ry="6" fill="#efc9a6" opacity="0.7"/>
<ellipse cx="54.0" cy="34.2" rx="4.5" ry="13" fill="#f2ceb0" opacity="0.75"/>
<ellipse cx="32.0" cy="32.0" rx="13" ry="6.5" fill="#b57c60" opacity="0.55"/>
<ellipse cx="75.2" cy="30.3" rx="12" ry="6" fill="#b27a5e" opacity="0.55"/>
<ellipse cx="33.8" cy="43.0" rx="10" ry="3.5" fill="#c48c6c" opacity="0.5"/>
<ellipse cx="77.1" cy="40.8" rx="10" ry="3.5" fill="#bf8666" opacity="0.5"/>
<ellipse cx="84.6" cy="50.7" rx="14" ry="7" fill="#b67c5c" opacity="0.5"/>
<ellipse cx="51.7" cy="55.1" rx="12" ry="4" fill="#c28a6a" opacity="0.5"/>
<ellipse cx="11.3" cy="27.6" rx="6" ry="14" fill="#d9bc98" opacity="0.55"/>
<ellipse cx="27.3" cy="19.8" rx="11" ry="3" fill="#c79a7e" opacity="0.5"/>
<ellipse cx="74.3" cy="16.5" rx="11" ry="3" fill="#c49478" opacity="0.5"/>
</g>
<g filter="url(#fb3)"><path d="M83.2 -1 L95.0 -1 L95.0 34.2 Q92.6 16.5 88.4 6.6 Q85.5 1.7 82.2 -1 Z" fill="#1d1a18"/><path d="M-1 -1 L4.7 -1 Q1.9 8.3 1.1 19.8 L-1 24.8 Z" fill="#2c2622" opacity="0.9"/><rect x="92.4" y="-1" width="2" height="11.0" fill="#e6ecf2"/></g>
<path d="M25.9 11.8 Q11.3 11.0 2.8 17.1" stroke="#eadcc8" stroke-width="0.7" fill="none" opacity="0.85"/>
<path d="M6.6 36.1 H0" stroke="#e4e0dc" stroke-width="0.9" fill="none"/>
<path d="M30.1 49.6 Q15.0 49.6 6.6 55.1" stroke="#e4d2b8" stroke-width="0.7" fill="none" opacity="0.85"/>
<path d="M89.3 31.4 L94.0 30.3" stroke="#ddd" stroke-width="0.6" fill="none"/>
<g filter="url(#fb1)" fill="none" stroke-linecap="round"><path d="M15.0 23.1 Q24.4 14.9 38.5 19.3" stroke="#7d6252" stroke-width="2.3" opacity="0.7"/><path d="M63.5 16.5 Q74.3 11.6 86.0 17.4" stroke="#5c4236" stroke-width="2.5" opacity="0.85"/></g>
<g filter="url(#fb1)" fill="none" stroke="#9a5c48" stroke-width="1.1" opacity="0.55"><path d="M25.4 38.6 Q32.9 42.4 41.4 38.6"/><path d="M68.6 35.8 Q76.1 39.7 84.6 34.7"/></g>
<g transform="translate(32.4 34.4)" filter="url(#fb1)">
<path d="M-8.1 -0.6 Q-1.3 3.2 8.1 -1.2" stroke="#52342a" stroke-width="1.3" fill="none" stroke-linecap="round"/>
<path d="M-3.3 1.5 Q0 3.4 4.0 1.0" stroke="#2e1a14" stroke-width="1.4" fill="none" stroke-linecap="round"/>
</g>
<g transform="translate(76.0 30.7)" filter="url(#fb1)">
<path d="M-7.7 -0.6 Q-1.2 3.2 7.7 -1.2" stroke="#52342a" stroke-width="1.3" fill="none" stroke-linecap="round"/>
<path d="M-3.1 1.5 Q0 3.4 3.7 1.0" stroke="#2e1a14" stroke-width="1.4" fill="none" stroke-linecap="round"/>
</g>
<rect x="47.8" y="0.8" width="7.4" height="7.8" rx="1.6" fill="#4c382b"/><ellipse cx="51.5" cy="3.1" rx="1.2" ry="1.7" fill="#fff"/>
<ellipse cx="27.8" cy="12.4" rx="3.1" ry="3.3" fill="#4e3c32"/><ellipse cx="27.3" cy="12.2" rx="1.5" ry="1.8" fill="#fbf8f4"/><ellipse cx="31.2" cy="15.0" rx="0.7" ry="0.7" fill="#4a3428"/>
<ellipse cx="8.2" cy="36.1" rx="2" ry="3.2" fill="#553829"/><ellipse cx="7.5" cy="36.1" rx="0.8" ry="1.5" fill="#f4eee8"/>
<ellipse cx="33.6" cy="48.4" rx="3.6" ry="3.7" fill="#54443a"/><ellipse cx="33.4" cy="48.8" rx="1.5" ry="2.3" transform="rotate(-40 33.6 48.4)" fill="#fff"/>
<ellipse cx="91.0" cy="32.5" rx="1.7" ry="2.4" fill="#7a6256"/><ellipse cx="91.0" cy="32.5" rx="0.8" ry="1.3" fill="#efe4dc"/>
</g>
<clipPath id="fc2"><rect x="0" y="0" width="94.0" height="55.1"/></clipPath>
<g transform="translate(728.6 174.2)" clip-path="url(#fc2)">
<rect width="94.0" height="55.1" fill="url(#skin)"/><rect width="94.0" height="55.1" fill="url(#skinx)"/>
<g filter="url(#fb2)">
<ellipse cx="43.2" cy="6.6" rx="26" ry="6" fill="#efc9a6" opacity="0.7"/>
<ellipse cx="54.0" cy="34.2" rx="4.5" ry="13" fill="#f2ceb0" opacity="0.75"/>
<ellipse cx="32.0" cy="32.0" rx="13" ry="6.5" fill="#b57c60" opacity="0.55"/>
<ellipse cx="75.2" cy="30.3" rx="12" ry="6" fill="#b27a5e" opacity="0.55"/>
<ellipse cx="33.8" cy="43.0" rx="10" ry="3.5" fill="#c48c6c" opacity="0.5"/>
<ellipse cx="77.1" cy="40.8" rx="10" ry="3.5" fill="#bf8666" opacity="0.5"/>
<ellipse cx="84.6" cy="50.7" rx="14" ry="7" fill="#b67c5c" opacity="0.5"/>
<ellipse cx="51.7" cy="55.1" rx="12" ry="4" fill="#c28a6a" opacity="0.5"/>
<ellipse cx="11.3" cy="27.6" rx="6" ry="14" fill="#d9bc98" opacity="0.55"/>
<ellipse cx="27.3" cy="19.8" rx="11" ry="3" fill="#c79a7e" opacity="0.5"/>
<ellipse cx="74.3" cy="16.5" rx="11" ry="3" fill="#c49478" opacity="0.5"/>
</g>
<g filter="url(#fb3)"><path d="M83.2 -1 L95.0 -1 L95.0 34.2 Q92.6 16.5 88.4 6.6 Q85.5 1.7 82.2 -1 Z" fill="#1d1a18"/><path d="M-1 -1 L4.7 -1 Q1.9 8.3 1.1 19.8 L-1 24.8 Z" fill="#2c2622" opacity="0.9"/><rect x="92.4" y="-1" width="2" height="11.0" fill="#e6ecf2"/></g>
<path d="M25.9 11.8 Q11.3 11.0 2.8 17.1" stroke="#eadcc8" stroke-width="0.7" fill="none" opacity="0.85"/>
<path d="M6.6 36.1 H0" stroke="#e4e0dc" stroke-width="0.9" fill="none"/>
<path d="M30.1 49.6 Q15.0 49.6 6.6 55.1" stroke="#e4d2b8" stroke-width="0.7" fill="none" opacity="0.85"/>
<path d="M89.3 31.4 L94.0 30.3" stroke="#ddd" stroke-width="0.6" fill="none"/>
<g filter="url(#fb1)" fill="none" stroke-linecap="round"><path d="M15.0 23.1 Q24.4 14.9 38.5 19.3" stroke="#7d6252" stroke-width="2.3" opacity="0.7"/><path d="M63.5 16.5 Q74.3 11.6 86.0 17.4" stroke="#5c4236" stroke-width="2.5" opacity="0.85"/></g>
<g filter="url(#fb1)" fill="none" stroke="#9a5c48" stroke-width="1.1" opacity="0.55"><path d="M25.4 38.6 Q32.9 42.4 41.4 38.6"/><path d="M68.6 35.8 Q76.1 39.7 84.6 34.7"/></g>
<g transform="translate(32.4 34.4)" filter="url(#fb1)">
<ellipse cx="0" cy="0.3" rx="6.6" ry="2.7" fill="#f1e2d6"/>
<ellipse cx="-3.0" cy="0" rx="2.7" ry="2.6" fill="#1c100c"/>
<path d="M-8.6 1.2 Q-1.3 -4.4 9.1 -0.8" stroke="#4a2e22" stroke-width="1.4" fill="none"/>
</g>
<g transform="translate(76.0 30.7)" filter="url(#fb1)">
<ellipse cx="0" cy="0.3" rx="6.2" ry="2.7" fill="#f1e2d6"/>
<ellipse cx="-3.0" cy="0" rx="2.7" ry="2.6" fill="#1c100c"/>
<path d="M-8.2 1.2 Q-1.2 -4.4 8.7 -0.8" stroke="#4a2e22" stroke-width="1.4" fill="none"/>
</g>
<rect x="47.8" y="0.8" width="7.4" height="7.8" rx="1.6" fill="#4c382b"/><ellipse cx="51.5" cy="3.1" rx="1.2" ry="1.7" fill="#fff"/>
<ellipse cx="27.8" cy="12.4" rx="3.1" ry="3.3" fill="#4e3c32"/><ellipse cx="27.3" cy="12.2" rx="1.5" ry="1.8" fill="#fbf8f4"/><ellipse cx="31.2" cy="15.0" rx="0.7" ry="0.7" fill="#4a3428"/>
<ellipse cx="8.2" cy="36.1" rx="2" ry="3.2" fill="#553829"/><ellipse cx="7.5" cy="36.1" rx="0.8" ry="1.5" fill="#f4eee8"/>
<ellipse cx="33.6" cy="48.4" rx="3.6" ry="3.7" fill="#54443a"/><ellipse cx="33.4" cy="48.8" rx="1.5" ry="2.3" transform="rotate(-40 33.6 48.4)" fill="#fff"/>
<ellipse cx="91.0" cy="32.5" rx="1.7" ry="2.4" fill="#7a6256"/><ellipse cx="91.0" cy="32.5" rx="0.8" ry="1.3" fill="#efe4dc"/>
</g>
<clipPath id="fc3"><rect x="0" y="0" width="92.8" height="55.1"/></clipPath>
<g transform="translate(829.8 174.2)" clip-path="url(#fc3)">
<rect width="92.8" height="55.1" fill="url(#skin)"/><rect width="92.8" height="55.1" fill="url(#skinx)"/>
<g filter="url(#fb2)">
<ellipse cx="42.7" cy="6.6" rx="26" ry="6" fill="#efc9a6" opacity="0.7"/>
<ellipse cx="53.4" cy="34.2" rx="4.5" ry="13" fill="#f2ceb0" opacity="0.75"/>
<ellipse cx="31.6" cy="32.0" rx="13" ry="6.5" fill="#b57c60" opacity="0.55"/>
<ellipse cx="74.2" cy="30.3" rx="12" ry="6" fill="#b27a5e" opacity="0.55"/>
<ellipse cx="33.4" cy="43.0" rx="10" ry="3.5" fill="#c48c6c" opacity="0.5"/>
<ellipse cx="76.1" cy="40.8" rx="10" ry="3.5" fill="#bf8666" opacity="0.5"/>
<ellipse cx="83.5" cy="50.7" rx="14" ry="7" fill="#b67c5c" opacity="0.5"/>
<ellipse cx="51.0" cy="55.1" rx="12" ry="4" fill="#c28a6a" opacity="0.5"/>
<ellipse cx="11.1" cy="27.6" rx="6" ry="14" fill="#d9bc98" opacity="0.55"/>
<ellipse cx="26.9" cy="19.8" rx="11" ry="3" fill="#c79a7e" opacity="0.5"/>
<ellipse cx="73.3" cy="16.5" rx="11" ry="3" fill="#c49478" opacity="0.5"/>
</g>
<g filter="url(#fb3)"><path d="M82.1 -1 L93.8 -1 L93.8 34.2 Q91.4 16.5 87.2 6.6 Q84.4 1.7 81.2 -1 Z" fill="#1d1a18"/><path d="M-1 -1 L4.6 -1 Q1.9 8.3 1.1 19.8 L-1 24.8 Z" fill="#2c2622" opacity="0.9"/><rect x="91.2" y="-1" width="2" height="11.0" fill="#e6ecf2"/></g>
<path d="M25.5 11.8 Q11.1 11.0 2.8 17.1" stroke="#eadcc8" stroke-width="0.7" fill="none" opacity="0.85"/>
<path d="M6.5 36.1 H0" stroke="#e4e0dc" stroke-width="0.9" fill="none"/>
<path d="M29.7 49.6 Q14.8 49.6 6.5 55.1" stroke="#e4d2b8" stroke-width="0.7" fill="none" opacity="0.85"/>
<path d="M88.2 31.4 L92.8 30.3" stroke="#ddd" stroke-width="0.6" fill="none"/>
<g filter="url(#fb1)" fill="none" stroke-linecap="round"><path d="M14.8 23.1 Q24.1 14.9 38.0 19.3" stroke="#7d6252" stroke-width="2.3" opacity="0.7"/><path d="M62.6 16.5 Q73.3 11.6 84.9 17.4" stroke="#5c4236" stroke-width="2.5" opacity="0.85"/></g>
<g filter="url(#fb1)" fill="none" stroke="#9a5c48" stroke-width="1.1" opacity="0.55"><path d="M25.1 38.6 Q32.5 42.4 40.8 38.6"/><path d="M67.7 35.8 Q75.2 39.7 83.5 34.7"/></g>
<g transform="translate(32.0 34.4)" filter="url(#fb1)">
<path d="M-8.1 -0.6 Q-1.3 3.2 8.1 -1.2" stroke="#52342a" stroke-width="1.3" fill="none" stroke-linecap="round"/>
<path d="M-3.3 1.5 Q0 3.4 4.0 1.0" stroke="#2e1a14" stroke-width="1.4" fill="none" stroke-linecap="round"/>
</g>
<g transform="translate(75.0 30.7)" filter="url(#fb1)">
<path d="M-7.7 -0.6 Q-1.2 3.2 7.7 -1.2" stroke="#52342a" stroke-width="1.3" fill="none" stroke-linecap="round"/>
<path d="M-3.1 1.5 Q0 3.4 3.7 1.0" stroke="#2e1a14" stroke-width="1.4" fill="none" stroke-linecap="round"/>
</g>
<rect x="47.2" y="0.8" width="7.4" height="7.8" rx="1.6" fill="#4c382b"/><ellipse cx="50.9" cy="3.1" rx="1.2" ry="1.7" fill="#fff"/>
<ellipse cx="27.5" cy="12.4" rx="3.1" ry="3.3" fill="#4e3c32"/><ellipse cx="27.0" cy="12.2" rx="1.5" ry="1.8" fill="#fbf8f4"/><ellipse cx="30.9" cy="15.0" rx="0.7" ry="0.7" fill="#4a3428"/>
<ellipse cx="8.1" cy="36.1" rx="2" ry="3.2" fill="#553829"/><ellipse cx="7.4" cy="36.1" rx="0.8" ry="1.5" fill="#f4eee8"/>
<ellipse cx="33.1" cy="48.4" rx="3.6" ry="3.7" fill="#54443a"/><ellipse cx="32.9" cy="48.8" rx="1.5" ry="2.3" transform="rotate(-40 33.1 48.4)" fill="#fff"/>
<ellipse cx="89.8" cy="32.5" rx="1.7" ry="2.4" fill="#7a6256"/><ellipse cx="89.8" cy="32.5" rx="0.8" ry="1.3" fill="#efe4dc"/>
</g>
<clipPath id="fc4"><rect x="0" y="0" width="89.8" height="55.1"/></clipPath>
<g transform="translate(928.2 174.2)" clip-path="url(#fc4)">
<rect width="89.8" height="55.1" fill="url(#skin)"/><rect width="89.8" height="55.1" fill="url(#skinx)"/>
<g filter="url(#fb2)">
<ellipse cx="41.3" cy="6.6" rx="26" ry="6" fill="#efc9a6" opacity="0.7"/>
<ellipse cx="51.6" cy="34.2" rx="4.5" ry="13" fill="#f2ceb0" opacity="0.75"/>
<ellipse cx="30.5" cy="32.0" rx="13" ry="6.5" fill="#b57c60" opacity="0.55"/>
<ellipse cx="71.8" cy="30.3" rx="12" ry="6" fill="#b27a5e" opacity="0.55"/>
<ellipse cx="32.3" cy="43.0" rx="10" ry="3.5" fill="#c48c6c" opacity="0.5"/>
<ellipse cx="73.6" cy="40.8" rx="10" ry="3.5" fill="#bf8666" opacity="0.5"/>
<ellipse cx="80.8" cy="50.7" rx="14" ry="7" fill="#b67c5c" opacity="0.5"/>
<ellipse cx="49.4" cy="55.1" rx="12" ry="4" fill="#c28a6a" opacity="0.5"/>
<ellipse cx="10.8" cy="27.6" rx="6" ry="14" fill="#d9bc98" opacity="0.55"/>
<ellipse cx="26.0" cy="19.8" rx="11" ry="3" fill="#c79a7e" opacity="0.5"/>
<ellipse cx="70.9" cy="16.5" rx="11" ry="3" fill="#c49478" opacity="0.5"/>
</g>
<g filter="url(#fb3)"><path d="M79.5 -1 L90.8 -1 L90.8 34.2 Q88.5 16.5 84.4 6.6 Q81.7 1.7 78.6 -1 Z" fill="#1d1a18"/><path d="M-1 -1 L4.5 -1 Q1.8 8.3 1.1 19.8 L-1 24.8 Z" fill="#2c2622" opacity="0.9"/><rect x="88.2" y="-1" width="2" height="11.0" fill="#e6ecf2"/></g>
<path d="M24.7 11.8 Q10.8 11.0 2.7 17.1" stroke="#eadcc8" stroke-width="0.7" fill="none" opacity="0.85"/>
<path d="M6.3 36.1 H0" stroke="#e4e0dc" stroke-width="0.9" fill="none"/>
<path d="M28.7 49.6 Q14.4 49.6 6.3 55.1" stroke="#e4d2b8" stroke-width="0.7" fill="none" opacity="0.85"/>
<path d="M85.3 31.4 L89.8 30.3" stroke="#ddd" stroke-width="0.6" fill="none"/>
<g filter="url(#fb1)" fill="none" stroke-linecap="round"><path d="M14.4 23.1 Q23.3 14.9 36.8 19.3" stroke="#7d6252" stroke-width="2.3" opacity="0.7"/><path d="M60.6 16.5 Q70.9 11.6 82.2 17.4" stroke="#5c4236" stroke-width="2.5" opacity="0.85"/></g>
<g filter="url(#fb1)" fill="none" stroke="#9a5c48" stroke-width="1.1" opacity="0.55"><path d="M24.2 38.6 Q31.4 42.4 39.5 38.6"/><path d="M65.6 35.8 Q72.7 39.7 80.8 34.7"/></g>
<g transform="translate(31.0 34.4)" filter="url(#fb1)">
<ellipse cx="0" cy="0.3" rx="6.6" ry="2.7" fill="#f1e2d6"/>
<ellipse cx="3.4" cy="0" rx="2.7" ry="2.6" fill="#1c100c"/>
<path d="M-8.6 1.2 Q-1.3 -4.4 9.1 -0.8" stroke="#4a2e22" stroke-width="1.4" fill="none"/>
</g>
<g transform="translate(72.6 30.7)" filter="url(#fb1)">
<ellipse cx="0" cy="0.3" rx="6.2" ry="2.7" fill="#f1e2d6"/>
<ellipse cx="3.4" cy="0" rx="2.7" ry="2.6" fill="#1c100c"/>
<path d="M-8.2 1.2 Q-1.2 -4.4 8.7 -0.8" stroke="#4a2e22" stroke-width="1.4" fill="none"/>
</g>
<rect x="45.5" y="0.8" width="7.4" height="7.8" rx="1.6" fill="#4c382b"/><ellipse cx="49.2" cy="3.1" rx="1.2" ry="1.7" fill="#fff"/>
<ellipse cx="26.6" cy="12.4" rx="3.1" ry="3.3" fill="#4e3c32"/><ellipse cx="26.1" cy="12.2" rx="1.5" ry="1.8" fill="#fbf8f4"/><ellipse cx="30.0" cy="15.0" rx="0.7" ry="0.7" fill="#4a3428"/>
<ellipse cx="7.8" cy="36.1" rx="2" ry="3.2" fill="#553829"/><ellipse cx="7.1" cy="36.1" rx="0.8" ry="1.5" fill="#f4eee8"/>
<ellipse cx="32.1" cy="48.4" rx="3.6" ry="3.7" fill="#54443a"/><ellipse cx="31.9" cy="48.8" rx="1.5" ry="2.3" transform="rotate(-40 32.1 48.4)" fill="#fff"/>
<ellipse cx="86.9" cy="32.5" rx="1.7" ry="2.4" fill="#7a6256"/><ellipse cx="86.9" cy="32.5" rx="0.8" ry="1.3" fill="#efe4dc"/>
</g>
<clipPath id="fc5"><rect x="0" y="0" width="90.2" height="55.1"/></clipPath>
<g transform="translate(1025.2 174.2)" clip-path="url(#fc5)">
<rect width="90.2" height="55.1" fill="url(#skin)"/><rect width="90.2" height="55.1" fill="url(#skinx)"/>
<g filter="url(#fb2)">
<ellipse cx="41.5" cy="6.6" rx="26" ry="6" fill="#efc9a6" opacity="0.7"/>
<ellipse cx="51.9" cy="34.2" rx="4.5" ry="13" fill="#f2ceb0" opacity="0.75"/>
<ellipse cx="30.7" cy="32.0" rx="13" ry="6.5" fill="#b57c60" opacity="0.55"/>
<ellipse cx="72.2" cy="30.3" rx="12" ry="6" fill="#b27a5e" opacity="0.55"/>
<ellipse cx="32.5" cy="43.0" rx="10" ry="3.5" fill="#c48c6c" opacity="0.5"/>
<ellipse cx="74.0" cy="40.8" rx="10" ry="3.5" fill="#bf8666" opacity="0.5"/>
<ellipse cx="81.2" cy="50.7" rx="14" ry="7" fill="#b67c5c" opacity="0.5"/>
<ellipse cx="49.6" cy="55.1" rx="12" ry="4" fill="#c28a6a" opacity="0.5"/>
<ellipse cx="10.8" cy="27.6" rx="6" ry="14" fill="#d9bc98" opacity="0.55"/>
<ellipse cx="26.2" cy="19.8" rx="11" ry="3" fill="#c79a7e" opacity="0.5"/>
<ellipse cx="71.3" cy="16.5" rx="11" ry="3" fill="#c49478" opacity="0.5"/>
</g>
<g filter="url(#fb3)"><path d="M79.8 -1 L91.2 -1 L91.2 34.2 Q88.8 16.5 84.8 6.6 Q82.1 1.7 78.9 -1 Z" fill="#1d1a18"/><path d="M-1 -1 L4.5 -1 Q1.8 8.3 1.1 19.8 L-1 24.8 Z" fill="#2c2622" opacity="0.9"/><rect x="88.6" y="-1" width="2" height="11.0" fill="#e6ecf2"/></g>
<path d="M24.8 11.8 Q10.8 11.0 2.7 17.1" stroke="#eadcc8" stroke-width="0.7" fill="none" opacity="0.85"/>
<path d="M6.3 36.1 H0" stroke="#e4e0dc" stroke-width="0.9" fill="none"/>
<path d="M28.9 49.6 Q14.4 49.6 6.3 55.1" stroke="#e4d2b8" stroke-width="0.7" fill="none" opacity="0.85"/>
<path d="M85.7 31.4 L90.2 30.3" stroke="#ddd" stroke-width="0.6" fill="none"/>
<g filter="url(#fb1)" fill="none" stroke-linecap="round"><path d="M14.4 23.1 Q23.5 14.9 37.0 19.3" stroke="#7d6252" stroke-width="2.3" opacity="0.7"/><path d="M60.9 16.5 Q71.3 11.6 82.5 17.4" stroke="#5c4236" stroke-width="2.5" opacity="0.85"/></g>
<g filter="url(#fb1)" fill="none" stroke="#9a5c48" stroke-width="1.1" opacity="0.55"><path d="M24.4 38.6 Q31.6 42.4 39.7 38.6"/><path d="M65.8 35.8 Q73.1 39.7 81.2 34.7"/></g>
<g transform="translate(31.1 34.4)" filter="url(#fb1)">
<ellipse cx="0" cy="0.3" rx="6.6" ry="2.7" fill="#f1e2d6"/>
<ellipse cx="-3.0" cy="0" rx="2.7" ry="2.6" fill="#1c100c"/>
<path d="M-8.6 1.2 Q-1.3 -4.4 9.1 -0.8" stroke="#4a2e22" stroke-width="1.4" fill="none"/>
</g>
<g transform="translate(72.9 30.7)" filter="url(#fb1)">
<ellipse cx="0" cy="0.3" rx="6.2" ry="2.7" fill="#f1e2d6"/>
<ellipse cx="-3.0" cy="0" rx="2.7" ry="2.6" fill="#1c100c"/>
<path d="M-8.2 1.2 Q-1.2 -4.4 8.7 -0.8" stroke="#4a2e22" stroke-width="1.4" fill="none"/>
</g>
<rect x="45.7" y="0.8" width="7.4" height="7.8" rx="1.6" fill="#4c382b"/><ellipse cx="49.4" cy="3.1" rx="1.2" ry="1.7" fill="#fff"/>
<ellipse cx="26.7" cy="12.4" rx="3.1" ry="3.3" fill="#4e3c32"/><ellipse cx="26.2" cy="12.2" rx="1.5" ry="1.8" fill="#fbf8f4"/><ellipse cx="30.1" cy="15.0" rx="0.7" ry="0.7" fill="#4a3428"/>
<ellipse cx="7.8" cy="36.1" rx="2" ry="3.2" fill="#553829"/><ellipse cx="7.1" cy="36.1" rx="0.8" ry="1.5" fill="#f4eee8"/>
<ellipse cx="32.2" cy="48.4" rx="3.6" ry="3.7" fill="#54443a"/><ellipse cx="32.0" cy="48.8" rx="1.5" ry="2.3" transform="rotate(-40 32.2 48.4)" fill="#fff"/>
<ellipse cx="87.3" cy="32.5" rx="1.7" ry="2.4" fill="#7a6256"/><ellipse cx="87.3" cy="32.5" rx="0.8" ry="1.3" fill="#efe4dc"/>
</g>
<clipPath id="fc6"><rect x="0" y="0" width="89.6" height="55.1"/></clipPath>
<g transform="translate(1122.0 174.2)" clip-path="url(#fc6)">
<rect width="89.6" height="55.1" fill="url(#skin)"/><rect width="89.6" height="55.1" fill="url(#skinx)"/>
<g filter="url(#fb2)">
<ellipse cx="41.2" cy="6.6" rx="26" ry="6" fill="#efc9a6" opacity="0.7"/>
<ellipse cx="51.5" cy="34.2" rx="4.5" ry="13" fill="#f2ceb0" opacity="0.75"/>
<ellipse cx="30.5" cy="32.0" rx="13" ry="6.5" fill="#b57c60" opacity="0.55"/>
<ellipse cx="71.7" cy="30.3" rx="12" ry="6" fill="#b27a5e" opacity="0.55"/>
<ellipse cx="32.3" cy="43.0" rx="10" ry="3.5" fill="#c48c6c" opacity="0.5"/>
<ellipse cx="73.5" cy="40.8" rx="10" ry="3.5" fill="#bf8666" opacity="0.5"/>
<ellipse cx="80.6" cy="50.7" rx="14" ry="7" fill="#b67c5c" opacity="0.5"/>
<ellipse cx="49.3" cy="55.1" rx="12" ry="4" fill="#c28a6a" opacity="0.5"/>
<ellipse cx="10.8" cy="27.6" rx="6" ry="14" fill="#d9bc98" opacity="0.55"/>
<ellipse cx="26.0" cy="19.8" rx="11" ry="3" fill="#c79a7e" opacity="0.5"/>
<ellipse cx="70.8" cy="16.5" rx="11" ry="3" fill="#c49478" opacity="0.5"/>
</g>
<g filter="url(#fb3)"><path d="M79.3 -1 L90.6 -1 L90.6 34.2 Q88.3 16.5 84.2 6.6 Q81.5 1.7 78.4 -1 Z" fill="#1d1a18"/><path d="M-1 -1 L4.5 -1 Q1.8 8.3 1.1 19.8 L-1 24.8 Z" fill="#2c2622" opacity="0.9"/><rect x="88.0" y="-1" width="2" height="11.0" fill="#e6ecf2"/></g>
<path d="M24.6 11.8 Q10.8 11.0 2.7 17.1" stroke="#eadcc8" stroke-width="0.7" fill="none" opacity="0.85"/>
<path d="M6.3 36.1 H0" stroke="#e4e0dc" stroke-width="0.9" fill="none"/>
<path d="M28.7 49.6 Q14.3 49.6 6.3 55.1" stroke="#e4d2b8" stroke-width="0.7" fill="none" opacity="0.85"/>
<path d="M85.1 31.4 L89.6 30.3" stroke="#ddd" stroke-width="0.6" fill="none"/>
<g filter="url(#fb1)" fill="none" stroke-linecap="round"><path d="M14.3 23.1 Q23.3 14.9 36.7 19.3" stroke="#7d6252" stroke-width="2.3" opacity="0.7"/><path d="M60.5 16.5 Q70.8 11.6 82.0 17.4" stroke="#5c4236" stroke-width="2.5" opacity="0.85"/></g>
<g filter="url(#fb1)" fill="none" stroke="#9a5c48" stroke-width="1.1" opacity="0.55"><path d="M24.2 38.6 Q31.4 42.4 39.4 38.6"/><path d="M65.4 35.8 Q72.6 39.7 80.6 34.7"/></g>
<g transform="translate(30.9 34.4)" filter="url(#fb1)">
<ellipse cx="0" cy="0.2" rx="7.6" ry="4.3" fill="#f3e4d8"/>
<circle cx="0.5" cy="-1.4" r="3.1" fill="#2a1812"/>
<path d="M-8.6 0.5 Q0 -7.2 8.6 0.2" stroke="#3a2218" stroke-width="1.5" fill="none"/>
</g>
<g transform="translate(72.4 30.7)" filter="url(#fb1)">
<ellipse cx="0" cy="0.2" rx="7.2" ry="4.3" fill="#f3e4d8"/>
<circle cx="0.5" cy="-1.4" r="3.1" fill="#2a1812"/>
<path d="M-8.2 0.5 Q0 -7.2 8.2 0.2" stroke="#3a2218" stroke-width="1.5" fill="none"/>
</g>
<rect x="45.4" y="0.8" width="7.4" height="7.8" rx="1.6" fill="#4c382b"/><ellipse cx="49.1" cy="3.1" rx="1.2" ry="1.7" fill="#fff"/>
<ellipse cx="26.5" cy="12.4" rx="3.1" ry="3.3" fill="#4e3c32"/><ellipse cx="26.0" cy="12.2" rx="1.5" ry="1.8" fill="#fbf8f4"/><ellipse cx="29.9" cy="15.0" rx="0.7" ry="0.7" fill="#4a3428"/>
<ellipse cx="7.8" cy="36.1" rx="2" ry="3.2" fill="#553829"/><ellipse cx="7.1" cy="36.1" rx="0.8" ry="1.5" fill="#f4eee8"/>
<ellipse cx="32.0" cy="48.4" rx="3.6" ry="3.7" fill="#54443a"/><ellipse cx="31.8" cy="48.8" rx="1.5" ry="2.3" transform="rotate(-40 32.0 48.4)" fill="#fff"/>
<ellipse cx="86.7" cy="32.5" rx="1.7" ry="2.4" fill="#7a6256"/><ellipse cx="86.7" cy="32.5" rx="0.8" ry="1.3" fill="#efe4dc"/>
</g>
<rect x="533.0" y="241.5" width="684.7" height="100.5" fill="#fff"/>
<rect x="533.0" y="366.8" width="684.7" height="99.5" fill="#fff"/>
<path d="M626.1 29.2 V238.3" stroke="#7676ff" stroke-width="1.5" stroke-dasharray="9 8.52" fill="none"/>
<path d="M626.1 238.4 V457" stroke="#7676ff" stroke-width="1.5" stroke-dasharray="9 8.48" fill="none"/>
<path d="M725.9 29.2 V238.3" stroke="#0808ff" stroke-width="1.7" stroke-dasharray="9 8.52" fill="none"/>
<path d="M725.9 238.4 V457" stroke="#0808ff" stroke-width="1.7" stroke-dasharray="9 8.48" fill="none"/>
<path d="M825.6 29.2 V238.3" stroke="#7676ff" stroke-width="1.5" stroke-dasharray="9 8.52" fill="none"/>
<path d="M825.6 238.4 V457" stroke="#7676ff" stroke-width="1.5" stroke-dasharray="9 8.48" fill="none"/>
<path d="M925.2 29.2 V238.3" stroke="#7676ff" stroke-width="1.5" stroke-dasharray="9 8.52" fill="none"/>
<path d="M925.2 238.4 V457" stroke="#7676ff" stroke-width="1.5" stroke-dasharray="9 8.48" fill="none"/>
<path d="M1020.9 29.2 V238.3" stroke="#7676ff" stroke-width="1.5" stroke-dasharray="9 8.52" fill="none"/>
<path d="M1020.9 238.4 V457" stroke="#7676ff" stroke-width="1.5" stroke-dasharray="9 8.48" fill="none"/>
<path d="M1118.2 29.2 V238.3" stroke="#0808ff" stroke-width="1.7" stroke-dasharray="9 8.52" fill="none"/>
<path d="M1118.2 238.4 V457" stroke="#0808ff" stroke-width="1.7" stroke-dasharray="9 8.48" fill="none"/>
<path d="M532.8 291.9 L533.4 291.6 L534.0 292.6 L534.6 291.6 L535.2 291.8 L535.8 292.3 L536.4 291.4 L537.0 291.5 L537.6 291.8 L538.2 291.6 L538.8 291.3 L539.4 291.7 L540.0 291.6 L540.6 291.9 L541.2 291.2 L541.8 291.5 L542.4 292.1 L543.0 292.4 L543.6 291.2 L544.2 292.0 L544.8 291.4 L545.4 291.4 L546.0 291.4 L546.6 291.6 L547.2 292.1 L547.8 291.9 L548.4 291.6 L549.0 291.3 L549.6 291.3 L550.2 291.2 L550.8 291.3 L551.4 290.0 L552.0 289.2 L552.6 288.0 L553.2 287.4 L553.8 287.2 L554.4 287.0 L555.0 287.5 L555.6 287.4 L556.2 288.6 L556.8 289.0 L557.4 290.4 L558.0 292.1 L558.6 293.6 L559.2 294.1 L559.8 294.6 L560.4 294.5 L561.0 294.3 L561.6 294.0 L562.2 293.8 L562.8 294.0 L563.4 293.3 L564.0 292.5 L564.6 292.4 L565.2 292.1 L565.8 292.4 L566.4 291.7 L567.0 292.5 L567.6 291.9 L568.2 291.7 L568.8 291.5 L569.4 292.0 L570.0 291.6 L570.6 291.4 L571.2 291.8 L571.8 291.6 L572.4 292.0 L573.0 291.6 L573.6 290.6 L574.2 291.9 L574.8 290.9 L575.4 292.1 L576.0 292.2 L576.6 291.4 L577.2 291.1 L577.8 291.0 L578.4 291.7 L579.0 291.2 L579.6 290.9 L580.2 290.9 L580.8 291.1 L581.4 287.6 L582.0 287.3 L582.6 290.4 L583.2 294.1 L583.8 297.8 L584.4 300.5 L585.0 301.3 L585.6 296.7 L586.2 292.2 L586.8 291.7 L587.4 290.7 L588.0 290.4 L588.6 289.8 L589.2 289.9 L589.8 290.6 L590.4 290.5 L591.0 290.8 L591.6 291.5 L592.2 291.8 L592.8 291.9 L593.4 291.6 L594.0 290.8 L594.6 291.5 L595.2 291.3 L595.8 291.4 L596.4 290.6 L597.0 291.7 L597.6 290.4 L598.2 291.1 L598.8 290.9 L599.4 290.8 L600.0 291.3 L600.6 290.9 L601.2 290.2 L601.8 290.7 L602.4 291.3 L603.0 292.0 L603.6 290.7 L604.2 291.3 L604.8 291.8 L605.4 291.6 L606.0 291.3 L606.6 290.9 L607.2 290.8 L607.8 291.2 L608.4 291.4 L609.0 290.8 L609.6 291.0 L610.2 291.8 L610.8 291.6 L611.4 291.5 L612.0 291.6 L612.6 291.4 L613.2 292.0 L613.8 292.2 L614.4 292.3 L615.0 291.8 L615.6 291.8 L616.2 292.0 L616.8 292.1 L617.4 291.9 L618.0 291.8 L618.6 291.1 L619.2 290.8 L619.8 291.6 L620.4 291.2 L621.0 291.2 L621.6 290.9 L622.2 290.7 L622.8 291.7 L623.4 291.3 L624.0 290.7 L624.6 291.2 L625.2 291.2 L625.8 291.2 L626.4 291.8 L627.0 291.1 L627.6 290.6 L628.2 291.1 L628.8 290.9 L629.4 291.3 L630.0 291.2 L630.6 291.3 L631.2 291.0 L631.8 291.4 L632.4 291.0 L633.0 291.4 L633.6 291.2 L634.2 290.9 L634.8 291.4 L635.4 291.0 L636.0 291.8 L636.6 291.4 L637.2 291.4 L637.8 291.3 L638.4 291.2 L639.0 290.4 L639.6 291.7 L640.2 291.0 L640.8 291.5 L641.4 290.2 L642.0 289.6 L642.6 289.1 L643.2 289.4 L643.8 290.5 L644.4 291.4 L645.0 291.1 L645.6 290.8 L646.2 290.3 L646.8 283.7 L647.4 275.5 L648.0 268.4 L648.6 267.5 L649.2 267.2 L649.8 269.3 L650.4 272.5 L651.0 276.2 L651.6 280.4 L652.2 283.6 L652.8 286.5 L653.4 288.8 L654.0 291.8 L654.6 294.3 L655.2 297.1 L655.8 297.9 L656.4 298.9 L657.0 299.4 L657.6 299.9 L658.2 301.5 L658.8 301.1 L659.4 301.7 L660.0 302.7 L660.6 303.8 L661.2 303.6 L661.8 303.0 L662.4 302.2 L663.0 302.5 L663.6 301.1 L664.2 300.4 L664.8 300.1 L665.4 299.3 L666.0 298.9 L666.6 298.9 L667.2 297.7 L667.8 297.2 L668.4 296.5 L669.0 296.0 L669.6 295.8 L670.2 295.1 L670.8 294.2 L671.4 293.5 L672.0 293.4 L672.6 293.4 L673.2 292.8 L673.8 292.5 L674.4 291.6 L675.0 292.3 L675.6 291.1 L676.2 291.0 L676.8 292.1 L677.4 293.4 L678.0 294.6 L678.6 295.4 L679.2 296.8 L679.8 297.6 L680.4 296.0 L681.0 294.9 L681.6 293.1 L682.2 292.0 L682.8 291.0 L683.4 290.6 L684.0 289.8 L684.6 289.3 L685.2 289.5 L685.8 289.5 L686.4 289.9 L687.0 296.3 L687.6 302.6 L688.2 309.5 L688.8 311.5 L689.4 304.8 L690.0 297.9 L690.6 291.5 L691.2 289.0 L691.8 287.3 L692.4 285.3 L693.0 284.1 L693.6 283.6 L694.2 283.8 L694.8 284.1 L695.4 284.1 L696.0 283.6 L696.6 284.0 L697.2 284.8 L697.8 284.0 L698.4 284.8 L699.0 284.6 L699.6 285.4 L700.2 285.0 L700.8 285.6 L701.4 285.1 L702.0 286.1 L702.6 286.8 L703.2 286.1 L703.8 287.3 L704.4 286.9 L705.0 287.4 L705.6 286.8 L706.2 288.4 L706.8 288.0 L707.4 288.3 L708.0 288.4 L708.6 288.7 L709.2 289.6 L709.8 289.2 L710.4 289.9 L711.0 289.7 L711.6 290.0 L712.2 289.9 L712.8 290.4 L713.4 291.4 L714.0 290.9 L714.6 291.0 L715.2 290.8 L715.8 291.5 L716.4 291.8 L717.0 290.9 L717.6 291.2 L718.2 292.6 L718.8 292.2 L719.4 292.3 L720.0 292.6 L720.6 292.7 L721.2 292.5 L721.8 292.0 L722.4 292.6 L723.0 291.8 L723.6 291.3 L724.2 291.3 L724.8 291.3 L725.4 291.1 L726.0 291.0 L726.6 291.0 L727.2 289.7 L727.8 290.6 L728.4 291.3 L729.0 291.2 L729.6 290.9 L730.2 291.0 L730.8 291.7 L731.4 291.3 L732.0 291.3 L732.6 292.2 L733.2 291.5 L733.8 291.9 L734.4 291.8 L735.0 292.0 L735.6 291.8 L736.2 292.1 L736.8 293.0 L737.4 292.3 L738.0 293.0 L738.6 292.7 L739.2 293.2 L739.8 293.4 L740.4 293.1 L741.0 294.2 L741.6 293.9 L742.2 293.9 L742.8 292.1 L743.4 291.7 L744.0 291.7 L744.6 290.8 L745.2 288.2 L745.8 285.8 L746.4 284.3 L747.0 284.0 L747.6 283.9 L748.2 283.6 L748.8 284.2 L749.4 284.6 L750.0 286.6 L750.6 289.5 L751.2 291.4 L751.8 293.4 L752.4 293.2 L753.0 293.9 L753.6 294.7 L754.2 295.7 L754.8 295.6 L755.4 295.4 L756.0 296.5 L756.6 295.5 L757.2 296.2 L757.8 295.3 L758.4 294.6 L759.0 295.2 L759.6 294.2 L760.2 293.7 L760.8 293.8 L761.4 293.9 L762.0 293.4 L762.6 293.2 L763.2 293.3 L763.8 292.5 L764.4 292.5 L765.0 292.2 L765.6 291.7 L766.2 292.0 L766.8 292.6 L767.4 291.3 L768.0 292.3 L768.6 291.8 L769.2 291.3 L769.8 291.6 L770.4 292.1 L771.0 291.2 L771.6 291.6 L772.2 291.6 L772.8 290.8 L773.4 291.3 L774.0 291.2 L774.6 290.7 L775.2 291.1 L775.8 290.7 L776.4 290.6 L777.0 290.4 L777.6 291.0 L778.2 290.7 L778.8 290.7 L779.4 290.5 L780.0 290.5 L780.6 290.7 L781.2 291.3 L781.8 290.7 L782.4 291.6 L783.0 291.2 L783.6 291.1 L784.2 290.7 L784.8 291.8 L785.4 290.6 L786.0 291.4 L786.6 291.8 L787.2 291.1 L787.8 291.0 L788.4 291.7 L789.0 295.7 L789.6 300.4 L790.2 303.9 L790.8 301.1 L791.4 296.6 L792.0 292.2 L792.6 288.2 L793.2 288.3 L793.8 289.3 L794.4 288.3 L795.0 289.3 L795.6 288.7 L796.2 289.1 L796.8 289.3 L797.4 289.0 L798.0 289.6 L798.6 290.3 L799.2 290.2 L799.8 290.4 L800.4 290.0 L801.0 290.4 L801.6 290.6 L802.2 290.8 L802.8 291.1 L803.4 290.3 L804.0 291.3 L804.6 290.6 L805.2 290.7 L805.8 290.3 L806.4 290.8 L807.0 290.8 L807.6 290.4 L808.2 290.8 L808.8 291.0 L809.4 290.8 L810.0 291.3 L810.6 290.7 L811.2 291.4 L811.8 291.0 L812.4 291.2 L813.0 290.5 L813.6 291.2 L814.2 291.2 L814.8 291.6 L815.4 290.8 L816.0 291.8 L816.6 290.9 L817.2 291.8 L817.8 291.6 L818.4 291.1 L819.0 292.2 L819.6 291.0 L820.2 291.4 L820.8 291.6 L821.4 291.7 L822.0 291.7 L822.6 291.9 L823.2 291.8 L823.8 291.7 L824.4 291.4 L825.0 291.6 L825.6 292.1 L826.2 291.3 L826.8 291.8 L827.4 291.0 L828.0 291.5 L828.6 291.2 L829.2 292.2 L829.8 291.1 L830.4 291.7 L831.0 292.0 L831.6 292.0 L832.2 292.0 L832.8 292.1 L833.4 291.9 L834.0 292.0 L834.6 291.7 L835.2 291.7 L835.8 291.1 L836.4 291.8 L837.0 292.2 L837.6 291.5 L838.2 291.3 L838.8 291.8 L839.4 292.1 L840.0 292.2 L840.6 291.2 L841.2 291.9 L841.8 291.5 L842.4 291.8 L843.0 290.9 L843.6 292.1 L844.2 291.6 L844.8 291.6 L845.4 289.7 L846.0 284.9 L846.6 280.6 L847.2 275.5 L847.8 271.2 L848.4 271.1 L849.0 270.7 L849.6 270.4 L850.2 270.9 L850.8 270.5 L851.4 272.2 L852.0 275.5 L852.6 278.7 L853.2 281.9 L853.8 285.2 L854.4 287.8 L855.0 290.7 L855.6 294.5 L856.2 296.3 L856.8 296.7 L857.4 297.9 L858.0 298.5 L858.6 299.0 L859.2 300.8 L859.8 301.5 L860.4 302.3 L861.0 303.7 L861.6 303.6 L862.2 302.4 L862.8 301.6 L863.4 300.7 L864.0 300.7 L864.6 300.0 L865.2 299.6 L865.8 298.9 L866.4 298.0 L867.0 297.5 L867.6 296.5 L868.2 296.9 L868.8 295.8 L869.4 295.7 L870.0 294.7 L870.6 294.5 L871.2 294.1 L871.8 293.3 L872.4 292.7 L873.0 293.5 L873.6 292.4 L874.2 292.5 L874.8 292.1 L875.4 291.6 L876.0 292.2 L876.6 291.6 L877.2 291.4 L877.8 290.3 L878.4 291.0 L879.0 291.0 L879.6 290.7 L880.2 290.6 L880.8 291.1 L881.4 290.8 L882.0 291.0 L882.6 291.2 L883.2 291.3 L883.8 290.5 L884.4 291.2 L885.0 290.8 L885.6 290.5 L886.2 291.6 L886.8 294.0 L887.4 301.1 L888.0 307.6 L888.6 315.2 L889.2 322.2 L889.8 324.7 L890.4 317.8 L891.0 310.0 L891.6 302.3 L892.2 295.4 L892.8 287.2 L893.4 282.3 L894.0 281.6 L894.6 279.3 L895.2 278.2 L895.8 277.6 L896.4 277.8 L897.0 277.9 L897.6 278.8 L898.2 279.3 L898.8 279.2 L899.4 280.3 L900.0 280.4 L900.6 281.9 L901.2 282.4 L901.8 283.8 L902.4 284.1 L903.0 284.4 L903.6 285.4 L904.2 286.0 L904.8 286.4 L905.4 286.8 L906.0 288.1 L906.6 288.5 L907.2 288.1 L907.8 288.5 L908.4 288.6 L909.0 289.4 L909.6 289.8 L910.2 289.3 L910.8 289.8 L911.4 290.0 L912.0 290.5 L912.6 291.0 L913.2 291.4 L913.8 291.1 L914.4 290.9 L915.0 291.5 L915.6 291.5 L916.2 291.2 L916.8 291.4 L917.4 291.5 L918.0 291.7 L918.6 291.4 L919.2 291.6 L919.8 291.5 L920.4 291.1 L921.0 291.7 L921.6 291.5 L922.2 291.9 L922.8 291.1 L923.4 291.3 L924.0 291.7 L924.6 291.0 L925.2 291.6 L925.8 291.5 L926.4 291.5 L927.0 291.6 L927.6 290.9 L928.2 291.7 L928.8 291.7 L929.4 291.4 L930.0 290.2 L930.6 288.5 L931.2 287.4 L931.8 285.2 L932.4 288.6 L933.0 292.6 L933.6 295.8 L934.2 294.2 L934.8 289.3 L935.4 285.7 L936.0 285.8 L936.6 286.2 L937.2 286.7 L937.8 287.6 L938.4 288.6 L939.0 291.2 L939.6 291.7 L940.2 291.4 L940.8 292.9 L941.4 292.7 L942.0 292.4 L942.6 292.7 L943.2 292.4 L943.8 292.0 L944.4 292.3 L945.0 291.8 L945.6 291.9 L946.2 291.8 L946.8 292.2 L947.4 292.5 L948.0 291.8 L948.6 292.2 L949.2 291.3 L949.8 291.6 L950.4 292.1 L951.0 292.2 L951.6 292.2 L952.2 292.2 L952.8 291.3 L953.4 291.6 L954.0 290.9 L954.6 291.7 L955.2 291.8 L955.8 291.6 L956.4 291.3 L957.0 291.8 L957.6 291.8 L958.2 291.6 L958.8 291.3 L959.4 291.5 L960.0 291.5 L960.6 291.5 L961.2 291.6 L961.8 291.4 L962.4 290.9 L963.0 291.2 L963.6 291.4 L964.2 291.1 L964.8 290.8 L965.4 289.4 L966.0 288.9 L966.6 287.5 L967.2 287.7 L967.8 289.7 L968.4 291.7 L969.0 293.0 L969.6 294.1 L970.2 294.6 L970.8 295.1 L971.4 295.6 L972.0 295.3 L972.6 295.3 L973.2 294.7 L973.8 293.9 L974.4 294.1 L975.0 293.1 L975.6 292.2 L976.2 291.9 L976.8 291.5 L977.4 291.0 L978.0 290.2 L978.6 290.0 L979.2 289.3 L979.8 289.5 L980.4 289.7 L981.0 289.3 L981.6 289.6 L982.2 289.6 L982.8 289.0 L983.4 288.3 L984.0 289.3 L984.6 289.4 L985.2 288.7 L985.8 289.7 L986.4 290.1 L987.0 289.8 L987.6 290.6 L988.2 291.6 L988.8 291.6 L989.4 291.7 L990.0 292.1 L990.6 291.5 L991.2 291.1 L991.8 292.2 L992.4 291.5 L993.0 291.7 L993.6 292.2 L994.2 291.9 L994.8 291.9 L995.4 291.6 L996.0 292.0 L996.6 292.6 L997.2 291.7 L997.8 291.5 L998.4 292.0 L999.0 291.6 L999.6 292.0 L1000.2 291.9 L1000.8 292.1 L1001.4 292.0 L1002.0 292.1 L1002.6 292.4 L1003.2 291.7 L1003.8 292.0 L1004.4 292.2 L1005.0 291.6 L1005.6 291.7 L1006.2 292.0 L1006.8 291.9 L1007.4 292.5 L1008.0 292.2 L1008.6 293.2 L1009.2 292.0 L1009.8 292.1 L1010.4 293.0 L1011.0 292.0 L1011.6 293.0 L1012.2 291.1 L1012.8 291.9 L1013.4 292.6 L1014.0 292.7 L1014.6 292.2 L1015.2 291.8 L1015.8 292.0 L1016.4 292.3 L1017.0 292.1 L1017.6 292.3 L1018.2 291.6 L1018.8 292.2 L1019.4 292.3 L1020.0 292.9 L1020.6 292.0 L1021.2 291.6 L1021.8 291.0 L1022.4 290.8 L1023.0 290.4 L1023.6 291.3 L1024.2 291.8 L1024.8 291.1 L1025.4 290.2 L1026.0 291.1 L1026.6 290.9 L1027.2 290.9 L1027.8 291.6 L1028.4 291.4 L1029.0 291.4 L1029.6 290.6 L1030.2 291.0 L1030.8 290.4 L1031.4 291.2 L1032.0 290.4 L1032.6 291.2 L1033.2 290.8 L1033.8 290.7 L1034.4 290.1 L1035.0 290.9 L1035.6 289.9 L1036.2 290.1 L1036.8 290.3 L1037.4 291.3 L1038.0 290.1 L1038.6 289.1 L1039.2 288.9 L1039.8 288.8 L1040.4 287.5 L1041.0 288.6 L1041.6 291.3 L1042.2 294.2 L1042.8 294.3 L1043.4 290.1 L1044.0 286.4 L1044.6 284.9 L1045.2 284.7 L1045.8 285.6 L1046.4 286.0 L1047.0 287.1 L1047.6 287.7 L1048.2 289.5 L1048.8 290.6 L1049.4 292.2 L1050.0 293.1 L1050.6 292.8 L1051.2 293.1 L1051.8 293.1 L1052.4 292.9 L1053.0 292.6 L1053.6 293.3 L1054.2 293.7 L1054.8 292.9 L1055.4 293.5 L1056.0 292.8 L1056.6 292.8 L1057.2 292.9 L1057.8 292.8 L1058.4 293.3 L1059.0 293.3 L1059.6 291.9 L1060.2 293.1 L1060.8 292.9 L1061.4 293.3 L1062.0 292.3 L1062.6 292.6 L1063.2 292.9 L1063.8 292.7 L1064.4 292.8 L1065.0 292.0 L1065.6 291.9 L1066.2 292.3 L1066.8 291.5 L1067.4 292.1 L1068.0 292.2 L1068.6 291.9 L1069.2 291.3 L1069.8 291.5 L1070.4 291.5 L1071.0 291.7 L1071.6 291.6 L1072.2 291.3 L1072.8 290.7 L1073.4 290.6 L1074.0 290.8 L1074.6 290.8 L1075.2 290.8 L1075.8 290.7 L1076.4 291.2 L1077.0 291.1 L1077.6 291.5 L1078.2 291.6 L1078.8 291.9 L1079.4 291.5 L1080.0 291.6 L1080.6 291.7 L1081.2 292.2 L1081.8 292.6 L1082.4 292.8 L1083.0 292.5 L1083.6 292.3 L1084.2 292.5 L1084.8 292.2 L1085.4 291.8 L1086.0 292.4 L1086.6 291.9 L1087.2 291.5 L1087.8 291.8 L1088.4 291.6 L1089.0 291.8 L1089.6 291.5 L1090.2 291.6 L1090.8 291.4 L1091.4 291.5 L1092.0 291.7 L1092.6 291.5 L1093.2 291.4 L1093.8 291.7 L1094.4 290.8 L1095.0 291.3 L1095.6 291.5 L1096.2 291.3 L1096.8 291.4 L1097.4 290.7 L1098.0 291.5 L1098.6 290.9 L1099.2 291.6 L1099.8 291.3 L1100.4 291.5 L1101.0 291.0 L1101.6 291.2 L1102.2 290.7 L1102.8 291.5 L1103.4 291.6 L1104.0 291.5 L1104.6 291.8 L1105.2 291.7 L1105.8 291.5 L1106.4 291.7 L1107.0 291.4 L1107.6 291.9 L1108.2 291.7 L1108.8 291.8 L1109.4 291.6 L1110.0 291.5 L1110.6 291.4 L1111.2 291.7 L1111.8 292.0 L1112.4 291.1 L1113.0 291.8 L1113.6 293.0 L1114.2 291.8 L1114.8 291.7 L1115.4 291.9 L1116.0 291.7 L1116.6 291.8 L1117.2 291.8 L1117.8 291.4 L1118.4 292.2 L1119.0 291.7 L1119.6 292.0 L1120.2 291.6 L1120.8 291.8 L1121.4 291.4 L1122.0 292.3 L1122.6 291.6 L1123.2 291.6 L1123.8 291.0 L1124.4 290.4 L1125.0 290.8 L1125.6 291.5 L1126.2 291.8 L1126.8 292.1 L1127.4 292.4 L1128.0 292.0 L1128.6 292.0 L1129.2 292.1 L1129.8 291.9 L1130.4 291.6 L1131.0 291.0 L1131.6 290.9 L1132.2 290.6 L1132.8 290.7 L1133.4 290.6 L1134.0 290.7 L1134.6 290.4 L1135.2 290.3 L1135.8 290.8 L1136.4 290.7 L1137.0 289.5 L1137.6 290.3 L1138.2 290.3 L1138.8 291.7 L1139.4 296.2 L1140.0 302.5 L1140.6 308.9 L1141.2 313.7 L1141.8 313.8 L1142.4 314.6 L1143.0 313.9 L1143.6 309.4 L1144.2 304.6 L1144.8 299.0 L1145.4 294.5 L1146.0 288.9 L1146.6 285.4 L1147.2 283.6 L1147.8 282.8 L1148.4 281.8 L1149.0 281.7 L1149.6 281.5 L1150.2 280.3 L1150.8 280.8 L1151.4 281.4 L1152.0 281.5 L1152.6 282.1 L1153.2 283.3 L1153.8 283.7 L1154.4 284.5 L1155.0 284.7 L1155.6 284.8 L1156.2 285.7 L1156.8 286.0 L1157.4 286.7 L1158.0 287.5 L1158.6 288.3 L1159.2 288.2 L1159.8 289.1 L1160.4 288.4 L1161.0 289.2 L1161.6 289.6 L1162.2 289.2 L1162.8 289.7 L1163.4 290.5 L1164.0 291.0 L1164.6 291.3 L1165.2 291.2 L1165.8 291.2 L1166.4 290.9 L1167.0 291.5 L1167.6 292.1 L1168.2 291.8 L1168.8 291.5 L1169.4 291.9 L1170.0 292.1 L1170.6 292.5 L1171.2 292.0 L1171.8 292.4 L1172.4 292.6 L1173.0 292.4 L1173.6 292.5 L1174.2 292.5 L1174.8 292.8 L1175.4 292.8 L1176.0 290.8 L1176.6 286.5 L1177.2 282.0 L1177.8 276.4 L1178.4 271.1 L1179.0 271.5 L1179.6 270.9 L1180.2 271.7 L1180.8 274.5 L1181.4 277.1 L1182.0 279.8 L1182.6 282.8 L1183.2 285.7 L1183.8 287.8 L1184.4 289.9 L1185.0 293.0 L1185.6 294.5 L1186.2 296.8 L1186.8 298.3 L1187.4 297.7 L1188.0 297.5 L1188.6 297.6 L1189.2 297.7 L1189.8 298.3 L1190.4 297.8 L1191.0 297.0 L1191.6 296.5 L1192.2 296.6 L1192.8 296.6 L1193.4 295.4 L1194.0 295.8 L1194.6 295.0 L1195.2 294.6 L1195.8 294.1 L1196.4 293.8 L1197.0 293.8 L1197.6 294.2 L1198.2 293.2 L1198.8 293.4 L1199.4 293.4 L1200.0 292.9 L1200.6 293.0 L1201.2 292.6 L1201.8 293.2 L1202.4 293.1 L1203.0 292.2 L1203.6 293.1 L1204.2 292.1 L1204.8 291.7 L1205.4 291.6 L1206.0 292.3 L1206.6 291.3 L1207.2 292.0 L1207.8 292.1 L1208.4 292.3 L1209.0 291.8 L1209.6 292.3 L1210.2 291.7 L1210.8 292.1 L1211.4 291.4 L1212.0 291.8 L1212.6 291.5 L1213.2 291.7 L1213.8 292.3 L1214.4 291.5 L1215.0 291.5 L1215.6 291.4 L1216.2 291.5 L1216.8 290.5" fill="none" stroke="#1fae1f" stroke-width="1.5" stroke-linejoin="round"/>
<path d="M532.8 416.3 L533.4 415.5 L534.0 415.3 L534.6 416.4 L535.2 415.9 L535.8 416.6 L536.4 417.1 L537.0 416.8 L537.6 416.4 L538.2 417.0 L538.8 417.9 L539.4 417.1 L540.0 417.9 L540.6 417.9 L541.2 416.7 L541.8 417.7 L542.4 416.8 L543.0 417.7 L543.6 417.8 L544.2 417.5 L544.8 416.9 L545.4 417.4 L546.0 417.3 L546.6 417.4 L547.2 417.0 L547.8 417.1 L548.4 416.6 L549.0 415.8 L549.6 416.4 L550.2 416.8 L550.8 415.9 L551.4 417.7 L552.0 420.4 L552.6 425.3 L553.2 428.6 L553.8 435.3 L554.4 440.7 L555.0 446.1 L555.6 448.1 L556.2 448.0 L556.8 446.8 L557.4 444.6 L558.0 439.9 L558.6 436.1 L559.2 431.0 L559.8 426.1 L560.4 421.6 L561.0 416.4 L561.6 412.7 L562.2 410.2 L562.8 408.5 L563.4 406.5 L564.0 405.5 L564.6 404.0 L565.2 401.8 L565.8 402.4 L566.4 402.5 L567.0 402.9 L567.6 402.8 L568.2 402.0 L568.8 403.0 L569.4 403.6 L570.0 404.2 L570.6 404.9 L571.2 406.6 L571.8 407.6 L572.4 407.9 L573.0 409.3 L573.6 409.9 L574.2 410.7 L574.8 411.5 L575.4 412.7 L576.0 413.2 L576.6 413.8 L577.2 414.3 L577.8 414.8 L578.4 415.7 L579.0 415.2 L579.6 416.6 L580.2 413.4 L580.8 404.1 L581.4 393.7 L582.0 383.3 L582.6 376.0 L583.2 374.3 L583.8 375.2 L584.4 374.9 L585.0 377.4 L585.6 385.4 L586.2 393.4 L586.8 401.3 L587.4 409.6 L588.0 416.2 L588.6 418.7 L589.2 424.1 L589.8 427.0 L590.4 428.2 L591.0 429.1 L591.6 429.3 L592.2 430.6 L592.8 431.5 L593.4 432.6 L594.0 432.1 L594.6 433.7 L595.2 432.9 L595.8 432.0 L596.4 431.3 L597.0 430.6 L597.6 430.4 L598.2 429.5 L598.8 428.4 L599.4 426.9 L600.0 426.4 L600.6 426.3 L601.2 425.4 L601.8 424.2 L602.4 424.7 L603.0 424.3 L603.6 422.8 L604.2 421.7 L604.8 421.2 L605.4 420.1 L606.0 419.4 L606.6 419.5 L607.2 419.0 L607.8 419.3 L608.4 420.1 L609.0 418.8 L609.6 418.4 L610.2 418.3 L610.8 418.2 L611.4 418.5 L612.0 417.8 L612.6 417.9 L613.2 416.9 L613.8 416.7 L614.4 416.9 L615.0 417.2 L615.6 416.2 L616.2 417.0 L616.8 415.7 L617.4 415.9 L618.0 415.5 L618.6 416.0 L619.2 414.5 L619.8 414.3 L620.4 414.3 L621.0 414.4 L621.6 414.1 L622.2 413.1 L622.8 413.4 L623.4 413.2 L624.0 414.5 L624.6 414.0 L625.2 414.1 L625.8 412.9 L626.4 414.0 L627.0 413.8 L627.6 414.4 L628.2 413.3 L628.8 414.7 L629.4 414.4 L630.0 414.4 L630.6 413.9 L631.2 415.8 L631.8 415.5 L632.4 416.0 L633.0 416.3 L633.6 416.6 L634.2 417.3 L634.8 417.7 L635.4 418.0 L636.0 417.6 L636.6 416.8 L637.2 417.1 L637.8 417.2 L638.4 416.3 L639.0 416.3 L639.6 416.7 L640.2 416.2 L640.8 415.5 L641.4 415.8 L642.0 415.8 L642.6 415.8 L643.2 415.6 L643.8 416.5 L644.4 415.1 L645.0 416.0 L645.6 416.2 L646.2 415.6 L646.8 415.9 L647.4 416.6 L648.0 417.8 L648.6 418.5 L649.2 419.6 L649.8 420.7 L650.4 420.7 L651.0 421.8 L651.6 422.4 L652.2 420.7 L652.8 420.8 L653.4 419.4 L654.0 419.1 L654.6 418.4 L655.2 418.6 L655.8 417.2 L656.4 416.5 L657.0 416.7 L657.6 415.9 L658.2 415.0 L658.8 415.7 L659.4 415.2 L660.0 414.2 L660.6 413.2 L661.2 413.2 L661.8 412.7 L662.4 413.7 L663.0 412.8 L663.6 413.7 L664.2 414.0 L664.8 413.8 L665.4 414.0 L666.0 414.6 L666.6 414.5 L667.2 413.6 L667.8 415.0 L668.4 413.7 L669.0 414.5 L669.6 415.3 L670.2 414.3 L670.8 415.7 L671.4 416.3 L672.0 415.4 L672.6 414.8 L673.2 416.5 L673.8 415.5 L674.4 415.7 L675.0 416.0 L675.6 416.6 L676.2 416.9 L676.8 418.4 L677.4 417.5 L678.0 417.5 L678.6 417.8 L679.2 418.7 L679.8 419.9 L680.4 418.4 L681.0 418.7 L681.6 418.9 L682.2 418.2 L682.8 417.9 L683.4 417.7 L684.0 417.7 L684.6 417.0 L685.2 417.7 L685.8 415.7 L686.4 414.4 L687.0 411.8 L687.6 408.6 L688.2 405.9 L688.8 405.8 L689.4 406.9 L690.0 409.6 L690.6 411.3 L691.2 412.7 L691.8 412.9 L692.4 413.7 L693.0 415.0 L693.6 415.4 L694.2 416.3 L694.8 417.6 L695.4 416.7 L696.0 418.0 L696.6 418.8 L697.2 419.7 L697.8 418.8 L698.4 419.4 L699.0 419.9 L699.6 419.4 L700.2 419.7 L700.8 419.8 L701.4 419.5 L702.0 419.8 L702.6 419.9 L703.2 419.2 L703.8 419.5 L704.4 419.3 L705.0 419.0 L705.6 418.5 L706.2 419.5 L706.8 418.1 L707.4 418.6 L708.0 418.8 L708.6 417.1 L709.2 417.9 L709.8 417.2 L710.4 417.9 L711.0 418.2 L711.6 417.5 L712.2 417.7 L712.8 417.9 L713.4 417.2 L714.0 417.3 L714.6 416.8 L715.2 417.5 L715.8 417.0 L716.4 417.7 L717.0 417.5 L717.6 416.2 L718.2 416.8 L718.8 416.7 L719.4 416.6 L720.0 416.6 L720.6 416.3 L721.2 416.8 L721.8 416.7 L722.4 416.5 L723.0 416.1 L723.6 416.8 L724.2 415.7 L724.8 416.7 L725.4 416.5 L726.0 415.8 L726.6 416.4 L727.2 417.2 L727.8 416.2 L728.4 415.9 L729.0 416.2 L729.6 416.3 L730.2 416.9 L730.8 416.0 L731.4 416.4 L732.0 416.1 L732.6 416.4 L733.2 415.9 L733.8 415.2 L734.4 415.8 L735.0 415.9 L735.6 415.2 L736.2 414.2 L736.8 414.6 L737.4 414.9 L738.0 415.1 L738.6 414.4 L739.2 415.1 L739.8 414.6 L740.4 414.4 L741.0 415.4 L741.6 415.1 L742.2 416.2 L742.8 416.3 L743.4 415.8 L744.0 415.9 L744.6 416.0 L745.2 411.6 L745.8 402.9 L746.4 394.1 L747.0 387.0 L747.6 385.6 L748.2 384.7 L748.8 384.3 L749.4 384.1 L750.0 390.2 L750.6 396.3 L751.2 402.9 L751.8 408.6 L752.4 414.9 L753.0 420.6 L753.6 422.5 L754.2 424.1 L754.8 425.5 L755.4 427.8 L756.0 428.7 L756.6 430.2 L757.2 430.4 L757.8 429.9 L758.4 429.5 L759.0 430.0 L759.6 430.4 L760.2 430.4 L760.8 429.0 L761.4 429.1 L762.0 427.8 L762.6 427.5 L763.2 425.8 L763.8 424.1 L764.4 424.8 L765.0 423.9 L765.6 423.9 L766.2 422.2 L766.8 421.7 L767.4 421.7 L768.0 419.1 L768.6 419.1 L769.2 418.3 L769.8 418.7 L770.4 417.8 L771.0 417.9 L771.6 417.0 L772.2 417.4 L772.8 417.8 L773.4 417.8 L774.0 417.8 L774.6 418.5 L775.2 417.8 L775.8 418.0 L776.4 418.0 L777.0 418.4 L777.6 417.4 L778.2 417.2 L778.8 417.0 L779.4 416.4 L780.0 416.8 L780.6 416.4 L781.2 415.5 L781.8 416.0 L782.4 416.0 L783.0 416.5 L783.6 415.5 L784.2 416.0 L784.8 415.3 L785.4 415.6 L786.0 414.3 L786.6 414.1 L787.2 415.2 L787.8 422.2 L788.4 431.0 L789.0 439.2 L789.6 445.9 L790.2 452.7 L790.8 449.9 L791.4 444.9 L792.0 437.6 L792.6 431.9 L793.2 427.4 L793.8 420.4 L794.4 416.5 L795.0 411.8 L795.6 409.8 L796.2 408.5 L796.8 407.4 L797.4 406.2 L798.0 404.4 L798.6 403.7 L799.2 403.4 L799.8 402.8 L800.4 403.2 L801.0 401.8 L801.6 402.0 L802.2 402.6 L802.8 403.0 L803.4 404.2 L804.0 404.6 L804.6 404.4 L805.2 406.2 L805.8 406.1 L806.4 407.5 L807.0 407.7 L807.6 408.9 L808.2 407.8 L808.8 409.7 L809.4 409.8 L810.0 411.1 L810.6 411.6 L811.2 412.0 L811.8 411.8 L812.4 412.4 L813.0 412.5 L813.6 413.3 L814.2 413.9 L814.8 414.5 L815.4 415.1 L816.0 414.3 L816.6 415.0 L817.2 415.5 L817.8 415.4 L818.4 414.9 L819.0 415.7 L819.6 415.9 L820.2 415.9 L820.8 416.7 L821.4 416.7 L822.0 416.9 L822.6 417.2 L823.2 417.2 L823.8 417.5 L824.4 417.7 L825.0 417.6 L825.6 417.8 L826.2 418.0 L826.8 417.5 L827.4 418.1 L828.0 418.2 L828.6 417.6 L829.2 418.2 L829.8 417.9 L830.4 417.8 L831.0 418.4 L831.6 417.1 L832.2 418.0 L832.8 417.3 L833.4 417.7 L834.0 416.7 L834.6 418.0 L835.2 418.1 L835.8 417.0 L836.4 418.1 L837.0 417.0 L837.6 417.2 L838.2 416.6 L838.8 417.3 L839.4 416.8 L840.0 416.8 L840.6 416.8 L841.2 416.2 L841.8 416.9 L842.4 416.4 L843.0 417.1 L843.6 416.4 L844.2 416.3 L844.8 415.7 L845.4 415.3 L846.0 414.7 L846.6 413.4 L847.2 412.4 L847.8 412.7 L848.4 413.1 L849.0 414.3 L849.6 414.6 L850.2 415.5 L850.8 416.3 L851.4 417.2 L852.0 417.6 L852.6 419.5 L853.2 419.7 L853.8 420.2 L854.4 421.4 L855.0 421.8 L855.6 421.4 L856.2 421.4 L856.8 420.6 L857.4 420.5 L858.0 420.4 L858.6 419.1 L859.2 418.6 L859.8 419.0 L860.4 417.9 L861.0 417.5 L861.6 416.5 L862.2 415.9 L862.8 415.3 L863.4 414.9 L864.0 415.7 L864.6 414.7 L865.2 414.9 L865.8 414.7 L866.4 416.0 L867.0 414.8 L867.6 415.7 L868.2 414.6 L868.8 416.1 L869.4 416.3 L870.0 415.2 L870.6 415.9 L871.2 414.7 L871.8 415.0 L872.4 415.8 L873.0 415.4 L873.6 415.3 L874.2 415.7 L874.8 415.6 L875.4 415.7 L876.0 416.6 L876.6 415.4 L877.2 416.2 L877.8 416.6 L878.4 417.1 L879.0 417.0 L879.6 416.8 L880.2 416.2 L880.8 418.6 L881.4 417.1 L882.0 417.8 L882.6 416.8 L883.2 417.6 L883.8 416.4 L884.4 416.6 L885.0 416.8 L885.6 416.0 L886.2 416.7 L886.8 416.2 L887.4 416.5 L888.0 415.5 L888.6 413.4 L889.2 411.4 L889.8 410.2 L890.4 410.8 L891.0 411.1 L891.6 414.0 L892.2 414.4 L892.8 416.4 L893.4 416.9 L894.0 416.8 L894.6 417.0 L895.2 418.1 L895.8 418.8 L896.4 418.3 L897.0 419.2 L897.6 419.3 L898.2 418.8 L898.8 418.7 L899.4 419.6 L900.0 419.6 L900.6 419.3 L901.2 419.4 L901.8 420.6 L902.4 419.7 L903.0 419.5 L903.6 418.7 L904.2 418.9 L904.8 419.2 L905.4 418.1 L906.0 418.0 L906.6 417.9 L907.2 417.7 L907.8 417.9 L908.4 417.2 L909.0 417.4 L909.6 417.2 L910.2 417.1 L910.8 417.0 L911.4 416.2 L912.0 416.2 L912.6 416.0 L913.2 416.8 L913.8 417.0 L914.4 416.9 L915.0 417.4 L915.6 416.5 L916.2 417.1 L916.8 416.7 L917.4 417.0 L918.0 416.2 L918.6 416.5 L919.2 416.1 L919.8 416.0 L920.4 415.5 L921.0 417.0 L921.6 416.7 L922.2 417.9 L922.8 416.6 L923.4 416.8 L924.0 416.2 L924.6 417.2 L925.2 416.4 L925.8 417.7 L926.4 417.8 L927.0 415.9 L927.6 416.5 L928.2 416.2 L928.8 416.5 L929.4 416.3 L930.0 417.1 L930.6 417.5 L931.2 417.4 L931.8 422.0 L932.4 428.8 L933.0 436.3 L933.6 441.7 L934.2 445.0 L934.8 449.5 L935.4 445.3 L936.0 441.6 L936.6 438.6 L937.2 433.4 L937.8 428.9 L938.4 425.2 L939.0 420.2 L939.6 415.6 L940.2 411.1 L940.8 408.2 L941.4 406.9 L942.0 405.1 L942.6 403.3 L943.2 402.9 L943.8 400.8 L944.4 399.8 L945.0 400.5 L945.6 400.1 L946.2 400.2 L946.8 401.3 L947.4 401.1 L948.0 401.3 L948.6 402.7 L949.2 402.6 L949.8 404.6 L950.4 405.7 L951.0 406.0 L951.6 406.6 L952.2 408.7 L952.8 409.5 L953.4 410.0 L954.0 410.6 L954.6 411.3 L955.2 412.2 L955.8 413.1 L956.4 412.8 L957.0 414.2 L957.6 414.0 L958.2 414.5 L958.8 415.2 L959.4 415.8 L960.0 416.0 L960.6 416.0 L961.2 415.7 L961.8 416.9 L962.4 416.5 L963.0 416.9 L963.6 416.7 L964.2 418.1 L964.8 416.8 L965.4 410.8 L966.0 402.3 L966.6 392.0 L967.2 383.0 L967.8 378.5 L968.4 375.9 L969.0 375.3 L969.6 376.1 L970.2 382.1 L970.8 392.5 L971.4 402.7 L972.0 408.5 L972.6 413.2 L973.2 418.9 L973.8 423.9 L974.4 427.4 L975.0 428.7 L975.6 430.2 L976.2 431.1 L976.8 431.7 L977.4 432.4 L978.0 433.3 L978.6 433.5 L979.2 434.4 L979.8 434.0 L980.4 434.0 L981.0 433.1 L981.6 432.6 L982.2 431.8 L982.8 431.3 L983.4 429.8 L984.0 429.4 L984.6 428.8 L985.2 426.8 L985.8 426.9 L986.4 425.5 L987.0 424.9 L987.6 424.2 L988.2 423.4 L988.8 422.3 L989.4 422.0 L990.0 421.4 L990.6 420.2 L991.2 419.0 L991.8 418.5 L992.4 418.7 L993.0 417.9 L993.6 417.2 L994.2 416.9 L994.8 417.4 L995.4 417.2 L996.0 418.0 L996.6 416.2 L997.2 417.0 L997.8 417.2 L998.4 417.1 L999.0 415.9 L999.6 416.6 L1000.2 416.4 L1000.8 416.4 L1001.4 416.3 L1002.0 415.7 L1002.6 415.8 L1003.2 414.7 L1003.8 413.9 L1004.4 413.9 L1005.0 414.6 L1005.6 415.6 L1006.2 415.1 L1006.8 416.3 L1007.4 415.7 L1008.0 416.1 L1008.6 415.8 L1009.2 416.3 L1009.8 416.3 L1010.4 416.7 L1011.0 416.1 L1011.6 416.3 L1012.2 415.6 L1012.8 416.0 L1013.4 416.9 L1014.0 415.6 L1014.6 416.1 L1015.2 416.4 L1015.8 416.3 L1016.4 415.9 L1017.0 415.8 L1017.6 415.6 L1018.2 416.9 L1018.8 415.7 L1019.4 416.3 L1020.0 416.1 L1020.6 416.4 L1021.2 416.2 L1021.8 416.9 L1022.4 417.4 L1023.0 416.8 L1023.6 417.2 L1024.2 417.4 L1024.8 417.2 L1025.4 418.3 L1026.0 417.1 L1026.6 417.2 L1027.2 417.7 L1027.8 417.3 L1028.4 417.0 L1029.0 417.5 L1029.6 415.9 L1030.2 416.9 L1030.8 417.2 L1031.4 415.9 L1032.0 417.6 L1032.6 416.4 L1033.2 416.3 L1033.8 416.3 L1034.4 415.9 L1035.0 416.8 L1035.6 415.1 L1036.2 415.1 L1036.8 415.7 L1037.4 415.0 L1038.0 408.9 L1038.6 402.6 L1039.2 394.0 L1039.8 387.3 L1040.4 384.7 L1041.0 383.7 L1041.6 382.6 L1042.2 383.2 L1042.8 384.6 L1043.4 386.4 L1044.0 390.8 L1044.6 396.9 L1045.2 403.8 L1045.8 409.5 L1046.4 415.2 L1047.0 418.1 L1047.6 419.9 L1048.2 424.4 L1048.8 428.0 L1049.4 428.8 L1050.0 431.7 L1050.6 431.5 L1051.2 430.2 L1051.8 431.4 L1052.4 430.6 L1053.0 429.7 L1053.6 429.8 L1054.2 429.0 L1054.8 429.0 L1055.4 428.9 L1056.0 427.5 L1056.6 427.5 L1057.2 427.5 L1057.8 425.7 L1058.4 425.8 L1059.0 424.8 L1059.6 425.1 L1060.2 423.7 L1060.8 423.8 L1061.4 422.8 L1062.0 422.6 L1062.6 421.7 L1063.2 420.4 L1063.8 420.0 L1064.4 420.8 L1065.0 420.2 L1065.6 418.9 L1066.2 418.6 L1066.8 417.3 L1067.4 416.7 L1068.0 415.8 L1068.6 415.7 L1069.2 416.0 L1069.8 414.0 L1070.4 414.3 L1071.0 413.7 L1071.6 413.6 L1072.2 412.4 L1072.8 412.5 L1073.4 414.0 L1074.0 413.5 L1074.6 415.1 L1075.2 415.8 L1075.8 417.8 L1076.4 428.3 L1077.0 439.0 L1077.6 447.1 L1078.2 451.2 L1078.8 453.3 L1079.4 452.2 L1080.0 448.3 L1080.6 444.3 L1081.2 437.7 L1081.8 431.5 L1082.4 425.7 L1083.0 418.7 L1083.6 412.1 L1084.2 410.1 L1084.8 408.5 L1085.4 405.7 L1086.0 404.4 L1086.6 402.6 L1087.2 401.6 L1087.8 400.8 L1088.4 400.8 L1089.0 400.9 L1089.6 400.9 L1090.2 400.3 L1090.8 401.5 L1091.4 401.4 L1092.0 402.3 L1092.6 402.4 L1093.2 403.1 L1093.8 403.4 L1094.4 403.6 L1095.0 405.9 L1095.6 406.0 L1096.2 406.4 L1096.8 407.6 L1097.4 408.9 L1098.0 409.4 L1098.6 410.7 L1099.2 410.4 L1099.8 411.9 L1100.4 412.6 L1101.0 414.2 L1101.6 414.5 L1102.2 415.1 L1102.8 415.8 L1103.4 416.0 L1104.0 415.5 L1104.6 417.3 L1105.2 416.7 L1105.8 415.4 L1106.4 414.6 L1107.0 414.2 L1107.6 413.7 L1108.2 413.8 L1108.8 414.7 L1109.4 414.7 L1110.0 415.9 L1110.6 416.2 L1111.2 416.7 L1111.8 415.8 L1112.4 416.1 L1113.0 418.0 L1113.6 416.8 L1114.2 417.0 L1114.8 417.4 L1115.4 417.1 L1116.0 417.5 L1116.6 416.6 L1117.2 417.5 L1117.8 417.6 L1118.4 416.8 L1119.0 417.0 L1119.6 418.2 L1120.2 417.4 L1120.8 417.5 L1121.4 418.1 L1122.0 417.8 L1122.6 417.0 L1123.2 417.9 L1123.8 417.9 L1124.4 418.0 L1125.0 418.7 L1125.6 418.4 L1126.2 417.9 L1126.8 419.5 L1127.4 418.3 L1128.0 417.5 L1128.6 417.7 L1129.2 417.2 L1129.8 417.1 L1130.4 417.3 L1131.0 416.7 L1131.6 417.4 L1132.2 416.9 L1132.8 416.3 L1133.4 416.2 L1134.0 416.1 L1134.6 416.0 L1135.2 415.6 L1135.8 416.3 L1136.4 415.2 L1137.0 416.1 L1137.6 416.1 L1138.2 415.7 L1138.8 414.9 L1139.4 412.9 L1140.0 412.3 L1140.6 410.0 L1141.2 409.6 L1141.8 409.8 L1142.4 411.2 L1143.0 410.3 L1143.6 412.5 L1144.2 413.5 L1144.8 414.6 L1145.4 415.6 L1146.0 417.5 L1146.6 419.5 L1147.2 417.9 L1147.8 419.0 L1148.4 419.8 L1149.0 420.1 L1149.6 420.5 L1150.2 420.5 L1150.8 420.9 L1151.4 420.3 L1152.0 420.7 L1152.6 419.4 L1153.2 418.9 L1153.8 419.0 L1154.4 418.0 L1155.0 418.0 L1155.6 416.8 L1156.2 416.5 L1156.8 416.7 L1157.4 416.6 L1158.0 416.6 L1158.6 416.9 L1159.2 416.9 L1159.8 416.7 L1160.4 417.0 L1161.0 416.9 L1161.6 417.1 L1162.2 416.5 L1162.8 416.5 L1163.4 416.6 L1164.0 417.4 L1164.6 417.2 L1165.2 416.7 L1165.8 416.2 L1166.4 416.8 L1167.0 417.1 L1167.6 417.3 L1168.2 416.8 L1168.8 416.0 L1169.4 416.1 L1170.0 416.4 L1170.6 417.2 L1171.2 416.5 L1171.8 417.0 L1172.4 416.1 L1173.0 417.2 L1173.6 417.1 L1174.2 416.6 L1174.8 416.6 L1175.4 416.0 L1176.0 415.7 L1176.6 414.8 L1177.2 414.1 L1177.8 414.7 L1178.4 415.8 L1179.0 417.6 L1179.6 418.3 L1180.2 418.8 L1180.8 419.4 L1181.4 420.1 L1182.0 420.8 L1182.6 420.5 L1183.2 419.3 L1183.8 418.8 L1184.4 418.1 L1185.0 417.7 L1185.6 417.6 L1186.2 417.3 L1186.8 418.1 L1187.4 418.5 L1188.0 418.2 L1188.6 419.1 L1189.2 417.5 L1189.8 418.1 L1190.4 417.7 L1191.0 417.4 L1191.6 417.0 L1192.2 416.8 L1192.8 417.1 L1193.4 416.5 L1194.0 416.6 L1194.6 416.0 L1195.2 417.2 L1195.8 416.1 L1196.4 415.6 L1197.0 415.3 L1197.6 414.9 L1198.2 415.6 L1198.8 416.5 L1199.4 415.8 L1200.0 415.9 L1200.6 416.6 L1201.2 416.1 L1201.8 416.3 L1202.4 416.2 L1203.0 416.6 L1203.6 416.3 L1204.2 416.0 L1204.8 416.2 L1205.4 416.9 L1206.0 416.7 L1206.6 416.7 L1207.2 417.2 L1207.8 416.2 L1208.4 416.8 L1209.0 415.6 L1209.6 416.6 L1210.2 416.2 L1210.8 416.4 L1211.4 416.2 L1212.0 417.3 L1212.6 416.5 L1213.2 416.9 L1213.8 416.2 L1214.4 416.6 L1215.0 416.3 L1215.6 416.1 L1216.2 416.4 L1216.8 416.7" fill="none" stroke="#e8960e" stroke-width="1.5" stroke-linejoin="round"/>
<path d="M533.0 241.5 V342.0 H1217.7 V241.5" fill="none" stroke="#454545" stroke-width="1.4"/>
<path d="M532.3 241.5 H1218.4" fill="none" stroke="#1c1c1c" stroke-width="1.6"/>
<path d="M533.0 366.8 V466.3 H1217.7 V366.8" fill="none" stroke="#454545" stroke-width="1.4"/>
<path d="M532.3 366.8 H1218.4" fill="none" stroke="#1c1c1c" stroke-width="1.6"/>
<text x="528.4" y="255.5" font-size="15" text-anchor="end" fill="#2a2a2a">0.5</text>
<path d="M533.0 250.2 h7 M1217.7 250.2 h-7" stroke="#454545" stroke-width="1.2"/>
<text x="528.4" y="297.0" font-size="15" text-anchor="end" fill="#2a2a2a">0</text>
<text x="528.4" y="338.5" font-size="15" text-anchor="end" fill="#2a2a2a">-0.5</text>
<path d="M533.0 333.2 h7 M1217.7 333.2 h-7" stroke="#454545" stroke-width="1.2"/>
<text x="528.4" y="380.8" font-size="15" text-anchor="end" fill="#2a2a2a">0.5</text>
<path d="M533.0 375.5 h7 M1217.7 375.5 h-7" stroke="#454545" stroke-width="1.2"/>
<text x="528.4" y="422.3" font-size="15" text-anchor="end" fill="#2a2a2a">0</text>
<text x="528.4" y="463.8" font-size="15" text-anchor="end" fill="#2a2a2a">-0.5</text>
<path d="M533.0 458.5 h7 M1217.7 458.5 h-7" stroke="#454545" stroke-width="1.2"/>
<text x="533.0" y="485.8" font-size="15" text-anchor="middle" fill="#2a2a2a">0</text>
<path d="M595.3 366.8 v6.5 M595.3 466.3 v-6.5" stroke="#454545" stroke-width="1.2"/>
<text x="595.26" y="485.8" font-size="15" text-anchor="middle" fill="#2a2a2a">2</text>
<path d="M657.5 366.8 v6.5 M657.5 466.3 v-6.5" stroke="#454545" stroke-width="1.2"/>
<text x="657.52" y="485.8" font-size="15" text-anchor="middle" fill="#2a2a2a">4</text>
<path d="M719.8 366.8 v6.5 M719.8 466.3 v-6.5" stroke="#454545" stroke-width="1.2"/>
<text x="719.78" y="485.8" font-size="15" text-anchor="middle" fill="#2a2a2a">6</text>
<path d="M782.0 366.8 v6.5 M782.0 466.3 v-6.5" stroke="#454545" stroke-width="1.2"/>
<text x="782.04" y="485.8" font-size="15" text-anchor="middle" fill="#2a2a2a">8</text>
<path d="M844.3 366.8 v6.5 M844.3 466.3 v-6.5" stroke="#454545" stroke-width="1.2"/>
<text x="844.3" y="485.8" font-size="15" text-anchor="middle" fill="#2a2a2a">10</text>
<path d="M906.6 366.8 v6.5 M906.6 466.3 v-6.5" stroke="#454545" stroke-width="1.2"/>
<text x="906.56" y="485.8" font-size="15" text-anchor="middle" fill="#2a2a2a">12</text>
<path d="M968.8 366.8 v6.5 M968.8 466.3 v-6.5" stroke="#454545" stroke-width="1.2"/>
<text x="968.8199999999999" y="485.8" font-size="15" text-anchor="middle" fill="#2a2a2a">14</text>
<path d="M1031.1 366.8 v6.5 M1031.1 466.3 v-6.5" stroke="#454545" stroke-width="1.2"/>
<text x="1031.08" y="485.8" font-size="15" text-anchor="middle" fill="#2a2a2a">16</text>
<path d="M1093.3 366.8 v6.5 M1093.3 466.3 v-6.5" stroke="#454545" stroke-width="1.2"/>
<text x="1093.3400000000001" y="485.8" font-size="15" text-anchor="middle" fill="#2a2a2a">18</text>
<path d="M1155.6 366.8 v6.5 M1155.6 466.3 v-6.5" stroke="#454545" stroke-width="1.2"/>
<text x="1155.6" y="485.8" font-size="15" text-anchor="middle" fill="#2a2a2a">20</text>
<text x="1217.8600000000001" y="485.8" font-size="15" text-anchor="middle" fill="#2a2a2a">22</text>
<text x="482.3" y="350" font-size="18.3" text-anchor="middle" font-weight="bold" fill="#111" transform="rotate(-90 482.3 350)">Potential (mV)</text>
<text x="873.5" y="514.4" font-size="18.3" text-anchor="middle" font-weight="bold" fill="#111">Time (s)</text>
</svg>
</body></html>
